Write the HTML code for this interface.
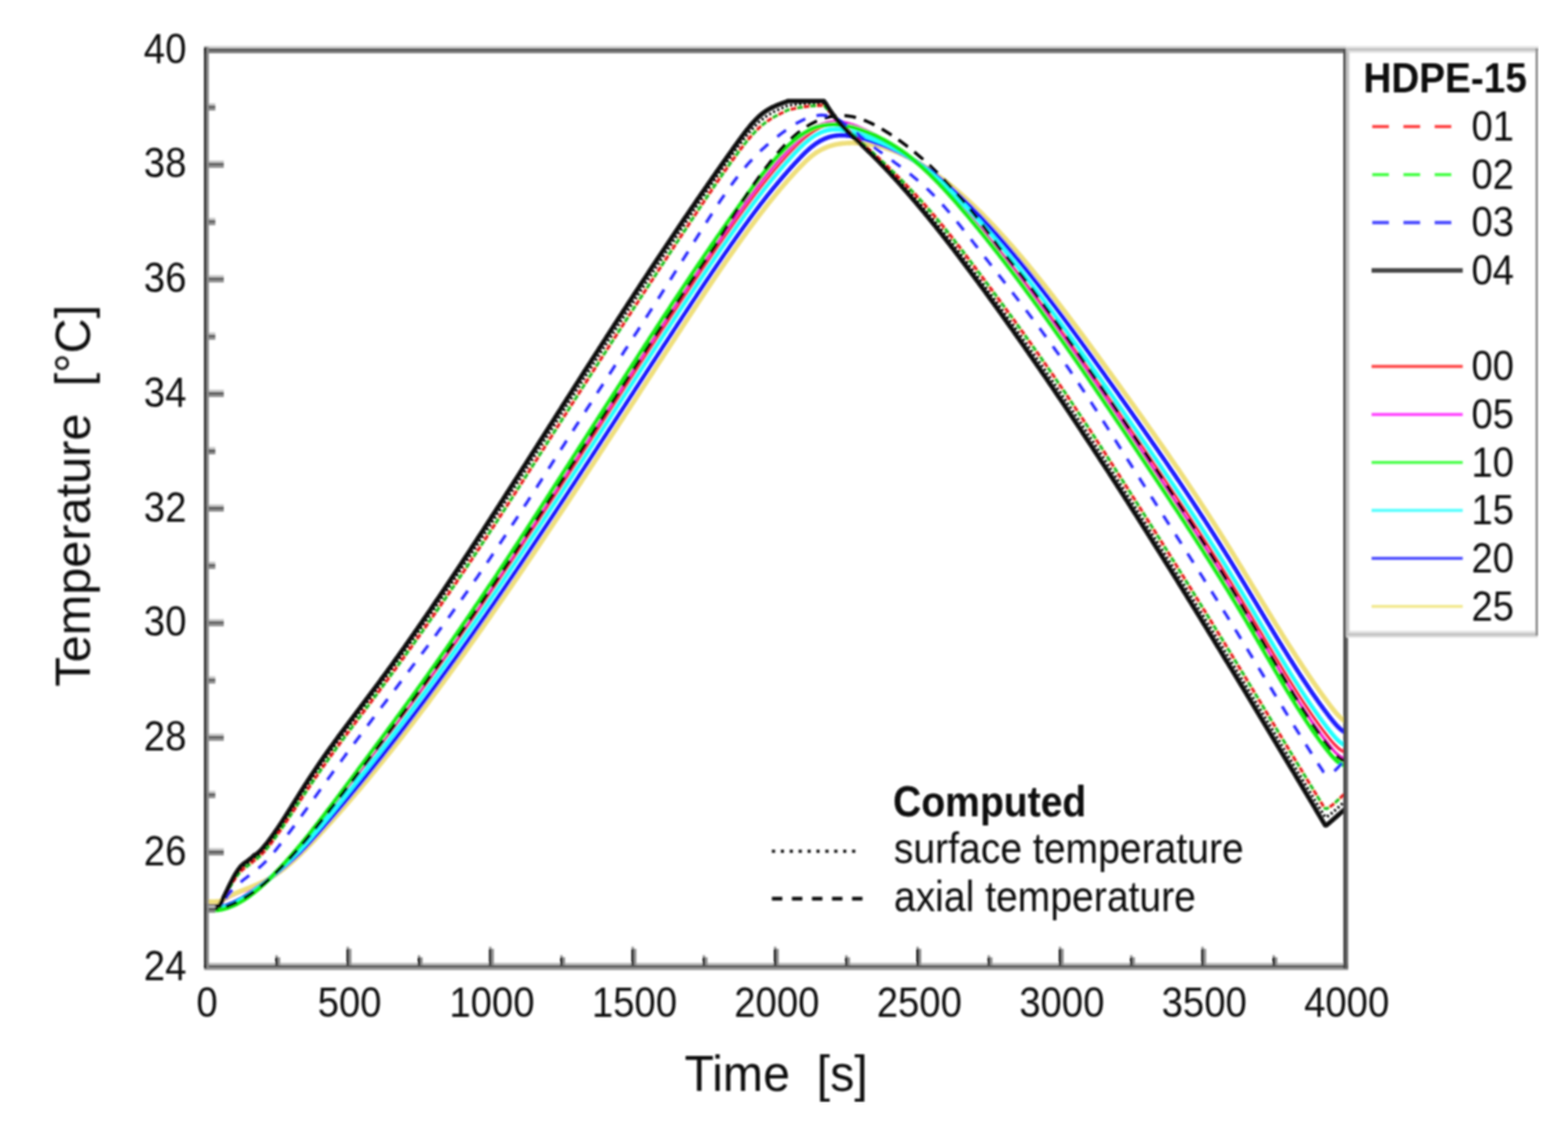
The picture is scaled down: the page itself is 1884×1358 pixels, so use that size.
<!DOCTYPE html>
<html><head><meta charset="utf-8"><style>html,body{margin:0;padding:0;background:#fff;overflow:hidden;}svg{display:block;}</style></head><body>
<svg width="1884" height="1358" viewBox="0 0 1884 1358">
<rect width="1884" height="1358" fill="#fff"/>
<defs><clipPath id="pc"><rect x="248" y="61" width="1369" height="1100"/></clipPath><filter id="bl" x="0" y="0" width="1" height="1"><feGaussianBlur stdDeviation="0.9"/></filter></defs>
<g filter="url(#bl)">
<g clip-path="url(#pc)" fill="none" stroke-linejoin="round">
<path d="M248.0 1084.0L249.0 1084.0L250.0 1084.0L251.0 1084.0L252.0 1084.0L253.0 1084.0L254.0 1084.0L255.0 1084.0L256.0 1084.0L257.0 1084.0L258.0 1084.0L259.0 1084.0L260.0 1083.9L261.0 1083.9L262.0 1083.9L263.0 1083.8L264.0 1083.7L265.0 1083.3L266.0 1082.7L267.0 1082.1L268.0 1081.5L269.0 1081.0L270.0 1080.5L271.0 1079.9L272.0 1079.4L273.0 1078.9L274.0 1078.4L275.0 1077.9L276.0 1077.4L277.0 1076.9L278.0 1076.4L279.0 1076.0L280.0 1075.5L281.0 1075.1L282.0 1074.6L283.0 1074.2L284.0 1073.7L285.0 1073.3L286.0 1072.9L287.0 1072.5L288.0 1072.0L289.0 1071.6L290.0 1071.2L291.0 1070.9L292.0 1070.6L293.0 1070.3L294.0 1070.0L295.0 1069.7L296.0 1069.4L297.0 1069.0L298.0 1068.7L299.0 1068.4L300.0 1068.0L301.0 1067.7L302.0 1067.3L303.0 1066.9L304.0 1066.5L305.0 1066.1L306.0 1065.7L307.0 1065.3L308.0 1064.8L309.0 1064.4L310.0 1063.9L311.0 1063.4L312.0 1062.9L313.0 1062.4L314.0 1061.9L315.0 1061.4L316.0 1060.8L317.0 1060.2L318.0 1059.6L319.0 1059.0L320.0 1058.4L321.0 1057.7L322.0 1057.1L323.0 1056.4L324.0 1055.7L325.0 1054.9L326.0 1054.2L327.0 1053.5L328.0 1052.7L329.0 1051.9L330.0 1051.1L331.0 1050.2L332.0 1049.4L333.0 1048.5L334.0 1047.6L335.0 1046.8L336.0 1045.8L337.0 1044.9L338.0 1044.0L339.0 1043.0L340.0 1042.0L341.0 1041.0L342.0 1040.0L343.0 1039.0L344.0 1038.0L345.0 1037.0L346.0 1035.9L347.0 1034.8L348.0 1033.7L349.0 1032.6L350.0 1031.5L351.0 1030.4L352.0 1029.3L353.0 1028.1L354.0 1027.0L355.0 1025.8L356.0 1024.6L357.0 1023.4L358.0 1022.2L359.0 1021.0L360.0 1019.8L361.0 1018.7L362.0 1017.6L363.0 1016.4L364.0 1015.3L365.0 1014.1L366.0 1013.0L367.0 1011.8L368.0 1010.7L369.0 1009.5L370.0 1008.3L371.0 1007.2L372.0 1006.0L373.0 1004.8L374.0 1003.6L375.0 1002.4L376.0 1001.2L377.0 1000.0L378.0 998.8L379.0 997.6L380.0 996.4L381.0 995.2L382.0 994.0L383.0 992.7L384.0 991.5L385.0 990.3L386.0 989.1L387.0 987.8L388.0 986.6L389.0 985.4L390.0 984.1L391.0 982.9L392.0 981.6L393.0 980.4L394.0 979.1L395.0 977.9L396.0 976.6L397.0 975.4L398.0 974.1L399.0 972.9L400.0 971.6L401.0 970.4L402.0 969.1L403.0 967.8L404.0 966.6L405.0 965.3L406.0 964.0L407.0 962.8L408.0 961.5L409.0 960.2L410.0 958.9L411.0 957.7L412.0 956.4L413.0 955.1L414.0 953.8L415.0 952.5L416.0 951.3L417.0 950.0L418.0 948.7L419.0 947.4L420.0 946.1L421.0 944.8L422.0 943.6L423.0 942.3L424.0 941.0L425.0 939.7L426.0 938.4L427.0 937.1L428.0 935.8L429.0 934.5L430.0 933.2L431.0 932.0L432.0 930.7L433.0 929.4L434.0 928.1L435.0 926.8L436.0 925.5L437.0 924.2L438.0 922.9L439.0 921.6L440.0 920.3L441.0 919.0L442.0 917.7L443.0 916.4L444.0 915.1L445.0 913.8L446.0 912.5L447.0 911.2L448.0 909.8L449.0 908.5L450.0 907.2L451.0 905.9L452.0 904.6L453.0 903.3L454.0 902.0L455.0 900.7L456.0 899.4L457.0 898.0L458.0 896.7L459.0 895.4L460.0 894.1L461.0 892.8L462.0 891.4L463.0 890.1L464.0 888.8L465.0 887.5L466.0 886.2L467.0 884.8L468.0 883.5L469.0 882.2L470.0 880.9L471.0 879.5L472.0 878.2L473.0 876.9L474.0 875.5L475.0 874.2L476.0 872.9L477.0 871.5L478.0 870.2L479.0 868.9L480.0 867.5L481.0 866.2L482.0 864.8L483.0 863.5L484.0 862.2L485.0 860.8L486.0 859.5L487.0 858.1L488.0 856.8L489.0 855.4L490.0 854.1L491.0 852.7L492.0 851.4L493.0 850.0L494.0 848.7L495.0 847.3L496.0 846.0L497.0 844.6L498.0 843.2L499.0 841.9L500.0 840.5L501.0 839.2L502.0 837.8L503.0 836.4L504.0 835.1L505.0 833.7L506.0 832.3L507.0 831.0L508.0 829.6L509.0 828.2L510.0 826.8L511.0 825.5L512.0 824.1L513.0 822.7L514.0 821.3L515.0 820.0L516.0 818.6L517.0 817.2L518.0 815.8L519.0 814.4L520.0 813.0L521.0 811.7L522.0 810.3L523.0 808.9L524.0 807.5L525.0 806.1L526.0 804.7L527.0 803.3L528.0 801.9L529.0 800.5L530.0 799.1L531.0 797.7L532.0 796.3L533.0 794.9L534.0 793.5L535.0 792.1L536.0 790.7L537.0 789.3L538.0 787.9L539.0 786.5L540.0 785.0L541.0 783.6L542.0 782.2L543.0 780.8L544.0 779.4L545.0 778.0L546.0 776.5L547.0 775.1L548.0 773.7L549.0 772.3L550.0 770.8L551.0 769.4L552.0 768.0L553.0 766.5L554.0 765.1L555.0 763.7L556.0 762.2L557.0 760.8L558.0 759.4L559.0 757.9L560.0 756.5L561.0 755.0L562.0 753.6L563.0 752.2L564.0 750.7L565.0 749.3L566.0 747.8L567.0 746.4L568.0 744.9L569.0 743.5L570.0 742.0L571.0 740.6L572.0 739.1L573.0 737.6L574.0 736.2L575.0 734.7L576.0 733.3L577.0 731.8L578.0 730.3L579.0 728.9L580.0 727.4L581.0 725.9L582.0 724.5L583.0 723.0L584.0 721.5L585.0 720.1L586.0 718.6L587.0 717.1L588.0 715.6L589.0 714.2L590.0 712.7L591.0 711.2L592.0 709.7L593.0 708.3L594.0 706.8L595.0 705.3L596.0 703.8L597.0 702.3L598.0 700.8L599.0 699.3L600.0 697.9L601.0 696.4L602.0 694.9L603.0 693.4L604.0 691.9L605.0 690.4L606.0 688.9L607.0 687.4L608.0 685.9L609.0 684.4L610.0 682.9L611.0 681.4L612.0 679.9L613.0 678.4L614.0 676.9L615.0 675.4L616.0 673.9L617.0 672.4L618.0 670.9L619.0 669.4L620.0 667.9L621.0 666.4L622.0 664.9L623.0 663.4L624.0 661.9L625.0 660.4L626.0 658.9L627.0 657.3L628.0 655.8L629.0 654.3L630.0 652.8L631.0 651.3L632.0 649.8L633.0 648.3L634.0 646.7L635.0 645.2L636.0 643.7L637.0 642.2L638.0 640.7L639.0 639.1L640.0 637.6L641.0 636.1L642.0 634.6L643.0 633.1L644.0 631.5L645.0 630.0L646.0 628.5L647.0 627.0L648.0 625.4L649.0 623.9L650.0 622.4L651.0 620.8L652.0 619.3L653.0 617.8L654.0 616.3L655.0 614.7L656.0 613.2L657.0 611.7L658.0 610.1L659.0 608.6L660.0 607.1L661.0 605.5L662.0 604.0L663.0 602.5L664.0 600.9L665.0 599.4L666.0 597.8L667.0 596.3L668.0 594.8L669.0 593.2L670.0 591.7L671.0 590.2L672.0 588.6L673.0 587.1L674.0 585.5L675.0 584.0L676.0 582.5L677.0 580.9L678.0 579.4L679.0 577.8L680.0 576.3L681.0 574.7L682.0 573.2L683.0 571.7L684.0 570.1L685.0 568.6L686.0 567.0L687.0 565.5L688.0 563.9L689.0 562.4L690.0 560.8L691.0 559.3L692.0 557.7L693.0 556.2L694.0 554.7L695.0 553.1L696.0 551.6L697.0 550.0L698.0 548.5L699.0 546.9L700.0 545.4L701.0 543.8L702.0 542.3L703.0 540.7L704.0 539.2L705.0 537.6L706.0 536.1L707.0 534.5L708.0 533.0L709.0 531.4L710.0 529.9L711.0 528.3L712.0 526.8L713.0 525.2L714.0 523.7L715.0 522.1L716.0 520.6L717.0 519.0L718.0 517.5L719.0 515.9L720.0 514.4L721.0 512.8L722.0 511.3L723.0 509.7L724.0 508.2L725.0 506.6L726.0 505.0L727.0 503.5L728.0 501.9L729.0 500.4L730.0 498.8L731.0 497.3L732.0 495.7L733.0 494.2L734.0 492.6L735.0 491.1L736.0 489.5L737.0 488.0L738.0 486.4L739.0 484.9L740.0 483.3L741.0 481.8L742.0 480.2L743.0 478.7L744.0 477.1L745.0 475.6L746.0 474.0L747.0 472.5L748.0 470.9L749.0 469.4L750.0 467.8L751.0 466.3L752.0 464.7L753.0 463.2L754.0 461.6L755.0 460.1L756.0 458.5L757.0 457.0L758.0 455.5L759.0 453.9L760.0 452.4L761.0 450.8L762.0 449.3L763.0 447.7L764.0 446.2L765.0 444.6L766.0 443.1L767.0 441.5L768.0 440.0L769.0 438.5L770.0 436.9L771.0 435.4L772.0 433.8L773.0 432.3L774.0 430.7L775.0 429.2L776.0 427.7L777.0 426.1L778.0 424.6L779.0 423.0L780.0 421.5L781.0 420.0L782.0 418.4L783.0 416.9L784.0 415.4L785.0 413.8L786.0 412.3L787.0 410.8L788.0 409.2L789.0 407.7L790.0 406.2L791.0 404.6L792.0 403.1L793.0 401.6L794.0 400.0L795.0 398.5L796.0 397.0L797.0 395.4L798.0 393.9L799.0 392.4L800.0 390.9L801.0 389.3L802.0 387.8L803.0 386.3L804.0 384.8L805.0 383.2L806.0 381.7L807.0 380.2L808.0 378.7L809.0 377.1L810.0 375.6L811.0 374.1L812.0 372.6L813.0 371.1L814.0 369.6L815.0 368.0L816.0 366.5L817.0 365.0L818.0 363.5L819.0 362.0L820.0 360.5L821.0 359.0L822.0 357.5L823.0 355.9L824.0 354.4L825.0 352.9L826.0 351.4L827.0 349.9L828.0 348.4L829.0 346.9L830.0 345.4L831.0 343.9L832.0 342.4L833.0 340.9L834.0 339.4L835.0 337.9L836.0 336.4L837.0 334.9L838.0 333.4L839.0 331.9L840.0 330.5L841.0 329.0L842.0 327.5L843.0 326.0L844.0 324.5L845.0 323.0L846.0 321.5L847.0 320.1L848.0 318.6L849.0 317.1L850.0 315.6L851.0 314.2L852.0 312.7L853.0 311.2L854.0 309.7L855.0 308.3L856.0 306.8L857.0 305.3L858.0 303.9L859.0 302.4L860.0 301.0L861.0 299.5L862.0 298.1L863.0 296.6L864.0 295.1L865.0 293.7L866.0 292.2L867.0 290.8L868.0 289.4L869.0 287.9L870.0 286.5L871.0 285.0L872.0 283.6L873.0 282.2L874.0 280.7L875.0 279.3L876.0 277.9L877.0 276.4L878.0 275.0L879.0 273.6L880.0 272.2L881.0 270.7L882.0 269.3L883.0 267.9L884.0 266.5L885.0 265.1L886.0 263.7L887.0 262.3L888.0 260.9L889.0 259.5L890.0 258.1L891.0 256.7L892.0 255.3L893.0 253.9L894.0 252.5L895.0 251.1L896.0 249.7L897.0 248.3L898.0 247.0L899.0 245.6L900.0 244.2L901.0 242.9L902.0 241.5L903.0 240.1L904.0 238.8L905.0 237.4L906.0 236.1L907.0 234.8L908.0 233.4L909.0 232.1L910.0 230.8L911.0 229.5L912.0 228.2L913.0 226.8L914.0 225.5L915.0 224.3L916.0 223.0L917.0 221.7L918.0 220.4L919.0 219.1L920.0 217.9L921.0 216.6L922.0 215.3L923.0 214.1L924.0 212.9L925.0 211.6L926.0 210.4L927.0 209.2L928.0 207.9L929.0 206.7L930.0 205.5L931.0 204.3L932.0 203.2L933.0 202.0L934.0 200.8L935.0 199.6L936.0 198.5L937.0 197.3L938.0 196.2L939.0 195.0L940.0 193.9L941.0 192.8L942.0 191.6L943.0 190.5L944.0 189.4L945.0 188.3L946.0 187.2L947.0 186.2L948.0 185.1L949.0 184.0L950.0 183.0L951.0 181.9L952.0 180.9L953.0 179.8L954.0 178.8L955.0 177.8L956.0 176.8L957.0 175.8L958.0 174.8L959.0 173.8L960.0 172.8L961.0 171.9L962.0 170.9L963.0 170.0L964.0 169.1L965.0 168.2L966.0 167.3L967.0 166.4L968.0 165.5L969.0 164.6L970.0 163.8L971.0 163.0L972.0 162.2L973.0 161.4L974.0 160.6L975.0 159.9L976.0 159.1L977.0 158.4L978.0 157.7L979.0 157.1L980.0 156.4L981.0 155.8L982.0 155.2L983.0 154.7L984.0 154.1L985.0 153.6L986.0 153.1L987.0 152.6L988.0 152.1L989.0 151.7L990.0 151.3L991.0 150.9L992.0 150.5L993.0 150.2L994.0 149.9L995.0 149.6L996.0 149.3L997.0 149.0L998.0 148.8L999.0 148.6L1000.0 148.4L1001.0 148.3L1002.0 148.1L1003.0 148.0L1004.0 147.9L1005.0 147.9L1006.0 147.8L1007.0 147.8L1008.0 147.8L1009.0 147.8L1010.0 147.9L1011.0 148.0L1012.0 148.0L1013.0 148.2L1014.0 148.3L1015.0 148.4L1016.0 148.6L1017.0 148.8L1018.0 149.0L1019.0 149.2L1020.0 149.5L1021.0 149.7L1022.0 150.0L1023.0 150.3L1024.0 150.6L1025.0 150.9L1026.0 151.2L1027.0 151.6L1028.0 151.9L1029.0 152.3L1030.0 152.7L1031.0 153.1L1032.0 153.5L1033.0 153.9L1034.0 154.4L1035.0 154.8L1036.0 155.2L1037.0 155.7L1038.0 156.2L1039.0 156.6L1040.0 157.1L1041.0 157.6L1042.0 158.1L1043.0 158.6L1044.0 159.1L1045.0 159.6L1046.0 160.1L1047.0 160.6L1048.0 161.2L1049.0 161.7L1050.0 162.2L1051.0 162.7L1052.0 163.3L1053.0 163.8L1054.0 164.4L1055.0 164.9L1056.0 165.5L1057.0 166.0L1058.0 166.6L1059.0 167.2L1060.0 167.7L1061.0 168.3L1062.0 168.9L1063.0 169.5L1064.0 170.1L1065.0 170.6L1066.0 171.2L1067.0 171.8L1068.0 172.4L1069.0 173.0L1070.0 173.6L1071.0 174.2L1072.0 174.8L1073.0 175.4L1074.0 176.1L1075.0 176.7L1076.0 177.3L1077.0 177.9L1078.0 178.6L1079.0 179.2L1080.0 179.8L1081.0 180.5L1082.0 181.1L1083.0 181.8L1084.0 182.4L1085.0 183.1L1086.0 183.8L1087.0 184.5L1088.0 185.1L1089.0 185.8L1090.0 186.5L1091.0 187.2L1092.0 187.9L1093.0 188.6L1094.0 189.4L1095.0 190.1L1096.0 190.8L1097.0 191.5L1098.0 192.3L1099.0 193.0L1100.0 193.8L1101.0 194.6L1102.0 195.3L1103.0 196.1L1104.0 196.9L1105.0 197.7L1106.0 198.5L1107.0 199.3L1108.0 200.1L1109.0 200.9L1110.0 201.7L1111.0 202.6L1112.0 203.4L1113.0 204.3L1114.0 205.1L1115.0 206.0L1116.0 206.9L1117.0 207.7L1118.0 208.6L1119.0 209.5L1120.0 210.4L1121.0 211.3L1122.0 212.2L1123.0 213.1L1124.0 214.1L1125.0 215.0L1126.0 215.9L1127.0 216.9L1128.0 217.8L1129.0 218.8L1130.0 219.7L1131.0 220.7L1132.0 221.7L1133.0 222.6L1134.0 223.6L1135.0 224.6L1136.0 225.6L1137.0 226.6L1138.0 227.6L1139.0 228.6L1140.0 229.6L1141.0 230.6L1142.0 231.7L1143.0 232.7L1144.0 233.7L1145.0 234.8L1146.0 235.8L1147.0 236.9L1148.0 237.9L1149.0 239.0L1150.0 240.0L1151.0 241.1L1152.0 242.2L1153.0 243.2L1154.0 244.3L1155.0 245.4L1156.0 246.5L1157.0 247.5L1158.0 248.6L1159.0 249.7L1160.0 250.8L1161.0 251.9L1162.0 253.0L1163.0 254.1L1164.0 255.2L1165.0 256.4L1166.0 257.5L1167.0 258.6L1168.0 259.7L1169.0 260.8L1170.0 262.0L1171.0 263.1L1172.0 264.2L1173.0 265.4L1174.0 266.5L1175.0 267.7L1176.0 268.8L1177.0 270.0L1178.0 271.1L1179.0 272.3L1180.0 273.5L1181.0 274.6L1182.0 275.8L1183.0 277.0L1184.0 278.1L1185.0 279.3L1186.0 280.5L1187.0 281.7L1188.0 282.9L1189.0 284.1L1190.0 285.3L1191.0 286.4L1192.0 287.6L1193.0 288.8L1194.0 290.1L1195.0 291.3L1196.0 292.5L1197.0 293.7L1198.0 294.9L1199.0 296.1L1200.0 297.3L1201.0 298.6L1202.0 299.8L1203.0 301.0L1204.0 302.3L1205.0 303.5L1206.0 304.7L1207.0 306.0L1208.0 307.2L1209.0 308.5L1210.0 309.7L1211.0 311.0L1212.0 312.2L1213.0 313.5L1214.0 314.8L1215.0 316.0L1216.0 317.3L1217.0 318.5L1218.0 319.8L1219.0 321.1L1220.0 322.4L1221.0 323.6L1222.0 324.9L1223.0 326.2L1224.0 327.5L1225.0 328.8L1226.0 330.1L1227.0 331.4L1228.0 332.7L1229.0 334.0L1230.0 335.3L1231.0 336.6L1232.0 337.9L1233.0 339.2L1234.0 340.5L1235.0 341.8L1236.0 343.1L1237.0 344.4L1238.0 345.7L1239.0 347.1L1240.0 348.4L1241.0 349.7L1242.0 351.0L1243.0 352.4L1244.0 353.7L1245.0 355.0L1246.0 356.4L1247.0 357.7L1248.0 359.0L1249.0 360.4L1250.0 361.7L1251.0 363.1L1252.0 364.4L1253.0 365.8L1254.0 367.1L1255.0 368.5L1256.0 369.8L1257.0 371.2L1258.0 372.5L1259.0 373.9L1260.0 375.3L1261.0 376.6L1262.0 378.0L1263.0 379.4L1264.0 380.7L1265.0 382.1L1266.0 383.5L1267.0 384.8L1268.0 386.2L1269.0 387.6L1270.0 389.0L1271.0 390.4L1272.0 391.7L1273.0 393.1L1274.0 394.5L1275.0 395.9L1276.0 397.3L1277.0 398.7L1278.0 400.1L1279.0 401.5L1280.0 402.9L1281.0 404.3L1282.0 405.7L1283.0 407.1L1284.0 408.5L1285.0 409.9L1286.0 411.3L1287.0 412.7L1288.0 414.1L1289.0 415.5L1290.0 416.9L1291.0 418.3L1292.0 419.7L1293.0 421.1L1294.0 422.5L1295.0 424.0L1296.0 425.4L1297.0 426.8L1298.0 428.2L1299.0 429.6L1300.0 431.1L1301.0 432.5L1302.0 433.9L1303.0 435.3L1304.0 436.7L1305.0 438.2L1306.0 439.6L1307.0 441.0L1308.0 442.5L1309.0 443.9L1310.0 445.3L1311.0 446.8L1312.0 448.2L1313.0 449.6L1314.0 451.1L1315.0 452.5L1316.0 453.9L1317.0 455.4L1318.0 456.8L1319.0 458.3L1320.0 459.7L1321.0 461.1L1322.0 462.6L1323.0 464.0L1324.0 465.5L1325.0 466.9L1326.0 468.4L1327.0 469.8L1328.0 471.3L1329.0 472.7L1330.0 474.1L1331.0 475.6L1332.0 477.0L1333.0 478.5L1334.0 479.9L1335.0 481.4L1336.0 482.9L1337.0 484.3L1338.0 485.8L1339.0 487.2L1340.0 488.7L1341.0 490.1L1342.0 491.6L1343.0 493.0L1344.0 494.5L1345.0 495.9L1346.0 497.4L1347.0 498.9L1348.0 500.3L1349.0 501.8L1350.0 503.2L1351.0 504.7L1352.0 506.2L1353.0 507.6L1354.0 509.1L1355.0 510.5L1356.0 512.0L1357.0 513.5L1358.0 514.9L1359.0 516.4L1360.0 517.9L1361.0 519.3L1362.0 520.8L1363.0 522.3L1364.0 523.7L1365.0 525.2L1366.0 526.6L1367.0 528.1L1368.0 529.6L1369.0 531.1L1370.0 532.5L1371.0 534.0L1372.0 535.5L1373.0 536.9L1374.0 538.4L1375.0 539.9L1376.0 541.3L1377.0 542.8L1378.0 544.3L1379.0 545.8L1380.0 547.2L1381.0 548.7L1382.0 550.2L1383.0 551.7L1384.0 553.1L1385.0 554.6L1386.0 556.1L1387.0 557.6L1388.0 559.0L1389.0 560.5L1390.0 562.0L1391.0 563.5L1392.0 565.0L1393.0 566.4L1394.0 567.9L1395.0 569.4L1396.0 570.9L1397.0 572.4L1398.0 573.9L1399.0 575.4L1400.0 576.8L1401.0 578.3L1402.0 579.8L1403.0 581.3L1404.0 582.8L1405.0 584.3L1406.0 585.8L1407.0 587.3L1408.0 588.8L1409.0 590.3L1410.0 591.8L1411.0 593.3L1412.0 594.8L1413.0 596.3L1414.0 597.8L1415.0 599.3L1416.0 600.8L1417.0 602.3L1418.0 603.8L1419.0 605.4L1420.0 606.9L1421.0 608.4L1422.0 609.9L1423.0 611.4L1424.0 612.9L1425.0 614.5L1426.0 616.0L1427.0 617.5L1428.0 619.0L1429.0 620.5L1430.0 622.1L1431.0 623.6L1432.0 625.1L1433.0 626.7L1434.0 628.2L1435.0 629.7L1436.0 631.3L1437.0 632.8L1438.0 634.4L1439.0 635.9L1440.0 637.4L1441.0 639.0L1442.0 640.5L1443.0 642.1L1444.0 643.6L1445.0 645.2L1446.0 646.8L1447.0 648.3L1448.0 649.9L1449.0 651.4L1450.0 653.0L1451.0 654.6L1452.0 656.1L1453.0 657.7L1454.0 659.3L1455.0 660.9L1456.0 662.4L1457.0 664.0L1458.0 665.6L1459.0 667.2L1460.0 668.8L1461.0 670.3L1462.0 671.9L1463.0 673.5L1464.0 675.1L1465.0 676.7L1466.0 678.3L1467.0 679.9L1468.0 681.5L1469.0 683.1L1470.0 684.7L1471.0 686.3L1472.0 688.0L1473.0 689.6L1474.0 691.2L1475.0 692.8L1476.0 694.4L1477.0 696.1L1478.0 697.7L1479.0 699.3L1480.0 701.0L1481.0 702.6L1482.0 704.2L1483.0 705.9L1484.0 707.5L1485.0 709.2L1486.0 710.8L1487.0 712.5L1488.0 714.1L1489.0 715.8L1490.0 717.4L1491.0 719.1L1492.0 720.7L1493.0 722.4L1494.0 724.1L1495.0 725.7L1496.0 727.4L1497.0 729.1L1498.0 730.8L1499.0 732.4L1500.0 734.1L1501.0 735.8L1502.0 737.5L1503.0 739.2L1504.0 740.8L1505.0 742.5L1506.0 744.2L1507.0 745.9L1508.0 747.6L1509.0 749.3L1510.0 751.0L1511.0 752.7L1512.0 754.4L1513.0 756.1L1514.0 757.8L1515.0 759.5L1516.0 761.2L1517.0 762.9L1518.0 764.6L1519.0 766.3L1520.0 768.0L1521.0 769.7L1522.0 771.4L1523.0 773.1L1524.0 774.8L1525.0 776.5L1526.0 778.2L1527.0 779.8L1528.0 781.5L1529.0 783.2L1530.0 784.9L1531.0 786.6L1532.0 788.3L1533.0 790.0L1534.0 791.6L1535.0 793.3L1536.0 795.0L1537.0 796.7L1538.0 798.3L1539.0 800.0L1540.0 801.7L1541.0 803.3L1542.0 805.0L1543.0 806.6L1544.0 808.3L1545.0 809.9L1546.0 811.6L1547.0 813.2L1548.0 814.8L1549.0 816.5L1550.0 818.1L1551.0 819.7L1552.0 821.3L1553.0 822.9L1554.0 824.5L1555.0 826.1L1556.0 827.7L1557.0 829.3L1558.0 830.9L1559.0 832.5L1560.0 834.1L1561.0 835.6L1562.0 837.2L1563.0 838.7L1564.0 840.3L1565.0 841.8L1566.0 843.4L1567.0 844.9L1568.0 846.4L1569.0 847.9L1570.0 849.4L1571.0 850.9L1572.0 852.4L1573.0 853.9L1574.0 855.4L1575.0 856.9L1576.0 858.3L1577.0 859.8L1578.0 861.2L1579.0 862.7L1580.0 864.1L1581.0 865.5L1582.0 866.9L1583.0 868.3L1584.0 869.7L1585.0 871.1L1586.0 872.5L1587.0 873.9L1588.0 875.2L1589.0 876.6L1590.0 877.9L1591.0 879.2L1592.0 880.5L1593.0 881.8L1594.0 883.1L1595.0 884.4L1596.0 885.7L1597.0 887.0L1598.0 888.2L1599.0 889.5L1600.0 890.7L1601.0 891.8L1602.0 893.0L1603.0 894.1L1604.0 895.2L1605.0 896.2L1606.0 897.2L1607.0 898.2L1608.0 899.1L1609.0 899.9L1610.0 900.7L1611.0 901.4L1612.0 902.0L1613.0 902.6L1614.0 903.1L1615.0 903.5L1616.0 903.8L1617.0 904.1" stroke="#ff2a4a" stroke-width="3.8"/>
<path d="M248.0 1084.3L249.0 1084.3L250.0 1084.3L251.0 1084.3L252.0 1084.3L253.0 1084.3L254.0 1084.3L255.0 1084.3L256.0 1084.3L257.0 1084.3L258.0 1084.3L259.0 1084.3L260.0 1084.3L261.0 1084.2L262.0 1084.2L263.0 1084.1L264.0 1084.0L265.0 1083.6L266.0 1083.0L267.0 1082.5L268.0 1081.9L269.0 1081.3L270.0 1080.8L271.0 1080.3L272.0 1079.8L273.0 1079.3L274.0 1078.8L275.0 1078.3L276.0 1077.8L277.0 1077.3L278.0 1076.8L279.0 1076.4L280.0 1075.9L281.0 1075.5L282.0 1075.0L283.0 1074.6L284.0 1074.1L285.0 1073.7L286.0 1073.3L287.0 1072.8L288.0 1072.4L289.0 1072.0L290.0 1071.6L291.0 1071.3L292.0 1071.0L293.0 1070.7L294.0 1070.4L295.0 1070.1L296.0 1069.8L297.0 1069.5L298.0 1069.2L299.0 1068.8L300.0 1068.5L301.0 1068.1L302.0 1067.8L303.0 1067.4L304.0 1067.0L305.0 1066.6L306.0 1066.2L307.0 1065.7L308.0 1065.3L309.0 1064.8L310.0 1064.3L311.0 1063.8L312.0 1063.3L313.0 1062.8L314.0 1062.2L315.0 1061.7L316.0 1061.1L317.0 1060.5L318.0 1059.8L319.0 1059.2L320.0 1058.5L321.0 1057.9L322.0 1057.2L323.0 1056.4L324.0 1055.7L325.0 1054.9L326.0 1054.2L327.0 1053.4L328.0 1052.6L329.0 1051.7L330.0 1050.9L331.0 1050.0L332.0 1049.1L333.0 1048.2L334.0 1047.3L335.0 1046.3L336.0 1045.4L337.0 1044.4L338.0 1043.4L339.0 1042.4L340.0 1041.4L341.0 1040.4L342.0 1039.3L343.0 1038.3L344.0 1037.2L345.0 1036.1L346.0 1035.0L347.0 1033.9L348.0 1032.7L349.0 1031.6L350.0 1030.4L351.0 1029.2L352.0 1028.1L353.0 1026.9L354.0 1025.6L355.0 1024.4L356.0 1023.2L357.0 1022.0L358.0 1020.7L359.0 1019.4L360.0 1018.2L361.0 1017.0L362.0 1015.8L363.0 1014.7L364.0 1013.5L365.0 1012.3L366.0 1011.1L367.0 1009.9L368.0 1008.7L369.0 1007.5L370.0 1006.3L371.0 1005.1L372.0 1003.9L373.0 1002.7L374.0 1001.5L375.0 1000.2L376.0 999.0L377.0 997.8L378.0 996.5L379.0 995.3L380.0 994.1L381.0 992.8L382.0 991.6L383.0 990.3L384.0 989.1L385.0 987.8L386.0 986.5L387.0 985.3L388.0 984.0L389.0 982.7L390.0 981.5L391.0 980.2L392.0 978.9L393.0 977.7L394.0 976.4L395.0 975.1L396.0 973.8L397.0 972.5L398.0 971.2L399.0 969.9L400.0 968.7L401.0 967.4L402.0 966.1L403.0 964.8L404.0 963.5L405.0 962.2L406.0 960.9L407.0 959.6L408.0 958.3L409.0 957.0L410.0 955.7L411.0 954.4L412.0 953.1L413.0 951.8L414.0 950.4L415.0 949.1L416.0 947.8L417.0 946.5L418.0 945.2L419.0 943.9L420.0 942.6L421.0 941.3L422.0 940.0L423.0 938.6L424.0 937.3L425.0 936.0L426.0 934.7L427.0 933.4L428.0 932.1L429.0 930.8L430.0 929.4L431.0 928.1L432.0 926.8L433.0 925.5L434.0 924.2L435.0 922.9L436.0 921.5L437.0 920.2L438.0 918.9L439.0 917.6L440.0 916.3L441.0 914.9L442.0 913.6L443.0 912.3L444.0 911.0L445.0 909.6L446.0 908.3L447.0 907.0L448.0 905.7L449.0 904.3L450.0 903.0L451.0 901.7L452.0 900.3L453.0 899.0L454.0 897.7L455.0 896.4L456.0 895.0L457.0 893.7L458.0 892.4L459.0 891.0L460.0 889.7L461.0 888.4L462.0 887.0L463.0 885.7L464.0 884.3L465.0 883.0L466.0 881.7L467.0 880.3L468.0 879.0L469.0 877.6L470.0 876.3L471.0 875.0L472.0 873.6L473.0 872.3L474.0 870.9L475.0 869.6L476.0 868.2L477.0 866.9L478.0 865.5L479.0 864.2L480.0 862.8L481.0 861.5L482.0 860.1L483.0 858.8L484.0 857.4L485.0 856.0L486.0 854.7L487.0 853.3L488.0 852.0L489.0 850.6L490.0 849.2L491.0 847.9L492.0 846.5L493.0 845.2L494.0 843.8L495.0 842.4L496.0 841.1L497.0 839.7L498.0 838.3L499.0 836.9L500.0 835.6L501.0 834.2L502.0 832.8L503.0 831.5L504.0 830.1L505.0 828.7L506.0 827.3L507.0 825.9L508.0 824.6L509.0 823.2L510.0 821.8L511.0 820.4L512.0 819.0L513.0 817.6L514.0 816.3L515.0 814.9L516.0 813.5L517.0 812.1L518.0 810.7L519.0 809.3L520.0 807.9L521.0 806.5L522.0 805.1L523.0 803.7L524.0 802.3L525.0 800.9L526.0 799.5L527.0 798.1L528.0 796.7L529.0 795.3L530.0 793.9L531.0 792.5L532.0 791.1L533.0 789.6L534.0 788.2L535.0 786.8L536.0 785.4L537.0 784.0L538.0 782.6L539.0 781.1L540.0 779.7L541.0 778.3L542.0 776.9L543.0 775.5L544.0 774.0L545.0 772.6L546.0 771.2L547.0 769.7L548.0 768.3L549.0 766.9L550.0 765.4L551.0 764.0L552.0 762.6L553.0 761.1L554.0 759.7L555.0 758.2L556.0 756.8L557.0 755.3L558.0 753.9L559.0 752.4L560.0 751.0L561.0 749.5L562.0 748.1L563.0 746.6L564.0 745.2L565.0 743.7L566.0 742.3L567.0 740.8L568.0 739.3L569.0 737.9L570.0 736.4L571.0 735.0L572.0 733.5L573.0 732.0L574.0 730.6L575.0 729.1L576.0 727.6L577.0 726.1L578.0 724.7L579.0 723.2L580.0 721.7L581.0 720.2L582.0 718.8L583.0 717.3L584.0 715.8L585.0 714.3L586.0 712.8L587.0 711.4L588.0 709.9L589.0 708.4L590.0 706.9L591.0 705.4L592.0 703.9L593.0 702.4L594.0 701.0L595.0 699.5L596.0 698.0L597.0 696.5L598.0 695.0L599.0 693.5L600.0 692.0L601.0 690.5L602.0 689.0L603.0 687.5L604.0 686.0L605.0 684.5L606.0 683.0L607.0 681.5L608.0 680.0L609.0 678.5L610.0 677.0L611.0 675.5L612.0 674.0L613.0 672.4L614.0 670.9L615.0 669.4L616.0 667.9L617.0 666.4L618.0 664.9L619.0 663.4L620.0 661.9L621.0 660.3L622.0 658.8L623.0 657.3L624.0 655.8L625.0 654.3L626.0 652.7L627.0 651.2L628.0 649.7L629.0 648.2L630.0 646.7L631.0 645.1L632.0 643.6L633.0 642.1L634.0 640.6L635.0 639.0L636.0 637.5L637.0 636.0L638.0 634.4L639.0 632.9L640.0 631.4L641.0 629.9L642.0 628.3L643.0 626.8L644.0 625.3L645.0 623.7L646.0 622.2L647.0 620.7L648.0 619.1L649.0 617.6L650.0 616.1L651.0 614.5L652.0 613.0L653.0 611.4L654.0 609.9L655.0 608.4L656.0 606.8L657.0 605.3L658.0 603.7L659.0 602.2L660.0 600.7L661.0 599.1L662.0 597.6L663.0 596.0L664.0 594.5L665.0 592.9L666.0 591.4L667.0 589.9L668.0 588.3L669.0 586.8L670.0 585.2L671.0 583.7L672.0 582.1L673.0 580.6L674.0 579.0L675.0 577.5L676.0 575.9L677.0 574.4L678.0 572.8L679.0 571.3L680.0 569.7L681.0 568.2L682.0 566.6L683.0 565.1L684.0 563.5L685.0 562.0L686.0 560.4L687.0 558.9L688.0 557.3L689.0 555.8L690.0 554.2L691.0 552.7L692.0 551.1L693.0 549.6L694.0 548.0L695.0 546.4L696.0 544.9L697.0 543.3L698.0 541.8L699.0 540.2L700.0 538.7L701.0 537.1L702.0 535.6L703.0 534.0L704.0 532.5L705.0 530.9L706.0 529.3L707.0 527.8L708.0 526.2L709.0 524.7L710.0 523.1L711.0 521.6L712.0 520.0L713.0 518.5L714.0 516.9L715.0 515.3L716.0 513.8L717.0 512.2L718.0 510.7L719.0 509.1L720.0 507.6L721.0 506.0L722.0 504.4L723.0 502.9L724.0 501.3L725.0 499.8L726.0 498.2L727.0 496.7L728.0 495.1L729.0 493.6L730.0 492.0L731.0 490.4L732.0 488.9L733.0 487.3L734.0 485.8L735.0 484.2L736.0 482.7L737.0 481.1L738.0 479.6L739.0 478.0L740.0 476.4L741.0 474.9L742.0 473.3L743.0 471.8L744.0 470.2L745.0 468.7L746.0 467.1L747.0 465.6L748.0 464.0L749.0 462.5L750.0 460.9L751.0 459.4L752.0 457.8L753.0 456.3L754.0 454.7L755.0 453.2L756.0 451.6L757.0 450.1L758.0 448.5L759.0 447.0L760.0 445.4L761.0 443.9L762.0 442.3L763.0 440.8L764.0 439.2L765.0 437.7L766.0 436.1L767.0 434.6L768.0 433.0L769.0 431.5L770.0 429.9L771.0 428.4L772.0 426.9L773.0 425.3L774.0 423.8L775.0 422.2L776.0 420.7L777.0 419.2L778.0 417.6L779.0 416.1L780.0 414.5L781.0 413.0L782.0 411.5L783.0 409.9L784.0 408.4L785.0 406.9L786.0 405.3L787.0 403.8L788.0 402.2L789.0 400.7L790.0 399.2L791.0 397.7L792.0 396.1L793.0 394.6L794.0 393.1L795.0 391.5L796.0 390.0L797.0 388.5L798.0 387.0L799.0 385.4L800.0 383.9L801.0 382.4L802.0 380.9L803.0 379.3L804.0 377.8L805.0 376.3L806.0 374.8L807.0 373.2L808.0 371.7L809.0 370.2L810.0 368.7L811.0 367.2L812.0 365.7L813.0 364.2L814.0 362.6L815.0 361.1L816.0 359.6L817.0 358.1L818.0 356.6L819.0 355.1L820.0 353.6L821.0 352.1L822.0 350.6L823.0 349.1L824.0 347.6L825.0 346.1L826.0 344.6L827.0 343.1L828.0 341.6L829.0 340.1L830.0 338.6L831.0 337.1L832.0 335.6L833.0 334.1L834.0 332.6L835.0 331.1L836.0 329.6L837.0 328.1L838.0 326.6L839.0 325.2L840.0 323.7L841.0 322.2L842.0 320.7L843.0 319.2L844.0 317.7L845.0 316.3L846.0 314.8L847.0 313.3L848.0 311.8L849.0 310.4L850.0 308.9L851.0 307.4L852.0 306.0L853.0 304.5L854.0 303.0L855.0 301.6L856.0 300.1L857.0 298.6L858.0 297.2L859.0 295.7L860.0 294.3L861.0 292.8L862.0 291.4L863.0 289.9L864.0 288.5L865.0 287.0L866.0 285.6L867.0 284.1L868.0 282.7L869.0 281.3L870.0 279.8L871.0 278.4L872.0 276.9L873.0 275.5L874.0 274.1L875.0 272.7L876.0 271.2L877.0 269.8L878.0 268.4L879.0 267.0L880.0 265.5L881.0 264.1L882.0 262.7L883.0 261.3L884.0 259.9L885.0 258.5L886.0 257.1L887.0 255.7L888.0 254.2L889.0 252.8L890.0 251.4L891.0 250.0L892.0 248.7L893.0 247.3L894.0 245.9L895.0 244.5L896.0 243.1L897.0 241.7L898.0 240.3L899.0 239.0L900.0 237.6L901.0 236.2L902.0 234.9L903.0 233.5L904.0 232.2L905.0 230.8L906.0 229.5L907.0 228.1L908.0 226.8L909.0 225.5L910.0 224.2L911.0 222.9L912.0 221.5L913.0 220.2L914.0 218.9L915.0 217.6L916.0 216.4L917.0 215.1L918.0 213.8L919.0 212.5L920.0 211.3L921.0 210.0L922.0 208.8L923.0 207.5L924.0 206.3L925.0 205.1L926.0 203.9L927.0 202.7L928.0 201.4L929.0 200.3L930.0 199.1L931.0 197.9L932.0 196.7L933.0 195.5L934.0 194.4L935.0 193.2L936.0 192.1L937.0 191.0L938.0 189.8L939.0 188.7L940.0 187.6L941.0 186.5L942.0 185.4L943.0 184.3L944.0 183.3L945.0 182.2L946.0 181.2L947.0 180.1L948.0 179.1L949.0 178.1L950.0 177.1L951.0 176.1L952.0 175.1L953.0 174.1L954.0 173.1L955.0 172.1L956.0 171.2L957.0 170.3L958.0 169.3L959.0 168.4L960.0 167.5L961.0 166.6L962.0 165.8L963.0 164.9L964.0 164.0L965.0 163.2L966.0 162.4L967.0 161.6L968.0 160.8L969.0 160.0L970.0 159.3L971.0 158.5L972.0 157.8L973.0 157.1L974.0 156.4L975.0 155.8L976.0 155.1L977.0 154.5L978.0 153.9L979.0 153.4L980.0 152.8L981.0 152.3L982.0 151.8L983.0 151.3L984.0 150.8L985.0 150.4L986.0 150.0L987.0 149.6L988.0 149.2L989.0 148.9L990.0 148.5L991.0 148.2L992.0 147.9L993.0 147.7L994.0 147.4L995.0 147.2L996.0 147.0L997.0 146.9L998.0 146.7L999.0 146.6L1000.0 146.5L1001.0 146.4L1002.0 146.3L1003.0 146.3L1004.0 146.3L1005.0 146.3L1006.0 146.3L1007.0 146.3L1008.0 146.4L1009.0 146.5L1010.0 146.6L1011.0 146.7L1012.0 146.8L1013.0 147.0L1014.0 147.2L1015.0 147.3L1016.0 147.6L1017.0 147.8L1018.0 148.0L1019.0 148.3L1020.0 148.6L1021.0 148.8L1022.0 149.2L1023.0 149.5L1024.0 149.8L1025.0 150.1L1026.0 150.5L1027.0 150.9L1028.0 151.2L1029.0 151.6L1030.0 152.0L1031.0 152.4L1032.0 152.9L1033.0 153.3L1034.0 153.7L1035.0 154.2L1036.0 154.6L1037.0 155.1L1038.0 155.6L1039.0 156.0L1040.0 156.5L1041.0 157.0L1042.0 157.5L1043.0 158.0L1044.0 158.5L1045.0 159.0L1046.0 159.5L1047.0 160.0L1048.0 160.5L1049.0 161.1L1050.0 161.6L1051.0 162.1L1052.0 162.6L1053.0 163.2L1054.0 163.7L1055.0 164.3L1056.0 164.8L1057.0 165.4L1058.0 166.0L1059.0 166.5L1060.0 167.1L1061.0 167.7L1062.0 168.2L1063.0 168.8L1064.0 169.4L1065.0 170.0L1066.0 170.6L1067.0 171.2L1068.0 171.8L1069.0 172.4L1070.0 173.0L1071.0 173.6L1072.0 174.2L1073.0 174.9L1074.0 175.5L1075.0 176.1L1076.0 176.8L1077.0 177.4L1078.0 178.0L1079.0 178.7L1080.0 179.4L1081.0 180.0L1082.0 180.7L1083.0 181.4L1084.0 182.1L1085.0 182.8L1086.0 183.5L1087.0 184.2L1088.0 184.9L1089.0 185.6L1090.0 186.3L1091.0 187.0L1092.0 187.8L1093.0 188.5L1094.0 189.3L1095.0 190.0L1096.0 190.8L1097.0 191.5L1098.0 192.3L1099.0 193.1L1100.0 193.9L1101.0 194.7L1102.0 195.5L1103.0 196.3L1104.0 197.1L1105.0 198.0L1106.0 198.8L1107.0 199.6L1108.0 200.5L1109.0 201.4L1110.0 202.2L1111.0 203.1L1112.0 204.0L1113.0 204.9L1114.0 205.8L1115.0 206.7L1116.0 207.6L1117.0 208.5L1118.0 209.5L1119.0 210.4L1120.0 211.3L1121.0 212.3L1122.0 213.2L1123.0 214.2L1124.0 215.2L1125.0 216.2L1126.0 217.1L1127.0 218.1L1128.0 219.1L1129.0 220.1L1130.0 221.1L1131.0 222.1L1132.0 223.2L1133.0 224.2L1134.0 225.2L1135.0 226.2L1136.0 227.3L1137.0 228.3L1138.0 229.4L1139.0 230.4L1140.0 231.5L1141.0 232.6L1142.0 233.6L1143.0 234.7L1144.0 235.8L1145.0 236.9L1146.0 238.0L1147.0 239.1L1148.0 240.2L1149.0 241.3L1150.0 242.4L1151.0 243.5L1152.0 244.6L1153.0 245.7L1154.0 246.8L1155.0 247.9L1156.0 249.1L1157.0 250.2L1158.0 251.3L1159.0 252.5L1160.0 253.6L1161.0 254.7L1162.0 255.9L1163.0 257.0L1164.0 258.2L1165.0 259.3L1166.0 260.5L1167.0 261.6L1168.0 262.8L1169.0 264.0L1170.0 265.1L1171.0 266.3L1172.0 267.5L1173.0 268.7L1174.0 269.8L1175.0 271.0L1176.0 272.2L1177.0 273.4L1178.0 274.6L1179.0 275.8L1180.0 277.0L1181.0 278.2L1182.0 279.4L1183.0 280.6L1184.0 281.8L1185.0 283.0L1186.0 284.2L1187.0 285.5L1188.0 286.7L1189.0 287.9L1190.0 289.1L1191.0 290.4L1192.0 291.6L1193.0 292.8L1194.0 294.1L1195.0 295.3L1196.0 296.5L1197.0 297.8L1198.0 299.0L1199.0 300.3L1200.0 301.5L1201.0 302.8L1202.0 304.0L1203.0 305.3L1204.0 306.6L1205.0 307.8L1206.0 309.1L1207.0 310.4L1208.0 311.6L1209.0 312.9L1210.0 314.2L1211.0 315.5L1212.0 316.8L1213.0 318.0L1214.0 319.3L1215.0 320.6L1216.0 321.9L1217.0 323.2L1218.0 324.5L1219.0 325.8L1220.0 327.1L1221.0 328.4L1222.0 329.7L1223.0 331.0L1224.0 332.3L1225.0 333.6L1226.0 335.0L1227.0 336.3L1228.0 337.6L1229.0 338.9L1230.0 340.2L1231.0 341.6L1232.0 342.9L1233.0 344.2L1234.0 345.5L1235.0 346.9L1236.0 348.2L1237.0 349.6L1238.0 350.9L1239.0 352.2L1240.0 353.6L1241.0 354.9L1242.0 356.3L1243.0 357.6L1244.0 359.0L1245.0 360.3L1246.0 361.7L1247.0 363.0L1248.0 364.4L1249.0 365.8L1250.0 367.1L1251.0 368.5L1252.0 369.9L1253.0 371.2L1254.0 372.6L1255.0 374.0L1256.0 375.3L1257.0 376.7L1258.0 378.1L1259.0 379.5L1260.0 380.8L1261.0 382.2L1262.0 383.6L1263.0 385.0L1264.0 386.4L1265.0 387.8L1266.0 389.2L1267.0 390.6L1268.0 392.0L1269.0 393.3L1270.0 394.7L1271.0 396.1L1272.0 397.5L1273.0 398.9L1274.0 400.3L1275.0 401.8L1276.0 403.2L1277.0 404.6L1278.0 406.0L1279.0 407.4L1280.0 408.8L1281.0 410.2L1282.0 411.6L1283.0 413.0L1284.0 414.5L1285.0 415.9L1286.0 417.3L1287.0 418.7L1288.0 420.1L1289.0 421.6L1290.0 423.0L1291.0 424.4L1292.0 425.8L1293.0 427.3L1294.0 428.7L1295.0 430.1L1296.0 431.6L1297.0 433.0L1298.0 434.4L1299.0 435.9L1300.0 437.3L1301.0 438.7L1302.0 440.2L1303.0 441.6L1304.0 443.1L1305.0 444.5L1306.0 445.9L1307.0 447.4L1308.0 448.8L1309.0 450.3L1310.0 451.7L1311.0 453.2L1312.0 454.6L1313.0 456.1L1314.0 457.5L1315.0 459.0L1316.0 460.4L1317.0 461.9L1318.0 463.3L1319.0 464.8L1320.0 466.2L1321.0 467.7L1322.0 469.2L1323.0 470.6L1324.0 472.1L1325.0 473.5L1326.0 475.0L1327.0 476.5L1328.0 477.9L1329.0 479.4L1330.0 480.8L1331.0 482.3L1332.0 483.8L1333.0 485.2L1334.0 486.7L1335.0 488.2L1336.0 489.6L1337.0 491.1L1338.0 492.6L1339.0 494.0L1340.0 495.5L1341.0 497.0L1342.0 498.5L1343.0 499.9L1344.0 501.4L1345.0 502.9L1346.0 504.3L1347.0 505.8L1348.0 507.3L1349.0 508.8L1350.0 510.2L1351.0 511.7L1352.0 513.2L1353.0 514.7L1354.0 516.1L1355.0 517.6L1356.0 519.1L1357.0 520.6L1358.0 522.0L1359.0 523.5L1360.0 525.0L1361.0 526.5L1362.0 528.0L1363.0 529.4L1364.0 530.9L1365.0 532.4L1366.0 533.9L1367.0 535.4L1368.0 536.9L1369.0 538.3L1370.0 539.8L1371.0 541.3L1372.0 542.8L1373.0 544.3L1374.0 545.7L1375.0 547.2L1376.0 548.7L1377.0 550.2L1378.0 551.7L1379.0 553.2L1380.0 554.7L1381.0 556.1L1382.0 557.6L1383.0 559.1L1384.0 560.6L1385.0 562.1L1386.0 563.6L1387.0 565.1L1388.0 566.6L1389.0 568.1L1390.0 569.5L1391.0 571.0L1392.0 572.5L1393.0 574.0L1394.0 575.5L1395.0 577.0L1396.0 578.5L1397.0 580.0L1398.0 581.5L1399.0 583.0L1400.0 584.5L1401.0 586.0L1402.0 587.5L1403.0 589.0L1404.0 590.5L1405.0 592.0L1406.0 593.5L1407.0 595.0L1408.0 596.5L1409.0 598.0L1410.0 599.5L1411.0 601.0L1412.0 602.6L1413.0 604.1L1414.0 605.6L1415.0 607.1L1416.0 608.6L1417.0 610.1L1418.0 611.7L1419.0 613.2L1420.0 614.7L1421.0 616.2L1422.0 617.7L1423.0 619.3L1424.0 620.8L1425.0 622.3L1426.0 623.8L1427.0 625.4L1428.0 626.9L1429.0 628.4L1430.0 630.0L1431.0 631.5L1432.0 633.0L1433.0 634.6L1434.0 636.1L1435.0 637.7L1436.0 639.2L1437.0 640.8L1438.0 642.3L1439.0 643.9L1440.0 645.4L1441.0 647.0L1442.0 648.5L1443.0 650.1L1444.0 651.6L1445.0 653.2L1446.0 654.8L1447.0 656.3L1448.0 657.9L1449.0 659.4L1450.0 661.0L1451.0 662.6L1452.0 664.2L1453.0 665.7L1454.0 667.3L1455.0 668.9L1456.0 670.5L1457.0 672.1L1458.0 673.6L1459.0 675.2L1460.0 676.8L1461.0 678.4L1462.0 680.0L1463.0 681.6L1464.0 683.2L1465.0 684.8L1466.0 686.4L1467.0 688.0L1468.0 689.6L1469.0 691.2L1470.0 692.8L1471.0 694.4L1472.0 696.1L1473.0 697.7L1474.0 699.3L1475.0 700.9L1476.0 702.6L1477.0 704.2L1478.0 705.8L1479.0 707.4L1480.0 709.1L1481.0 710.7L1482.0 712.4L1483.0 714.0L1484.0 715.6L1485.0 717.3L1486.0 718.9L1487.0 720.6L1488.0 722.3L1489.0 723.9L1490.0 725.6L1491.0 727.2L1492.0 728.9L1493.0 730.6L1494.0 732.2L1495.0 733.9L1496.0 735.6L1497.0 737.3L1498.0 738.9L1499.0 740.6L1500.0 742.3L1501.0 744.0L1502.0 745.7L1503.0 747.4L1504.0 749.1L1505.0 750.8L1506.0 752.5L1507.0 754.2L1508.0 755.9L1509.0 757.6L1510.0 759.3L1511.0 761.0L1512.0 762.7L1513.0 764.4L1514.0 766.1L1515.0 767.8L1516.0 769.5L1517.0 771.3L1518.0 773.0L1519.0 774.7L1520.0 776.4L1521.0 778.1L1522.0 779.8L1523.0 781.5L1524.0 783.2L1525.0 784.9L1526.0 786.6L1527.0 788.3L1528.0 790.0L1529.0 791.7L1530.0 793.4L1531.0 795.1L1532.0 796.8L1533.0 798.5L1534.0 800.2L1535.0 801.9L1536.0 803.6L1537.0 805.3L1538.0 806.9L1539.0 808.6L1540.0 810.3L1541.0 812.0L1542.0 813.6L1543.0 815.3L1544.0 817.0L1545.0 818.6L1546.0 820.3L1547.0 821.9L1548.0 823.6L1549.0 825.2L1550.0 826.8L1551.0 828.5L1552.0 830.1L1553.0 831.7L1554.0 833.3L1555.0 834.9L1556.0 836.5L1557.0 838.1L1558.0 839.7L1559.0 841.3L1560.0 842.9L1561.0 844.5L1562.0 846.0L1563.0 847.6L1564.0 849.1L1565.0 850.7L1566.0 852.2L1567.0 853.8L1568.0 855.3L1569.0 856.8L1570.0 858.3L1571.0 859.8L1572.0 861.3L1573.0 862.8L1574.0 864.3L1575.0 865.8L1576.0 867.2L1577.0 868.7L1578.0 870.1L1579.0 871.6L1580.0 873.0L1581.0 874.4L1582.0 875.8L1583.0 877.2L1584.0 878.6L1585.0 880.0L1586.0 881.3L1587.0 882.7L1588.0 884.0L1589.0 885.4L1590.0 886.7L1591.0 888.0L1592.0 889.3L1593.0 890.6L1594.0 891.9L1595.0 893.2L1596.0 894.4L1597.0 895.7L1598.0 896.9L1599.0 898.1L1600.0 899.3L1601.0 900.5L1602.0 901.6L1603.0 902.7L1604.0 903.8L1605.0 904.8L1606.0 905.7L1607.0 906.6L1608.0 907.5L1609.0 908.3L1610.0 909.0L1611.0 909.7L1612.0 910.2L1613.0 910.7L1614.0 911.2L1615.0 911.5L1616.0 911.8L1617.0 911.9" stroke="#f020d0" stroke-width="3.8"/>
<path d="M248.0 1083.5L249.5 1083.5L251.0 1083.5L252.5 1083.5L254.0 1083.5L255.5 1083.5L257.0 1083.5L258.5 1083.5L260.0 1083.4L261.5 1083.4L263.0 1083.3L264.5 1083.1L266.0 1082.1L267.5 1081.3L269.0 1080.4L270.5 1079.6L272.0 1078.8L273.5 1078.0L275.0 1077.2L276.5 1076.5L278.0 1075.8L279.5 1075.1L281.0 1074.4L282.5 1073.7L284.0 1073.1L285.5 1072.4L287.0 1071.8L288.5 1071.2L290.0 1070.6L291.5 1070.0L293.0 1069.4L294.5 1068.8L296.0 1068.2L297.5 1067.6L299.0 1067.0L300.5 1066.4L302.0 1065.8L303.5 1065.2L305.0 1064.6L306.5 1063.9L308.0 1063.3L309.5 1062.7L311.0 1062.0L312.5 1061.3L314.0 1060.6L315.5 1059.9L317.0 1059.2L318.5 1058.5L320.0 1057.7L321.5 1056.9L323.0 1056.1L324.5 1055.2L326.0 1054.4L327.5 1053.5L329.0 1052.5L330.5 1051.6L332.1 1050.6L333.6 1049.5L335.1 1048.5L336.6 1047.4L338.1 1046.3L339.6 1045.2L341.1 1044.0L342.6 1042.9L344.1 1041.7L345.6 1040.4L347.1 1039.2L348.6 1037.9L350.1 1036.6L351.6 1035.3L353.1 1034.0L354.6 1032.6L356.1 1031.2L357.6 1029.9L359.1 1028.4L360.6 1027.0L362.1 1025.6L363.6 1024.1L365.1 1022.6L366.6 1021.2L368.1 1019.7L369.6 1018.1L371.1 1016.6L372.6 1015.1L374.1 1013.5L375.6 1012.0L377.1 1010.4L378.6 1008.8L380.1 1007.2L381.6 1005.6L383.1 1004.0L384.6 1002.4L386.1 1000.7L387.6 999.1L389.1 997.5L390.6 995.8L392.1 994.2L393.6 992.5L395.1 990.9L396.6 989.2L398.1 987.6L399.6 985.9L401.1 984.2L402.6 982.5L404.1 980.8L405.6 979.2L407.1 977.5L408.6 975.8L410.1 974.0L411.6 972.3L413.1 970.6L414.6 968.9L416.1 967.2L417.6 965.4L419.1 963.7L420.6 962.0L422.1 960.2L423.6 958.5L425.1 956.7L426.6 954.9L428.1 953.2L429.6 951.4L431.1 949.6L432.6 947.9L434.1 946.1L435.6 944.3L437.1 942.5L438.6 940.7L440.1 938.9L441.6 937.1L443.1 935.3L444.6 933.5L446.1 931.6L447.6 929.8L449.1 928.0L450.6 926.2L452.1 924.3L453.6 922.5L455.1 920.6L456.6 918.8L458.1 916.9L459.6 915.1L461.1 913.2L462.6 911.3L464.1 909.5L465.6 907.6L467.2 905.7L468.7 903.8L470.2 901.9L471.7 900.0L473.2 898.1L474.7 896.2L476.2 894.3L477.7 892.4L479.2 890.5L480.7 888.6L482.2 886.7L483.7 884.7L485.2 882.8L486.7 880.9L488.2 878.9L489.7 877.0L491.2 875.1L492.7 873.1L494.2 871.2L495.7 869.2L497.2 867.2L498.7 865.3L500.2 863.3L501.7 861.3L503.2 859.4L504.7 857.4L506.2 855.4L507.7 853.4L509.2 851.4L510.7 849.5L512.2 847.5L513.7 845.5L515.2 843.5L516.7 841.4L518.2 839.4L519.7 837.4L521.2 835.4L522.7 833.4L524.2 831.4L525.7 829.3L527.2 827.3L528.7 825.3L530.2 823.2L531.7 821.2L533.2 819.2L534.7 817.1L536.2 815.1L537.7 813.0L539.2 811.0L540.7 808.9L542.2 806.8L543.7 804.8L545.2 802.7L546.7 800.6L548.2 798.6L549.7 796.5L551.2 794.4L552.7 792.3L554.2 790.2L555.7 788.1L557.2 786.1L558.7 784.0L560.2 781.9L561.7 779.8L563.2 777.7L564.7 775.5L566.2 773.4L567.7 771.3L569.2 769.2L570.7 767.1L572.2 765.0L573.7 762.8L575.2 760.7L576.7 758.6L578.2 756.5L579.7 754.3L581.2 752.2L582.7 750.1L584.2 747.9L585.7 745.8L587.2 743.6L588.7 741.5L590.2 739.3L591.7 737.2L593.2 735.0L594.7 732.8L596.2 730.7L597.7 728.5L599.2 726.4L600.7 724.2L602.3 722.0L603.8 719.8L605.3 717.7L606.8 715.5L608.3 713.3L609.8 711.1L611.3 708.9L612.8 706.8L614.3 704.6L615.8 702.4L617.3 700.2L618.8 698.0L620.3 695.8L621.8 693.6L623.3 691.4L624.8 689.2L626.3 687.0L627.8 684.8L629.3 682.6L630.8 680.3L632.3 678.1L633.8 675.9L635.3 673.7L636.8 671.5L638.3 669.3L639.8 667.0L641.3 664.8L642.8 662.6L644.3 660.4L645.8 658.1L647.3 655.9L648.8 653.7L650.3 651.4L651.8 649.2L653.3 647.0L654.8 644.7L656.3 642.5L657.8 640.2L659.3 638.0L660.8 635.7L662.3 633.5L663.8 631.2L665.3 629.0L666.8 626.7L668.3 624.5L669.8 622.2L671.3 620.0L672.8 617.7L674.3 615.4L675.8 613.2L677.3 610.9L678.8 608.7L680.3 606.4L681.8 604.1L683.3 601.9L684.8 599.6L686.3 597.3L687.8 595.0L689.3 592.8L690.8 590.5L692.3 588.2L693.8 585.9L695.3 583.7L696.8 581.4L698.3 579.1L699.8 576.8L701.3 574.5L702.8 572.3L704.3 570.0L705.8 567.7L707.3 565.4L708.8 563.1L710.3 560.8L711.8 558.6L713.3 556.3L714.8 554.0L716.3 551.7L717.8 549.4L719.3 547.1L720.8 544.8L722.3 542.5L723.8 540.2L725.3 537.9L726.8 535.6L728.3 533.3L729.8 531.0L731.3 528.7L732.8 526.4L734.3 524.1L735.8 521.8L737.4 519.5L738.9 517.2L740.4 514.9L741.9 512.6L743.4 510.3L744.9 508.0L746.4 505.7L747.9 503.4L749.4 501.1L750.9 498.8L752.4 496.5L753.9 494.2L755.4 491.9L756.9 489.6L758.4 487.3L759.9 485.0L761.4 482.7L762.9 480.4L764.4 478.1L765.9 475.8L767.4 473.4L768.9 471.1L770.4 468.8L771.9 466.5L773.4 464.2L774.9 461.9L776.4 459.6L777.9 457.3L779.4 455.0L780.9 452.7L782.4 450.4L783.9 448.1L785.4 445.8L786.9 443.5L788.4 441.1L789.9 438.8L791.4 436.5L792.9 434.2L794.4 431.9L795.9 429.6L797.4 427.3L798.9 425.0L800.4 422.7L801.9 420.4L803.4 418.1L804.9 415.8L806.4 413.5L807.9 411.2L809.4 408.9L810.9 406.6L812.4 404.3L813.9 402.0L815.4 399.7L816.9 397.4L818.4 395.1L819.9 392.8L821.4 390.5L822.9 388.2L824.4 385.9L825.9 383.6L827.4 381.3L828.9 379.0L830.4 376.7L831.9 374.4L833.4 372.1L834.9 369.8L836.4 367.6L837.9 365.3L839.4 363.0L840.9 360.7L842.4 358.5L843.9 356.2L845.4 353.9L846.9 351.7L848.4 349.4L849.9 347.2L851.4 344.9L852.9 342.7L854.4 340.4L855.9 338.2L857.4 336.0L858.9 333.7L860.4 331.5L861.9 329.3L863.4 327.1L864.9 324.9L866.4 322.7L867.9 320.5L869.4 318.3L870.9 316.1L872.5 313.9L874.0 311.7L875.5 309.6L877.0 307.4L878.5 305.3L880.0 303.1L881.5 301.0L883.0 298.8L884.5 296.7L886.0 294.6L887.5 292.5L889.0 290.4L890.5 288.3L892.0 286.2L893.5 284.1L895.0 282.0L896.5 280.0L898.0 277.9L899.5 275.8L901.0 273.8L902.5 271.8L904.0 269.7L905.5 267.7L907.0 265.7L908.5 263.7L910.0 261.8L911.5 259.8L913.0 257.8L914.5 255.9L916.0 253.9L917.5 252.0L919.0 250.0L920.5 248.1L922.0 246.2L923.5 244.3L925.0 242.5L926.5 240.6L928.0 238.7L929.5 236.9L931.0 235.0L932.5 233.2L934.0 231.4L935.5 229.6L937.0 227.8L938.5 226.0L940.0 224.3L941.5 222.5L943.0 220.8L944.5 219.1L946.0 217.4L947.5 215.7L949.0 214.0L950.5 212.3L952.0 210.6L953.5 209.0L955.0 207.4L956.5 205.8L958.0 204.2L959.5 202.6L961.0 201.0L962.5 199.4L964.0 197.9L965.5 196.4L967.0 194.9L968.5 193.5L970.0 192.1L971.5 190.7L973.0 189.4L974.5 188.1L976.0 186.9L977.5 185.8L979.0 184.7L980.5 183.7L982.0 182.7L983.5 181.8L985.0 180.9L986.5 180.1L988.0 179.3L989.5 178.6L991.0 177.9L992.5 177.3L994.0 176.7L995.5 176.1L997.0 175.6L998.5 175.1L1000.0 174.7L1001.5 174.3L1003.0 173.9L1004.5 173.6L1006.0 173.3L1007.5 173.1L1009.1 172.8L1010.6 172.6L1012.1 172.4L1013.6 172.3L1015.1 172.2L1016.6 172.0L1018.1 172.0L1019.6 171.9L1021.1 171.9L1022.6 171.8L1024.1 171.8L1025.6 171.8L1027.1 171.9L1028.6 171.9L1030.1 172.0L1031.6 172.0L1033.1 172.1L1034.6 172.3L1036.1 172.4L1037.6 172.6L1039.1 172.7L1040.6 172.9L1042.1 173.1L1043.6 173.3L1045.1 173.6L1046.6 173.8L1048.1 174.1L1049.6 174.4L1051.1 174.7L1052.6 175.1L1054.1 175.4L1055.6 175.8L1057.1 176.1L1058.6 176.5L1060.1 176.9L1061.6 177.4L1063.1 177.8L1064.6 178.3L1066.1 178.8L1067.6 179.2L1069.1 179.8L1070.6 180.3L1072.1 180.8L1073.6 181.4L1075.1 182.0L1076.6 182.5L1078.1 183.1L1079.6 183.8L1081.1 184.4L1082.6 185.1L1084.1 185.7L1085.6 186.4L1087.1 187.1L1088.6 187.8L1090.1 188.5L1091.6 189.3L1093.1 190.0L1094.6 190.8L1096.1 191.6L1097.6 192.4L1099.1 193.2L1100.6 194.1L1102.1 194.9L1103.6 195.8L1105.1 196.6L1106.6 197.5L1108.1 198.4L1109.6 199.4L1111.1 200.3L1112.6 201.2L1114.1 202.2L1115.6 203.2L1117.1 204.2L1118.6 205.2L1120.1 206.2L1121.6 207.2L1123.1 208.3L1124.6 209.3L1126.1 210.4L1127.6 211.5L1129.1 212.6L1130.6 213.7L1132.1 214.8L1133.6 215.9L1135.1 217.1L1136.6 218.2L1138.1 219.4L1139.6 220.6L1141.1 221.8L1142.6 223.0L1144.2 224.2L1145.7 225.5L1147.2 226.7L1148.7 228.0L1150.2 229.3L1151.7 230.5L1153.2 231.8L1154.7 233.1L1156.2 234.5L1157.7 235.8L1159.2 237.1L1160.7 238.5L1162.2 239.9L1163.7 241.2L1165.2 242.6L1166.7 244.0L1168.2 245.4L1169.7 246.9L1171.2 248.3L1172.7 249.7L1174.2 251.2L1175.7 252.7L1177.2 254.1L1178.7 255.6L1180.2 257.1L1181.7 258.6L1183.2 260.2L1184.7 261.7L1186.2 263.2L1187.7 264.8L1189.2 266.3L1190.7 267.9L1192.2 269.5L1193.7 271.0L1195.2 272.6L1196.7 274.2L1198.2 275.9L1199.7 277.5L1201.2 279.1L1202.7 280.8L1204.2 282.4L1205.7 284.1L1207.2 285.7L1208.7 287.4L1210.2 289.1L1211.7 290.8L1213.2 292.5L1214.7 294.2L1216.2 295.9L1217.7 297.6L1219.2 299.4L1220.7 301.1L1222.2 302.9L1223.7 304.6L1225.2 306.4L1226.7 308.1L1228.2 309.9L1229.7 311.7L1231.2 313.5L1232.7 315.3L1234.2 317.1L1235.7 318.9L1237.2 320.7L1238.7 322.6L1240.2 324.4L1241.7 326.3L1243.2 328.1L1244.7 330.0L1246.2 331.8L1247.7 333.7L1249.2 335.6L1250.7 337.4L1252.2 339.3L1253.7 341.2L1255.2 343.1L1256.7 345.0L1258.2 346.9L1259.7 348.8L1261.2 350.7L1262.7 352.7L1264.2 354.6L1265.7 356.5L1267.2 358.5L1268.7 360.4L1270.2 362.4L1271.7 364.3L1273.2 366.3L1274.7 368.2L1276.2 370.2L1277.7 372.2L1279.3 374.2L1280.8 376.1L1282.3 378.1L1283.8 380.1L1285.3 382.1L1286.8 384.1L1288.3 386.1L1289.8 388.1L1291.3 390.1L1292.8 392.1L1294.3 394.1L1295.8 396.2L1297.3 398.2L1298.8 400.2L1300.3 402.2L1301.8 404.3L1303.3 406.3L1304.8 408.3L1306.3 410.4L1307.8 412.4L1309.3 414.5L1310.8 416.5L1312.3 418.6L1313.8 420.6L1315.3 422.7L1316.8 424.7L1318.3 426.8L1319.8 428.8L1321.3 430.9L1322.8 433.0L1324.3 435.0L1325.8 437.1L1327.3 439.2L1328.8 441.2L1330.3 443.3L1331.8 445.4L1333.3 447.4L1334.8 449.5L1336.3 451.6L1337.8 453.7L1339.3 455.7L1340.8 457.8L1342.3 459.9L1343.8 462.0L1345.3 464.0L1346.8 466.1L1348.3 468.2L1349.8 470.3L1351.3 472.4L1352.8 474.5L1354.3 476.5L1355.8 478.6L1357.3 480.7L1358.8 482.8L1360.3 484.9L1361.8 487.0L1363.3 489.1L1364.8 491.2L1366.3 493.3L1367.8 495.4L1369.3 497.5L1370.8 499.6L1372.3 501.7L1373.8 503.9L1375.3 506.0L1376.8 508.1L1378.3 510.2L1379.8 512.3L1381.3 514.5L1382.8 516.6L1384.3 518.7L1385.8 520.9L1387.3 523.0L1388.8 525.1L1390.3 527.3L1391.8 529.4L1393.3 531.6L1394.8 533.7L1396.3 535.9L1397.8 538.0L1399.3 540.2L1400.8 542.4L1402.3 544.5L1403.8 546.7L1405.3 548.9L1406.8 551.1L1408.3 553.3L1409.8 555.4L1411.3 557.6L1412.8 559.8L1414.4 562.0L1415.9 564.2L1417.4 566.4L1418.9 568.7L1420.4 570.9L1421.9 573.1L1423.4 575.3L1424.9 577.5L1426.4 579.8L1427.9 582.0L1429.4 584.3L1430.9 586.5L1432.4 588.8L1433.9 591.0L1435.4 593.3L1436.9 595.5L1438.4 597.8L1439.9 600.1L1441.4 602.4L1442.9 604.7L1444.4 607.0L1445.9 609.3L1447.4 611.6L1448.9 613.9L1450.4 616.2L1451.9 618.5L1453.4 620.8L1454.9 623.2L1456.4 625.5L1457.9 627.8L1459.4 630.2L1460.9 632.5L1462.4 634.9L1463.9 637.3L1465.4 639.6L1466.9 642.0L1468.4 644.4L1469.9 646.8L1471.4 649.2L1472.9 651.6L1474.4 654.0L1475.9 656.4L1477.4 658.8L1478.9 661.3L1480.4 663.7L1481.9 666.1L1483.4 668.6L1484.9 671.0L1486.4 673.5L1487.9 675.9L1489.4 678.4L1490.9 680.8L1492.4 683.3L1493.9 685.8L1495.4 688.2L1496.9 690.7L1498.4 693.2L1499.9 695.7L1501.4 698.1L1502.9 700.6L1504.4 703.1L1505.9 705.6L1507.4 708.0L1508.9 710.5L1510.4 713.0L1511.9 715.5L1513.4 717.9L1514.9 720.4L1516.4 722.9L1517.9 725.4L1519.4 727.8L1520.9 730.3L1522.4 732.8L1523.9 735.2L1525.4 737.7L1526.9 740.1L1528.4 742.6L1529.9 745.0L1531.4 747.5L1532.9 749.9L1534.4 752.4L1535.9 754.8L1537.4 757.2L1538.9 759.6L1540.4 762.1L1541.9 764.5L1543.4 766.9L1544.9 769.3L1546.4 771.7L1547.9 774.0L1549.5 776.4L1551.0 778.8L1552.5 781.1L1554.0 783.5L1555.5 785.8L1557.0 788.2L1558.5 790.5L1560.0 792.8L1561.5 795.1L1563.0 797.4L1564.5 799.7L1566.0 802.0L1567.5 804.2L1569.0 806.5L1570.5 808.7L1572.0 811.0L1573.5 813.2L1575.0 815.4L1576.5 817.6L1578.0 819.8L1579.5 821.9L1581.0 824.1L1582.5 826.2L1584.0 828.4L1585.5 830.5L1587.0 832.6L1588.5 834.7L1590.0 836.7L1591.5 838.8L1593.0 840.8L1594.5 842.9L1596.0 844.9L1597.5 846.9L1599.0 848.9L1600.5 850.8L1602.0 852.7L1603.5 854.6L1605.0 856.4L1606.5 858.1L1608.0 859.8L1609.5 861.3L1611.0 862.8L1612.5 864.2L1614.0 865.4L1615.5 866.6L1617.0 867.6" stroke="#efdf7a" stroke-width="5.6"/>
<path d="M248.0 1090.9L249.0 1091.0L250.0 1091.1L251.0 1091.2L252.0 1091.3L253.0 1091.3L254.0 1091.4L255.0 1091.4L256.0 1091.4L257.0 1091.4L258.0 1091.3L259.0 1091.3L260.0 1091.2L261.0 1091.1L262.0 1091.1L263.0 1090.9L264.0 1090.8L265.0 1090.6L266.0 1090.3L267.0 1090.0L268.0 1089.6L269.0 1089.3L270.0 1089.0L271.0 1088.6L272.0 1088.3L273.0 1087.9L274.0 1087.5L275.0 1087.1L276.0 1086.7L277.0 1086.3L278.0 1085.9L279.0 1085.5L280.0 1085.0L281.0 1084.6L282.0 1084.1L283.0 1083.6L284.0 1083.2L285.0 1082.7L286.0 1082.2L287.0 1081.7L288.0 1081.1L289.0 1080.6L290.0 1080.1L291.0 1079.4L292.0 1078.8L293.0 1078.1L294.0 1077.4L295.0 1076.8L296.0 1076.1L297.0 1075.4L298.0 1074.7L299.0 1074.1L300.0 1073.4L301.0 1072.7L302.0 1072.0L303.0 1071.3L304.0 1070.6L305.0 1069.8L306.0 1069.1L307.0 1068.4L308.0 1067.7L309.0 1067.0L310.0 1066.2L311.0 1065.5L312.0 1064.8L313.0 1064.0L314.0 1063.3L315.0 1062.6L316.0 1061.8L317.0 1061.1L318.0 1060.3L319.0 1059.6L320.0 1058.8L321.0 1058.0L322.0 1057.3L323.0 1056.5L324.0 1055.7L325.0 1054.9L326.0 1054.2L327.0 1053.4L328.0 1052.6L329.0 1051.8L330.0 1051.0L331.0 1050.2L332.0 1049.4L333.0 1048.5L334.0 1047.7L335.0 1046.9L336.0 1046.1L337.0 1045.2L338.0 1044.4L339.0 1043.5L340.0 1042.7L341.0 1041.8L342.0 1041.0L343.0 1040.1L344.0 1039.3L345.0 1038.4L346.0 1037.5L347.0 1036.6L348.0 1035.7L349.0 1034.8L350.0 1034.0L351.0 1033.1L352.0 1032.1L353.0 1031.2L354.0 1030.3L355.0 1029.4L356.0 1028.5L357.0 1027.6L358.0 1026.7L359.0 1025.7L360.0 1024.8L361.0 1023.8L362.0 1022.8L363.0 1021.7L364.0 1020.7L365.0 1019.7L366.0 1018.6L367.0 1017.6L368.0 1016.5L369.0 1015.4L370.0 1014.4L371.0 1013.3L372.0 1012.2L373.0 1011.1L374.0 1010.0L375.0 1008.9L376.0 1007.8L377.0 1006.7L378.0 1005.6L379.0 1004.5L380.0 1003.4L381.0 1002.3L382.0 1001.2L383.0 1000.0L384.0 998.9L385.0 997.8L386.0 996.6L387.0 995.5L388.0 994.4L389.0 993.2L390.0 992.1L391.0 990.9L392.0 989.8L393.0 988.6L394.0 987.5L395.0 986.3L396.0 985.2L397.0 984.0L398.0 982.8L399.0 981.7L400.0 980.5L401.0 979.3L402.0 978.2L403.0 977.0L404.0 975.8L405.0 974.6L406.0 973.5L407.0 972.3L408.0 971.1L409.0 969.9L410.0 968.7L411.0 967.5L412.0 966.3L413.0 965.2L414.0 964.0L415.0 962.8L416.0 961.6L417.0 960.4L418.0 959.2L419.0 958.0L420.0 956.8L421.0 955.6L422.0 954.4L423.0 953.1L424.0 951.9L425.0 950.7L426.0 949.5L427.0 948.3L428.0 947.1L429.0 945.9L430.0 944.6L431.0 943.4L432.0 942.2L433.0 941.0L434.0 939.7L435.0 938.5L436.0 937.3L437.0 936.0L438.0 934.8L439.0 933.6L440.0 932.3L441.0 931.1L442.0 929.9L443.0 928.6L444.0 927.4L445.0 926.1L446.0 924.9L447.0 923.6L448.0 922.4L449.0 921.1L450.0 919.9L451.0 918.6L452.0 917.4L453.0 916.1L454.0 914.9L455.0 913.6L456.0 912.3L457.0 911.1L458.0 909.8L459.0 908.6L460.0 907.3L461.0 906.0L462.0 904.7L463.0 903.5L464.0 902.2L465.0 900.9L466.0 899.6L467.0 898.4L468.0 897.1L469.0 895.8L470.0 894.5L471.0 893.2L472.0 892.0L473.0 890.7L474.0 889.4L475.0 888.1L476.0 886.8L477.0 885.5L478.0 884.2L479.0 882.9L480.0 881.6L481.0 880.3L482.0 879.0L483.0 877.7L484.0 876.4L485.0 875.1L486.0 873.8L487.0 872.5L488.0 871.2L489.0 869.9L490.0 868.5L491.0 867.2L492.0 865.9L493.0 864.6L494.0 863.3L495.0 861.9L496.0 860.6L497.0 859.3L498.0 858.0L499.0 856.7L500.0 855.3L501.0 854.0L502.0 852.7L503.0 851.3L504.0 850.0L505.0 848.7L506.0 847.3L507.0 846.0L508.0 844.6L509.0 843.3L510.0 842.0L511.0 840.6L512.0 839.3L513.0 837.9L514.0 836.6L515.0 835.2L516.0 833.9L517.0 832.5L518.0 831.2L519.0 829.8L520.0 828.4L521.0 827.1L522.0 825.7L523.0 824.4L524.0 823.0L525.0 821.6L526.0 820.3L527.0 818.9L528.0 817.5L529.0 816.2L530.0 814.8L531.0 813.4L532.0 812.0L533.0 810.7L534.0 809.3L535.0 807.9L536.0 806.5L537.0 805.2L538.0 803.8L539.0 802.4L540.0 801.0L541.0 799.6L542.0 798.2L543.0 796.8L544.0 795.4L545.0 794.1L546.0 792.7L547.0 791.3L548.0 789.9L549.0 788.5L550.0 787.1L551.0 785.7L552.0 784.3L553.0 782.9L554.0 781.5L555.0 780.0L556.0 778.6L557.0 777.2L558.0 775.8L559.0 774.4L560.0 773.0L561.0 771.6L562.0 770.2L563.0 768.7L564.0 767.3L565.0 765.9L566.0 764.5L567.0 763.1L568.0 761.6L569.0 760.2L570.0 758.8L571.0 757.4L572.0 755.9L573.0 754.5L574.0 753.1L575.0 751.6L576.0 750.2L577.0 748.8L578.0 747.3L579.0 745.9L580.0 744.5L581.0 743.0L582.0 741.6L583.0 740.2L584.0 738.7L585.0 737.3L586.0 735.8L587.0 734.4L588.0 732.9L589.0 731.5L590.0 730.0L591.0 728.6L592.0 727.1L593.0 725.7L594.0 724.2L595.0 722.8L596.0 721.3L597.0 719.9L598.0 718.4L599.0 716.9L600.0 715.5L601.0 714.0L602.0 712.6L603.0 711.1L604.0 709.6L605.0 708.2L606.0 706.7L607.0 705.2L608.0 703.8L609.0 702.3L610.0 700.8L611.0 699.4L612.0 697.9L613.0 696.4L614.0 694.9L615.0 693.5L616.0 692.0L617.0 690.5L618.0 689.0L619.0 687.6L620.0 686.1L621.0 684.6L622.0 683.1L623.0 681.6L624.0 680.2L625.0 678.7L626.0 677.2L627.0 675.7L628.0 674.2L629.0 672.7L630.0 671.2L631.0 669.8L632.0 668.3L633.0 666.8L634.0 665.3L635.0 663.8L636.0 662.3L637.0 660.8L638.0 659.3L639.0 657.8L640.0 656.3L641.0 654.8L642.0 653.3L643.0 651.8L644.0 650.3L645.0 648.8L646.0 647.3L647.0 645.8L648.0 644.3L649.0 642.8L650.0 641.3L651.0 639.8L652.0 638.3L653.0 636.8L654.0 635.3L655.0 633.8L656.0 632.3L657.0 630.8L658.0 629.3L659.0 627.8L660.0 626.3L661.0 624.7L662.0 623.2L663.0 621.7L664.0 620.2L665.0 618.7L666.0 617.2L667.0 615.7L668.0 614.2L669.0 612.6L670.0 611.1L671.0 609.6L672.0 608.1L673.0 606.6L674.0 605.1L675.0 603.5L676.0 602.0L677.0 600.5L678.0 599.0L679.0 597.5L680.0 595.9L681.0 594.4L682.0 592.9L683.0 591.4L684.0 589.8L685.0 588.3L686.0 586.8L687.0 585.3L688.0 583.8L689.0 582.2L690.0 580.7L691.0 579.2L692.0 577.6L693.0 576.1L694.0 574.6L695.0 573.1L696.0 571.5L697.0 570.0L698.0 568.5L699.0 566.9L700.0 565.4L701.0 563.9L702.0 562.4L703.0 560.8L704.0 559.3L705.0 557.8L706.0 556.2L707.0 554.7L708.0 553.2L709.0 551.6L710.0 550.1L711.0 548.6L712.0 547.0L713.0 545.5L714.0 544.0L715.0 542.4L716.0 540.9L717.0 539.4L718.0 537.8L719.0 536.3L720.0 534.8L721.0 533.2L722.0 531.7L723.0 530.1L724.0 528.6L725.0 527.1L726.0 525.5L727.0 524.0L728.0 522.5L729.0 520.9L730.0 519.4L731.0 517.8L732.0 516.3L733.0 514.8L734.0 513.2L735.0 511.7L736.0 510.2L737.0 508.6L738.0 507.1L739.0 505.5L740.0 504.0L741.0 502.5L742.0 500.9L743.0 499.4L744.0 497.8L745.0 496.3L746.0 494.8L747.0 493.2L748.0 491.7L749.0 490.1L750.0 488.6L751.0 487.1L752.0 485.5L753.0 484.0L754.0 482.4L755.0 480.9L756.0 479.4L757.0 477.8L758.0 476.3L759.0 474.7L760.0 473.2L761.0 471.7L762.0 470.1L763.0 468.6L764.0 467.0L765.0 465.5L766.0 464.0L767.0 462.4L768.0 460.9L769.0 459.3L770.0 457.8L771.0 456.3L772.0 454.7L773.0 453.2L774.0 451.6L775.0 450.1L776.0 448.6L777.0 447.0L778.0 445.5L779.0 444.0L780.0 442.4L781.0 440.9L782.0 439.3L783.0 437.8L784.0 436.3L785.0 434.7L786.0 433.2L787.0 431.7L788.0 430.1L789.0 428.6L790.0 427.1L791.0 425.5L792.0 424.0L793.0 422.5L794.0 420.9L795.0 419.4L796.0 417.8L797.0 416.3L798.0 414.8L799.0 413.2L800.0 411.7L801.0 410.2L802.0 408.7L803.0 407.1L804.0 405.6L805.0 404.1L806.0 402.5L807.0 401.0L808.0 399.5L809.0 397.9L810.0 396.4L811.0 394.9L812.0 393.4L813.0 391.8L814.0 390.3L815.0 388.8L816.0 387.2L817.0 385.7L818.0 384.2L819.0 382.7L820.0 381.1L821.0 379.6L822.0 378.1L823.0 376.6L824.0 375.1L825.0 373.5L826.0 372.0L827.0 370.5L828.0 369.0L829.0 367.5L830.0 365.9L831.0 364.4L832.0 362.9L833.0 361.4L834.0 359.9L835.0 358.4L836.0 356.9L837.0 355.3L838.0 353.8L839.0 352.3L840.0 350.8L841.0 349.3L842.0 347.8L843.0 346.3L844.0 344.8L845.0 343.3L846.0 341.8L847.0 340.3L848.0 338.8L849.0 337.3L850.0 335.8L851.0 334.4L852.0 332.9L853.0 331.4L854.0 329.9L855.0 328.4L856.0 326.9L857.0 325.4L858.0 324.0L859.0 322.5L860.0 321.0L861.0 319.5L862.0 318.1L863.0 316.6L864.0 315.1L865.0 313.7L866.0 312.2L867.0 310.8L868.0 309.3L869.0 307.9L870.0 306.4L871.0 304.9L872.0 303.5L873.0 302.1L874.0 300.6L875.0 299.2L876.0 297.7L877.0 296.3L878.0 294.9L879.0 293.4L880.0 292.0L881.0 290.6L882.0 289.2L883.0 287.7L884.0 286.3L885.0 284.9L886.0 283.5L887.0 282.1L888.0 280.7L889.0 279.3L890.0 277.9L891.0 276.5L892.0 275.1L893.0 273.7L894.0 272.3L895.0 270.9L896.0 269.6L897.0 268.2L898.0 266.8L899.0 265.5L900.0 264.1L901.0 262.7L902.0 261.4L903.0 260.0L904.0 258.7L905.0 257.3L906.0 256.0L907.0 254.7L908.0 253.3L909.0 252.0L910.0 250.7L911.0 249.4L912.0 248.1L913.0 246.7L914.0 245.4L915.0 244.1L916.0 242.9L917.0 241.6L918.0 240.3L919.0 239.0L920.0 237.7L921.0 236.5L922.0 235.2L923.0 233.9L924.0 232.7L925.0 231.4L926.0 230.2L927.0 229.0L928.0 227.7L929.0 226.5L930.0 225.3L931.0 224.1L932.0 222.9L933.0 221.7L934.0 220.5L935.0 219.3L936.0 218.1L937.0 216.9L938.0 215.7L939.0 214.5L940.0 213.4L941.0 212.2L942.0 211.0L943.0 209.9L944.0 208.7L945.0 207.6L946.0 206.4L947.0 205.3L948.0 204.2L949.0 203.1L950.0 201.9L951.0 200.8L952.0 199.7L953.0 198.6L954.0 197.5L955.0 196.4L956.0 195.4L957.0 194.3L958.0 193.2L959.0 192.1L960.0 191.1L961.0 190.0L962.0 189.0L963.0 187.9L964.0 186.9L965.0 185.9L966.0 184.9L967.0 183.9L968.0 182.9L969.0 182.0L970.0 181.0L971.0 180.1L972.0 179.2L973.0 178.3L974.0 177.5L975.0 176.7L976.0 175.8L977.0 175.1L978.0 174.3L979.0 173.6L980.0 172.9L981.0 172.2L982.0 171.5L983.0 170.9L984.0 170.3L985.0 169.7L986.0 169.1L987.0 168.6L988.0 168.1L989.0 167.6L990.0 167.1L991.0 166.7L992.0 166.3L993.0 165.9L994.0 165.5L995.0 165.1L996.0 164.8L997.0 164.5L998.0 164.2L999.0 164.0L1000.0 163.7L1001.0 163.5L1002.0 163.3L1003.0 163.2L1004.0 163.0L1005.0 162.9L1006.0 162.8L1007.0 162.7L1008.0 162.6L1009.0 162.6L1010.0 162.5L1011.0 162.5L1012.0 162.5L1013.0 162.5L1014.0 162.6L1015.0 162.6L1016.0 162.7L1017.0 162.8L1018.0 162.9L1019.0 163.0L1020.0 163.1L1021.0 163.2L1022.0 163.4L1023.0 163.5L1024.0 163.7L1025.0 163.9L1026.0 164.1L1027.0 164.3L1028.0 164.5L1029.0 164.7L1030.0 164.9L1031.0 165.1L1032.0 165.4L1033.0 165.6L1034.0 165.9L1035.0 166.1L1036.0 166.4L1037.0 166.7L1038.0 166.9L1039.0 167.2L1040.0 167.5L1041.0 167.8L1042.0 168.1L1043.0 168.4L1044.0 168.7L1045.0 169.0L1046.0 169.3L1047.0 169.6L1048.0 169.9L1049.0 170.2L1050.0 170.6L1051.0 170.9L1052.0 171.2L1053.0 171.6L1054.0 171.9L1055.0 172.3L1056.0 172.6L1057.0 173.0L1058.0 173.3L1059.0 173.7L1060.0 174.1L1061.0 174.5L1062.0 174.8L1063.0 175.2L1064.0 175.6L1065.0 176.0L1066.0 176.4L1067.0 176.8L1068.0 177.2L1069.0 177.7L1070.0 178.1L1071.0 178.5L1072.0 179.0L1073.0 179.4L1074.0 179.9L1075.0 180.3L1076.0 180.8L1077.0 181.2L1078.0 181.7L1079.0 182.2L1080.0 182.7L1081.0 183.2L1082.0 183.7L1083.0 184.2L1084.0 184.7L1085.0 185.2L1086.0 185.7L1087.0 186.3L1088.0 186.8L1089.0 187.3L1090.0 187.9L1091.0 188.5L1092.0 189.0L1093.0 189.6L1094.0 190.2L1095.0 190.8L1096.0 191.4L1097.0 192.0L1098.0 192.6L1099.0 193.2L1100.0 193.8L1101.0 194.4L1102.0 195.1L1103.0 195.7L1104.0 196.3L1105.0 197.0L1106.0 197.7L1107.0 198.3L1108.0 199.0L1109.0 199.7L1110.0 200.4L1111.0 201.1L1112.0 201.8L1113.0 202.5L1114.0 203.2L1115.0 203.9L1116.0 204.7L1117.0 205.4L1118.0 206.1L1119.0 206.9L1120.0 207.6L1121.0 208.4L1122.0 209.2L1123.0 209.9L1124.0 210.7L1125.0 211.5L1126.0 212.3L1127.0 213.1L1128.0 213.9L1129.0 214.7L1130.0 215.5L1131.0 216.4L1132.0 217.2L1133.0 218.0L1134.0 218.9L1135.0 219.7L1136.0 220.5L1137.0 221.4L1138.0 222.3L1139.0 223.1L1140.0 224.0L1141.0 224.9L1142.0 225.8L1143.0 226.7L1144.0 227.5L1145.0 228.4L1146.0 229.4L1147.0 230.3L1148.0 231.2L1149.0 232.1L1150.0 233.0L1151.0 233.9L1152.0 234.9L1153.0 235.8L1154.0 236.8L1155.0 237.7L1156.0 238.7L1157.0 239.6L1158.0 240.6L1159.0 241.5L1160.0 242.5L1161.0 243.5L1162.0 244.5L1163.0 245.5L1164.0 246.4L1165.0 247.4L1166.0 248.4L1167.0 249.4L1168.0 250.4L1169.0 251.5L1170.0 252.5L1171.0 253.5L1172.0 254.5L1173.0 255.5L1174.0 256.6L1175.0 257.6L1176.0 258.6L1177.0 259.7L1178.0 260.7L1179.0 261.8L1180.0 262.8L1181.0 263.9L1182.0 265.0L1183.0 266.0L1184.0 267.1L1185.0 268.2L1186.0 269.3L1187.0 270.4L1188.0 271.4L1189.0 272.5L1190.0 273.6L1191.0 274.7L1192.0 275.8L1193.0 276.9L1194.0 278.1L1195.0 279.2L1196.0 280.3L1197.0 281.4L1198.0 282.5L1199.0 283.7L1200.0 284.8L1201.0 285.9L1202.0 287.1L1203.0 288.2L1204.0 289.4L1205.0 290.5L1206.0 291.7L1207.0 292.8L1208.0 294.0L1209.0 295.1L1210.0 296.3L1211.0 297.5L1212.0 298.7L1213.0 299.8L1214.0 301.0L1215.0 302.2L1216.0 303.4L1217.0 304.6L1218.0 305.8L1219.0 307.0L1220.0 308.2L1221.0 309.4L1222.0 310.6L1223.0 311.8L1224.0 313.0L1225.0 314.2L1226.0 315.4L1227.0 316.7L1228.0 317.9L1229.0 319.1L1230.0 320.3L1231.0 321.6L1232.0 322.8L1233.0 324.0L1234.0 325.3L1235.0 326.5L1236.0 327.8L1237.0 329.0L1238.0 330.3L1239.0 331.5L1240.0 332.8L1241.0 334.1L1242.0 335.3L1243.0 336.6L1244.0 337.9L1245.0 339.1L1246.0 340.4L1247.0 341.7L1248.0 343.0L1249.0 344.2L1250.0 345.5L1251.0 346.8L1252.0 348.1L1253.0 349.4L1254.0 350.7L1255.0 352.0L1256.0 353.3L1257.0 354.6L1258.0 355.9L1259.0 357.2L1260.0 358.5L1261.0 359.8L1262.0 361.1L1263.0 362.4L1264.0 363.7L1265.0 365.1L1266.0 366.4L1267.0 367.7L1268.0 369.0L1269.0 370.3L1270.0 371.7L1271.0 373.0L1272.0 374.3L1273.0 375.7L1274.0 377.0L1275.0 378.3L1276.0 379.7L1277.0 381.0L1278.0 382.4L1279.0 383.7L1280.0 385.0L1281.0 386.4L1282.0 387.7L1283.0 389.1L1284.0 390.4L1285.0 391.8L1286.0 393.2L1287.0 394.5L1288.0 395.9L1289.0 397.2L1290.0 398.6L1291.0 400.0L1292.0 401.3L1293.0 402.7L1294.0 404.1L1295.0 405.4L1296.0 406.8L1297.0 408.2L1298.0 409.5L1299.0 410.9L1300.0 412.3L1301.0 413.7L1302.0 415.1L1303.0 416.4L1304.0 417.8L1305.0 419.2L1306.0 420.6L1307.0 422.0L1308.0 423.3L1309.0 424.7L1310.0 426.1L1311.0 427.5L1312.0 428.9L1313.0 430.3L1314.0 431.7L1315.0 433.1L1316.0 434.5L1317.0 435.9L1318.0 437.3L1319.0 438.7L1320.0 440.0L1321.0 441.4L1322.0 442.8L1323.0 444.2L1324.0 445.6L1325.0 447.0L1326.0 448.4L1327.0 449.8L1328.0 451.2L1329.0 452.7L1330.0 454.1L1331.0 455.5L1332.0 456.9L1333.0 458.3L1334.0 459.7L1335.0 461.1L1336.0 462.5L1337.0 463.9L1338.0 465.3L1339.0 466.7L1340.0 468.1L1341.0 469.5L1342.0 470.9L1343.0 472.3L1344.0 473.8L1345.0 475.2L1346.0 476.6L1347.0 478.0L1348.0 479.4L1349.0 480.8L1350.0 482.2L1351.0 483.6L1352.0 485.1L1353.0 486.5L1354.0 487.9L1355.0 489.3L1356.0 490.7L1357.0 492.1L1358.0 493.6L1359.0 495.0L1360.0 496.4L1361.0 497.8L1362.0 499.2L1363.0 500.7L1364.0 502.1L1365.0 503.5L1366.0 504.9L1367.0 506.4L1368.0 507.8L1369.0 509.2L1370.0 510.6L1371.0 512.1L1372.0 513.5L1373.0 514.9L1374.0 516.4L1375.0 517.8L1376.0 519.2L1377.0 520.7L1378.0 522.1L1379.0 523.5L1380.0 525.0L1381.0 526.4L1382.0 527.8L1383.0 529.3L1384.0 530.7L1385.0 532.2L1386.0 533.6L1387.0 535.0L1388.0 536.5L1389.0 537.9L1390.0 539.4L1391.0 540.8L1392.0 542.3L1393.0 543.7L1394.0 545.2L1395.0 546.6L1396.0 548.1L1397.0 549.5L1398.0 551.0L1399.0 552.4L1400.0 553.9L1401.0 555.4L1402.0 556.8L1403.0 558.3L1404.0 559.8L1405.0 561.2L1406.0 562.7L1407.0 564.2L1408.0 565.6L1409.0 567.1L1410.0 568.6L1411.0 570.0L1412.0 571.5L1413.0 573.0L1414.0 574.5L1415.0 576.0L1416.0 577.4L1417.0 578.9L1418.0 580.4L1419.0 581.9L1420.0 583.4L1421.0 584.9L1422.0 586.4L1423.0 587.9L1424.0 589.4L1425.0 590.9L1426.0 592.4L1427.0 593.9L1428.0 595.4L1429.0 596.9L1430.0 598.4L1431.0 599.9L1432.0 601.4L1433.0 602.9L1434.0 604.4L1435.0 605.9L1436.0 607.5L1437.0 609.0L1438.0 610.5L1439.0 612.0L1440.0 613.6L1441.0 615.1L1442.0 616.6L1443.0 618.2L1444.0 619.7L1445.0 621.2L1446.0 622.8L1447.0 624.3L1448.0 625.9L1449.0 627.4L1450.0 629.0L1451.0 630.5L1452.0 632.1L1453.0 633.6L1454.0 635.2L1455.0 636.7L1456.0 638.3L1457.0 639.9L1458.0 641.4L1459.0 643.0L1460.0 644.6L1461.0 646.2L1462.0 647.7L1463.0 649.3L1464.0 650.9L1465.0 652.5L1466.0 654.1L1467.0 655.7L1468.0 657.3L1469.0 658.9L1470.0 660.5L1471.0 662.1L1472.0 663.7L1473.0 665.3L1474.0 666.9L1475.0 668.5L1476.0 670.1L1477.0 671.7L1478.0 673.3L1479.0 675.0L1480.0 676.6L1481.0 678.2L1482.0 679.8L1483.0 681.5L1484.0 683.1L1485.0 684.7L1486.0 686.4L1487.0 688.0L1488.0 689.7L1489.0 691.3L1490.0 692.9L1491.0 694.6L1492.0 696.2L1493.0 697.9L1494.0 699.5L1495.0 701.2L1496.0 702.8L1497.0 704.5L1498.0 706.2L1499.0 707.8L1500.0 709.5L1501.0 711.1L1502.0 712.8L1503.0 714.5L1504.0 716.1L1505.0 717.8L1506.0 719.5L1507.0 721.1L1508.0 722.8L1509.0 724.5L1510.0 726.1L1511.0 727.8L1512.0 729.5L1513.0 731.1L1514.0 732.8L1515.0 734.5L1516.0 736.1L1517.0 737.8L1518.0 739.4L1519.0 741.1L1520.0 742.8L1521.0 744.4L1522.0 746.1L1523.0 747.8L1524.0 749.4L1525.0 751.1L1526.0 752.7L1527.0 754.4L1528.0 756.0L1529.0 757.7L1530.0 759.4L1531.0 761.0L1532.0 762.6L1533.0 764.3L1534.0 765.9L1535.0 767.6L1536.0 769.2L1537.0 770.9L1538.0 772.5L1539.0 774.1L1540.0 775.7L1541.0 777.4L1542.0 779.0L1543.0 780.6L1544.0 782.2L1545.0 783.8L1546.0 785.4L1547.0 787.1L1548.0 788.7L1549.0 790.3L1550.0 791.9L1551.0 793.4L1552.0 795.0L1553.0 796.6L1554.0 798.2L1555.0 799.8L1556.0 801.3L1557.0 802.9L1558.0 804.5L1559.0 806.0L1560.0 807.6L1561.0 809.1L1562.0 810.7L1563.0 812.2L1564.0 813.7L1565.0 815.3L1566.0 816.8L1567.0 818.3L1568.0 819.8L1569.0 821.3L1570.0 822.8L1571.0 824.3L1572.0 825.8L1573.0 827.3L1574.0 828.8L1575.0 830.2L1576.0 831.7L1577.0 833.2L1578.0 834.6L1579.0 836.0L1580.0 837.5L1581.0 838.9L1582.0 840.3L1583.0 841.8L1584.0 843.2L1585.0 844.6L1586.0 846.0L1587.0 847.3L1588.0 848.7L1589.0 850.1L1590.0 851.5L1591.0 852.8L1592.0 854.2L1593.0 855.5L1594.0 856.8L1595.0 858.2L1596.0 859.5L1597.0 860.8L1598.0 862.1L1599.0 863.4L1600.0 864.6L1601.0 865.9L1602.0 867.1L1603.0 868.3L1604.0 869.5L1605.0 870.6L1606.0 871.7L1607.0 872.8L1608.0 873.8L1609.0 874.8L1610.0 875.7L1611.0 876.6L1612.0 877.4L1613.0 878.2L1614.0 878.9L1615.0 879.5L1616.0 880.1L1617.0 880.6" stroke="#1c1cff" stroke-width="5.3"/>
<path d="M248.0 1091.9L249.0 1092.0L250.0 1092.1L251.0 1092.2L252.0 1092.3L253.0 1092.4L254.0 1092.4L255.0 1092.4L256.0 1092.4L257.0 1092.4L258.0 1092.4L259.0 1092.3L260.0 1092.3L261.0 1092.2L262.0 1092.1L263.0 1092.0L264.0 1091.8L265.0 1091.6L266.0 1091.4L267.0 1091.1L268.0 1090.8L269.0 1090.5L270.0 1090.2L271.0 1089.9L272.0 1089.5L273.0 1089.2L274.0 1088.8L275.0 1088.5L276.0 1088.1L277.0 1087.7L278.0 1087.3L279.0 1086.8L280.0 1086.4L281.0 1085.9L282.0 1085.5L283.0 1085.0L284.0 1084.5L285.0 1084.0L286.0 1083.5L287.0 1083.0L288.0 1082.4L289.0 1081.9L290.0 1081.3L291.0 1080.7L292.0 1080.1L293.0 1079.4L294.0 1078.7L295.0 1078.1L296.0 1077.4L297.0 1076.7L298.0 1076.0L299.0 1075.3L300.0 1074.6L301.0 1073.9L302.0 1073.2L303.0 1072.5L304.0 1071.7L305.0 1071.0L306.0 1070.2L307.0 1069.5L308.0 1068.7L309.0 1068.0L310.0 1067.2L311.0 1066.4L312.0 1065.6L313.0 1064.8L314.0 1064.0L315.0 1063.2L316.0 1062.4L317.0 1061.6L318.0 1060.8L319.0 1060.0L320.0 1059.2L321.0 1058.3L322.0 1057.5L323.0 1056.6L324.0 1055.8L325.0 1054.9L326.0 1054.1L327.0 1053.2L328.0 1052.3L329.0 1051.5L330.0 1050.6L331.0 1049.7L332.0 1048.8L333.0 1047.9L334.0 1047.0L335.0 1046.1L336.0 1045.1L337.0 1044.2L338.0 1043.3L339.0 1042.3L340.0 1041.4L341.0 1040.5L342.0 1039.5L343.0 1038.6L344.0 1037.6L345.0 1036.6L346.0 1035.7L347.0 1034.7L348.0 1033.7L349.0 1032.7L350.0 1031.7L351.0 1030.7L352.0 1029.7L353.0 1028.7L354.0 1027.7L355.0 1026.7L356.0 1025.7L357.0 1024.7L358.0 1023.6L359.0 1022.6L360.0 1021.6L361.0 1020.5L362.0 1019.4L363.0 1018.3L364.0 1017.2L365.0 1016.1L366.0 1015.0L367.0 1013.9L368.0 1012.7L369.0 1011.6L370.0 1010.5L371.0 1009.3L372.0 1008.2L373.0 1007.0L374.0 1005.9L375.0 1004.7L376.0 1003.6L377.0 1002.4L378.0 1001.2L379.0 1000.1L380.0 998.9L381.0 997.7L382.0 996.5L383.0 995.3L384.0 994.1L385.0 993.0L386.0 991.8L387.0 990.6L388.0 989.4L389.0 988.2L390.0 987.0L391.0 985.7L392.0 984.5L393.0 983.3L394.0 982.1L395.0 980.9L396.0 979.7L397.0 978.5L398.0 977.2L399.0 976.0L400.0 974.8L401.0 973.6L402.0 972.3L403.0 971.1L404.0 969.9L405.0 968.6L406.0 967.4L407.0 966.1L408.0 964.9L409.0 963.7L410.0 962.4L411.0 961.2L412.0 959.9L413.0 958.7L414.0 957.4L415.0 956.2L416.0 954.9L417.0 953.7L418.0 952.4L419.0 951.2L420.0 949.9L421.0 948.7L422.0 947.4L423.0 946.1L424.0 944.9L425.0 943.6L426.0 942.4L427.0 941.1L428.0 939.8L429.0 938.6L430.0 937.3L431.0 936.0L432.0 934.8L433.0 933.5L434.0 932.2L435.0 930.9L436.0 929.7L437.0 928.4L438.0 927.1L439.0 925.8L440.0 924.6L441.0 923.3L442.0 922.0L443.0 920.7L444.0 919.4L445.0 918.2L446.0 916.9L447.0 915.6L448.0 914.3L449.0 913.0L450.0 911.7L451.0 910.4L452.0 909.2L453.0 907.9L454.0 906.6L455.0 905.3L456.0 904.0L457.0 902.7L458.0 901.4L459.0 900.1L460.0 898.8L461.0 897.5L462.0 896.2L463.0 894.9L464.0 893.6L465.0 892.3L466.0 891.0L467.0 889.6L468.0 888.3L469.0 887.0L470.0 885.7L471.0 884.4L472.0 883.1L473.0 881.8L474.0 880.5L475.0 879.1L476.0 877.8L477.0 876.5L478.0 875.2L479.0 873.8L480.0 872.5L481.0 871.2L482.0 869.9L483.0 868.5L484.0 867.2L485.0 865.9L486.0 864.6L487.0 863.2L488.0 861.9L489.0 860.6L490.0 859.2L491.0 857.9L492.0 856.5L493.0 855.2L494.0 853.9L495.0 852.5L496.0 851.2L497.0 849.8L498.0 848.5L499.0 847.1L500.0 845.8L501.0 844.4L502.0 843.1L503.0 841.7L504.0 840.4L505.0 839.0L506.0 837.7L507.0 836.3L508.0 834.9L509.0 833.6L510.0 832.2L511.0 830.9L512.0 829.5L513.0 828.1L514.0 826.8L515.0 825.4L516.0 824.0L517.0 822.6L518.0 821.3L519.0 819.9L520.0 818.5L521.0 817.1L522.0 815.8L523.0 814.4L524.0 813.0L525.0 811.6L526.0 810.2L527.0 808.9L528.0 807.5L529.0 806.1L530.0 804.7L531.0 803.3L532.0 801.9L533.0 800.5L534.0 799.1L535.0 797.7L536.0 796.3L537.0 794.9L538.0 793.5L539.0 792.1L540.0 790.7L541.0 789.3L542.0 787.9L543.0 786.5L544.0 785.1L545.0 783.7L546.0 782.3L547.0 780.9L548.0 779.4L549.0 778.0L550.0 776.6L551.0 775.2L552.0 773.8L553.0 772.3L554.0 770.9L555.0 769.5L556.0 768.1L557.0 766.6L558.0 765.2L559.0 763.8L560.0 762.4L561.0 760.9L562.0 759.5L563.0 758.1L564.0 756.6L565.0 755.2L566.0 753.7L567.0 752.3L568.0 750.9L569.0 749.4L570.0 748.0L571.0 746.5L572.0 745.1L573.0 743.6L574.0 742.2L575.0 740.7L576.0 739.3L577.0 737.8L578.0 736.4L579.0 734.9L580.0 733.5L581.0 732.0L582.0 730.6L583.0 729.1L584.0 727.6L585.0 726.2L586.0 724.7L587.0 723.3L588.0 721.8L589.0 720.3L590.0 718.9L591.0 717.4L592.0 715.9L593.0 714.4L594.0 713.0L595.0 711.5L596.0 710.0L597.0 708.6L598.0 707.1L599.0 705.6L600.0 704.1L601.0 702.6L602.0 701.2L603.0 699.7L604.0 698.2L605.0 696.7L606.0 695.2L607.0 693.8L608.0 692.3L609.0 690.8L610.0 689.3L611.0 687.8L612.0 686.3L613.0 684.8L614.0 683.3L615.0 681.8L616.0 680.4L617.0 678.9L618.0 677.4L619.0 675.9L620.0 674.4L621.0 672.9L622.0 671.4L623.0 669.9L624.0 668.4L625.0 666.9L626.0 665.4L627.0 663.9L628.0 662.4L629.0 660.9L630.0 659.4L631.0 657.9L632.0 656.3L633.0 654.8L634.0 653.3L635.0 651.8L636.0 650.3L637.0 648.8L638.0 647.3L639.0 645.8L640.0 644.3L641.0 642.8L642.0 641.2L643.0 639.7L644.0 638.2L645.0 636.7L646.0 635.2L647.0 633.7L648.0 632.1L649.0 630.6L650.0 629.1L651.0 627.6L652.0 626.1L653.0 624.5L654.0 623.0L655.0 621.5L656.0 620.0L657.0 618.5L658.0 616.9L659.0 615.4L660.0 613.9L661.0 612.4L662.0 610.8L663.0 609.3L664.0 607.8L665.0 606.3L666.0 604.7L667.0 603.2L668.0 601.7L669.0 600.1L670.0 598.6L671.0 597.1L672.0 595.5L673.0 594.0L674.0 592.5L675.0 590.9L676.0 589.4L677.0 587.9L678.0 586.3L679.0 584.8L680.0 583.3L681.0 581.7L682.0 580.2L683.0 578.7L684.0 577.1L685.0 575.6L686.0 574.1L687.0 572.5L688.0 571.0L689.0 569.4L690.0 567.9L691.0 566.4L692.0 564.8L693.0 563.3L694.0 561.7L695.0 560.2L696.0 558.7L697.0 557.1L698.0 555.6L699.0 554.0L700.0 552.5L701.0 551.0L702.0 549.4L703.0 547.9L704.0 546.3L705.0 544.8L706.0 543.2L707.0 541.7L708.0 540.1L709.0 538.6L710.0 537.1L711.0 535.5L712.0 534.0L713.0 532.4L714.0 530.9L715.0 529.3L716.0 527.8L717.0 526.2L718.0 524.7L719.0 523.2L720.0 521.6L721.0 520.1L722.0 518.5L723.0 517.0L724.0 515.4L725.0 513.9L726.0 512.3L727.0 510.8L728.0 509.2L729.0 507.7L730.0 506.1L731.0 504.6L732.0 503.1L733.0 501.5L734.0 500.0L735.0 498.4L736.0 496.9L737.0 495.3L738.0 493.8L739.0 492.2L740.0 490.7L741.0 489.1L742.0 487.6L743.0 486.0L744.0 484.5L745.0 482.9L746.0 481.4L747.0 479.9L748.0 478.3L749.0 476.8L750.0 475.2L751.0 473.7L752.0 472.1L753.0 470.6L754.0 469.0L755.0 467.5L756.0 465.9L757.0 464.4L758.0 462.9L759.0 461.3L760.0 459.8L761.0 458.2L762.0 456.7L763.0 455.1L764.0 453.6L765.0 452.1L766.0 450.5L767.0 449.0L768.0 447.4L769.0 445.9L770.0 444.3L771.0 442.8L772.0 441.3L773.0 439.7L774.0 438.2L775.0 436.6L776.0 435.1L777.0 433.6L778.0 432.0L779.0 430.5L780.0 428.9L781.0 427.4L782.0 425.9L783.0 424.3L784.0 422.8L785.0 421.3L786.0 419.7L787.0 418.2L788.0 416.7L789.0 415.1L790.0 413.6L791.0 412.1L792.0 410.5L793.0 409.0L794.0 407.5L795.0 405.9L796.0 404.4L797.0 402.9L798.0 401.3L799.0 399.8L800.0 398.3L801.0 396.7L802.0 395.2L803.0 393.7L804.0 392.2L805.0 390.6L806.0 389.1L807.0 387.6L808.0 386.1L809.0 384.5L810.0 383.0L811.0 381.5L812.0 380.0L813.0 378.5L814.0 376.9L815.0 375.4L816.0 373.9L817.0 372.4L818.0 370.9L819.0 369.3L820.0 367.8L821.0 366.3L822.0 364.8L823.0 363.3L824.0 361.8L825.0 360.3L826.0 358.7L827.0 357.2L828.0 355.7L829.0 354.2L830.0 352.7L831.0 351.2L832.0 349.7L833.0 348.2L834.0 346.7L835.0 345.2L836.0 343.7L837.0 342.2L838.0 340.7L839.0 339.2L840.0 337.7L841.0 336.2L842.0 334.7L843.0 333.2L844.0 331.7L845.0 330.2L846.0 328.8L847.0 327.3L848.0 325.8L849.0 324.3L850.0 322.8L851.0 321.3L852.0 319.9L853.0 318.4L854.0 316.9L855.0 315.4L856.0 314.0L857.0 312.5L858.0 311.0L859.0 309.6L860.0 308.1L861.0 306.6L862.0 305.2L863.0 303.7L864.0 302.3L865.0 300.8L866.0 299.3L867.0 297.9L868.0 296.4L869.0 295.0L870.0 293.6L871.0 292.1L872.0 290.7L873.0 289.2L874.0 287.8L875.0 286.4L876.0 284.9L877.0 283.5L878.0 282.1L879.0 280.6L880.0 279.2L881.0 277.8L882.0 276.4L883.0 275.0L884.0 273.5L885.0 272.1L886.0 270.7L887.0 269.3L888.0 267.9L889.0 266.5L890.0 265.1L891.0 263.7L892.0 262.3L893.0 260.9L894.0 259.5L895.0 258.2L896.0 256.8L897.0 255.4L898.0 254.0L899.0 252.7L900.0 251.3L901.0 249.9L902.0 248.6L903.0 247.2L904.0 245.9L905.0 244.5L906.0 243.2L907.0 241.8L908.0 240.5L909.0 239.2L910.0 237.9L911.0 236.5L912.0 235.2L913.0 233.9L914.0 232.6L915.0 231.3L916.0 230.0L917.0 228.7L918.0 227.4L919.0 226.2L920.0 224.9L921.0 223.6L922.0 222.4L923.0 221.1L924.0 219.9L925.0 218.6L926.0 217.4L927.0 216.1L928.0 214.9L929.0 213.7L930.0 212.5L931.0 211.2L932.0 210.0L933.0 208.8L934.0 207.6L935.0 206.4L936.0 205.3L937.0 204.1L938.0 202.9L939.0 201.7L940.0 200.6L941.0 199.4L942.0 198.3L943.0 197.1L944.0 196.0L945.0 194.8L946.0 193.7L947.0 192.6L948.0 191.5L949.0 190.4L950.0 189.3L951.0 188.2L952.0 187.1L953.0 186.0L954.0 184.9L955.0 183.9L956.0 182.8L957.0 181.8L958.0 180.7L959.0 179.7L960.0 178.7L961.0 177.7L962.0 176.7L963.0 175.7L964.0 174.8L965.0 173.8L966.0 172.9L967.0 172.0L968.0 171.1L969.0 170.2L970.0 169.4L971.0 168.6L972.0 167.8L973.0 167.0L974.0 166.2L975.0 165.5L976.0 164.8L977.0 164.1L978.0 163.4L979.0 162.8L980.0 162.2L981.0 161.6L982.0 161.1L983.0 160.6L984.0 160.1L985.0 159.6L986.0 159.2L987.0 158.7L988.0 158.4L989.0 158.0L990.0 157.7L991.0 157.3L992.0 157.1L993.0 156.8L994.0 156.6L995.0 156.4L996.0 156.2L997.0 156.0L998.0 155.9L999.0 155.7L1000.0 155.6L1001.0 155.6L1002.0 155.5L1003.0 155.5L1004.0 155.5L1005.0 155.5L1006.0 155.5L1007.0 155.6L1008.0 155.6L1009.0 155.7L1010.0 155.8L1011.0 155.9L1012.0 156.1L1013.0 156.2L1014.0 156.4L1015.0 156.5L1016.0 156.7L1017.0 156.9L1018.0 157.2L1019.0 157.4L1020.0 157.6L1021.0 157.9L1022.0 158.1L1023.0 158.4L1024.0 158.6L1025.0 158.9L1026.0 159.2L1027.0 159.5L1028.0 159.8L1029.0 160.1L1030.0 160.4L1031.0 160.7L1032.0 161.0L1033.0 161.3L1034.0 161.7L1035.0 162.0L1036.0 162.3L1037.0 162.7L1038.0 163.0L1039.0 163.4L1040.0 163.7L1041.0 164.1L1042.0 164.4L1043.0 164.8L1044.0 165.1L1045.0 165.5L1046.0 165.9L1047.0 166.2L1048.0 166.6L1049.0 167.0L1050.0 167.4L1051.0 167.8L1052.0 168.1L1053.0 168.5L1054.0 168.9L1055.0 169.3L1056.0 169.8L1057.0 170.2L1058.0 170.6L1059.0 171.0L1060.0 171.4L1061.0 171.9L1062.0 172.3L1063.0 172.8L1064.0 173.2L1065.0 173.7L1066.0 174.1L1067.0 174.6L1068.0 175.1L1069.0 175.6L1070.0 176.1L1071.0 176.5L1072.0 177.0L1073.0 177.6L1074.0 178.1L1075.0 178.6L1076.0 179.1L1077.0 179.6L1078.0 180.2L1079.0 180.7L1080.0 181.3L1081.0 181.8L1082.0 182.4L1083.0 183.0L1084.0 183.6L1085.0 184.2L1086.0 184.8L1087.0 185.4L1088.0 186.0L1089.0 186.6L1090.0 187.2L1091.0 187.9L1092.0 188.5L1093.0 189.1L1094.0 189.8L1095.0 190.5L1096.0 191.1L1097.0 191.8L1098.0 192.5L1099.0 193.2L1100.0 193.9L1101.0 194.6L1102.0 195.3L1103.0 196.0L1104.0 196.8L1105.0 197.5L1106.0 198.2L1107.0 199.0L1108.0 199.7L1109.0 200.5L1110.0 201.3L1111.0 202.1L1112.0 202.9L1113.0 203.7L1114.0 204.5L1115.0 205.3L1116.0 206.1L1117.0 206.9L1118.0 207.7L1119.0 208.6L1120.0 209.4L1121.0 210.3L1122.0 211.1L1123.0 212.0L1124.0 212.9L1125.0 213.8L1126.0 214.6L1127.0 215.5L1128.0 216.4L1129.0 217.3L1130.0 218.2L1131.0 219.2L1132.0 220.1L1133.0 221.0L1134.0 221.9L1135.0 222.9L1136.0 223.8L1137.0 224.8L1138.0 225.7L1139.0 226.7L1140.0 227.6L1141.0 228.6L1142.0 229.6L1143.0 230.6L1144.0 231.5L1145.0 232.5L1146.0 233.5L1147.0 234.5L1148.0 235.5L1149.0 236.5L1150.0 237.5L1151.0 238.6L1152.0 239.6L1153.0 240.6L1154.0 241.6L1155.0 242.7L1156.0 243.7L1157.0 244.7L1158.0 245.8L1159.0 246.8L1160.0 247.9L1161.0 248.9L1162.0 250.0L1163.0 251.0L1164.0 252.1L1165.0 253.2L1166.0 254.3L1167.0 255.3L1168.0 256.4L1169.0 257.5L1170.0 258.6L1171.0 259.7L1172.0 260.8L1173.0 261.9L1174.0 263.0L1175.0 264.1L1176.0 265.2L1177.0 266.3L1178.0 267.4L1179.0 268.6L1180.0 269.7L1181.0 270.8L1182.0 271.9L1183.0 273.1L1184.0 274.2L1185.0 275.4L1186.0 276.5L1187.0 277.7L1188.0 278.8L1189.0 280.0L1190.0 281.1L1191.0 282.3L1192.0 283.4L1193.0 284.6L1194.0 285.8L1195.0 287.0L1196.0 288.1L1197.0 289.3L1198.0 290.5L1199.0 291.7L1200.0 292.9L1201.0 294.1L1202.0 295.3L1203.0 296.5L1204.0 297.7L1205.0 298.9L1206.0 300.1L1207.0 301.3L1208.0 302.5L1209.0 303.7L1210.0 305.0L1211.0 306.2L1212.0 307.4L1213.0 308.6L1214.0 309.9L1215.0 311.1L1216.0 312.3L1217.0 313.6L1218.0 314.8L1219.0 316.1L1220.0 317.3L1221.0 318.6L1222.0 319.8L1223.0 321.1L1224.0 322.3L1225.0 323.6L1226.0 324.9L1227.0 326.1L1228.0 327.4L1229.0 328.7L1230.0 330.0L1231.0 331.2L1232.0 332.5L1233.0 333.8L1234.0 335.1L1235.0 336.4L1236.0 337.7L1237.0 339.0L1238.0 340.2L1239.0 341.5L1240.0 342.8L1241.0 344.1L1242.0 345.4L1243.0 346.8L1244.0 348.1L1245.0 349.4L1246.0 350.7L1247.0 352.0L1248.0 353.3L1249.0 354.6L1250.0 356.0L1251.0 357.3L1252.0 358.6L1253.0 359.9L1254.0 361.3L1255.0 362.6L1256.0 363.9L1257.0 365.3L1258.0 366.6L1259.0 368.0L1260.0 369.3L1261.0 370.6L1262.0 372.0L1263.0 373.3L1264.0 374.7L1265.0 376.0L1266.0 377.4L1267.0 378.7L1268.0 380.1L1269.0 381.5L1270.0 382.8L1271.0 384.2L1272.0 385.5L1273.0 386.9L1274.0 388.3L1275.0 389.7L1276.0 391.0L1277.0 392.4L1278.0 393.8L1279.0 395.1L1280.0 396.5L1281.0 397.9L1282.0 399.3L1283.0 400.7L1284.0 402.1L1285.0 403.4L1286.0 404.8L1287.0 406.2L1288.0 407.6L1289.0 409.0L1290.0 410.4L1291.0 411.8L1292.0 413.2L1293.0 414.6L1294.0 416.0L1295.0 417.4L1296.0 418.8L1297.0 420.2L1298.0 421.6L1299.0 423.0L1300.0 424.4L1301.0 425.8L1302.0 427.2L1303.0 428.6L1304.0 430.0L1305.0 431.4L1306.0 432.8L1307.0 434.3L1308.0 435.7L1309.0 437.1L1310.0 438.5L1311.0 439.9L1312.0 441.3L1313.0 442.8L1314.0 444.2L1315.0 445.6L1316.0 447.0L1317.0 448.4L1318.0 449.9L1319.0 451.3L1320.0 452.7L1321.0 454.1L1322.0 455.6L1323.0 457.0L1324.0 458.4L1325.0 459.8L1326.0 461.3L1327.0 462.7L1328.0 464.1L1329.0 465.6L1330.0 467.0L1331.0 468.4L1332.0 469.9L1333.0 471.3L1334.0 472.7L1335.0 474.2L1336.0 475.6L1337.0 477.0L1338.0 478.5L1339.0 479.9L1340.0 481.4L1341.0 482.8L1342.0 484.2L1343.0 485.7L1344.0 487.1L1345.0 488.6L1346.0 490.0L1347.0 491.4L1348.0 492.9L1349.0 494.3L1350.0 495.8L1351.0 497.2L1352.0 498.7L1353.0 500.1L1354.0 501.5L1355.0 503.0L1356.0 504.4L1357.0 505.9L1358.0 507.3L1359.0 508.8L1360.0 510.2L1361.0 511.7L1362.0 513.1L1363.0 514.6L1364.0 516.0L1365.0 517.5L1366.0 518.9L1367.0 520.4L1368.0 521.8L1369.0 523.3L1370.0 524.7L1371.0 526.2L1372.0 527.6L1373.0 529.1L1374.0 530.6L1375.0 532.0L1376.0 533.5L1377.0 534.9L1378.0 536.4L1379.0 537.9L1380.0 539.3L1381.0 540.8L1382.0 542.2L1383.0 543.7L1384.0 545.2L1385.0 546.6L1386.0 548.1L1387.0 549.6L1388.0 551.0L1389.0 552.5L1390.0 554.0L1391.0 555.4L1392.0 556.9L1393.0 558.4L1394.0 559.8L1395.0 561.3L1396.0 562.8L1397.0 564.3L1398.0 565.7L1399.0 567.2L1400.0 568.7L1401.0 570.2L1402.0 571.7L1403.0 573.1L1404.0 574.6L1405.0 576.1L1406.0 577.6L1407.0 579.1L1408.0 580.6L1409.0 582.0L1410.0 583.5L1411.0 585.0L1412.0 586.5L1413.0 588.0L1414.0 589.5L1415.0 591.0L1416.0 592.5L1417.0 594.0L1418.0 595.5L1419.0 597.0L1420.0 598.5L1421.0 600.0L1422.0 601.5L1423.0 603.0L1424.0 604.6L1425.0 606.1L1426.0 607.6L1427.0 609.1L1428.0 610.6L1429.0 612.1L1430.0 613.7L1431.0 615.2L1432.0 616.7L1433.0 618.2L1434.0 619.8L1435.0 621.3L1436.0 622.8L1437.0 624.3L1438.0 625.9L1439.0 627.4L1440.0 629.0L1441.0 630.5L1442.0 632.0L1443.0 633.6L1444.0 635.1L1445.0 636.7L1446.0 638.2L1447.0 639.8L1448.0 641.3L1449.0 642.9L1450.0 644.5L1451.0 646.0L1452.0 647.6L1453.0 649.1L1454.0 650.7L1455.0 652.3L1456.0 653.9L1457.0 655.4L1458.0 657.0L1459.0 658.6L1460.0 660.2L1461.0 661.7L1462.0 663.3L1463.0 664.9L1464.0 666.5L1465.0 668.1L1466.0 669.7L1467.0 671.3L1468.0 672.9L1469.0 674.5L1470.0 676.1L1471.0 677.7L1472.0 679.3L1473.0 680.9L1474.0 682.5L1475.0 684.2L1476.0 685.8L1477.0 687.4L1478.0 689.0L1479.0 690.7L1480.0 692.3L1481.0 693.9L1482.0 695.6L1483.0 697.2L1484.0 698.8L1485.0 700.5L1486.0 702.1L1487.0 703.8L1488.0 705.4L1489.0 707.1L1490.0 708.7L1491.0 710.4L1492.0 712.0L1493.0 713.7L1494.0 715.3L1495.0 717.0L1496.0 718.7L1497.0 720.3L1498.0 722.0L1499.0 723.7L1500.0 725.3L1501.0 727.0L1502.0 728.7L1503.0 730.4L1504.0 732.1L1505.0 733.7L1506.0 735.4L1507.0 737.1L1508.0 738.8L1509.0 740.5L1510.0 742.2L1511.0 743.8L1512.0 745.5L1513.0 747.2L1514.0 748.9L1515.0 750.6L1516.0 752.3L1517.0 754.0L1518.0 755.6L1519.0 757.3L1520.0 759.0L1521.0 760.7L1522.0 762.4L1523.0 764.1L1524.0 765.8L1525.0 767.4L1526.0 769.1L1527.0 770.8L1528.0 772.5L1529.0 774.1L1530.0 775.8L1531.0 777.5L1532.0 779.2L1533.0 780.8L1534.0 782.5L1535.0 784.2L1536.0 785.8L1537.0 787.5L1538.0 789.1L1539.0 790.8L1540.0 792.4L1541.0 794.1L1542.0 795.7L1543.0 797.4L1544.0 799.0L1545.0 800.7L1546.0 802.3L1547.0 803.9L1548.0 805.5L1549.0 807.1L1550.0 808.8L1551.0 810.4L1552.0 812.0L1553.0 813.6L1554.0 815.2L1555.0 816.8L1556.0 818.4L1557.0 819.9L1558.0 821.5L1559.0 823.1L1560.0 824.6L1561.0 826.2L1562.0 827.8L1563.0 829.3L1564.0 830.9L1565.0 832.4L1566.0 833.9L1567.0 835.4L1568.0 837.0L1569.0 838.5L1570.0 840.0L1571.0 841.5L1572.0 843.0L1573.0 844.5L1574.0 845.9L1575.0 847.4L1576.0 848.9L1577.0 850.3L1578.0 851.8L1579.0 853.2L1580.0 854.6L1581.0 856.1L1582.0 857.5L1583.0 858.9L1584.0 860.3L1585.0 861.7L1586.0 863.1L1587.0 864.4L1588.0 865.8L1589.0 867.2L1590.0 868.5L1591.0 869.8L1592.0 871.2L1593.0 872.5L1594.0 873.8L1595.0 875.1L1596.0 876.4L1597.0 877.7L1598.0 878.9L1599.0 880.2L1600.0 881.4L1601.0 882.6L1602.0 883.8L1603.0 884.9L1604.0 886.0L1605.0 887.1L1606.0 888.2L1607.0 889.1L1608.0 890.1L1609.0 891.0L1610.0 891.8L1611.0 892.6L1612.0 893.3L1613.0 893.9L1614.0 894.5L1615.0 895.0L1616.0 895.4L1617.0 895.8" stroke="#22ffff" stroke-width="5.3"/>
<path d="M248.0 1093.4L249.5 1093.6L251.0 1093.8L252.5 1093.9L254.0 1094.0L255.5 1094.0L257.0 1094.0L258.5 1093.9L260.0 1093.8L261.5 1093.7L263.0 1093.5L264.5 1093.3L266.0 1093.0L267.5 1092.7L269.0 1092.3L270.5 1091.9L272.0 1091.4L273.5 1091.0L275.0 1090.4L276.5 1089.9L278.0 1089.3L279.5 1088.6L281.0 1088.0L282.5 1087.3L284.0 1086.5L285.5 1085.7L287.0 1084.9L288.5 1084.1L290.0 1083.2L291.5 1082.3L293.0 1081.3L294.5 1080.4L296.0 1079.4L297.5 1078.3L299.0 1077.3L300.5 1076.2L302.0 1075.1L303.5 1073.9L305.0 1072.7L306.5 1071.5L308.0 1070.3L309.5 1069.1L311.0 1067.8L312.5 1066.5L314.0 1065.2L315.5 1063.8L317.1 1062.5L318.6 1061.1L320.1 1059.7L321.6 1058.3L323.1 1056.8L324.6 1055.4L326.1 1053.9L327.6 1052.4L329.1 1050.9L330.6 1049.3L332.1 1047.8L333.6 1046.2L335.1 1044.7L336.6 1043.1L338.1 1041.5L339.6 1039.8L341.1 1038.2L342.6 1036.6L344.1 1034.9L345.6 1033.2L347.1 1031.5L348.6 1029.8L350.1 1028.1L351.6 1026.4L353.1 1024.7L354.6 1022.9L356.1 1021.2L357.6 1019.4L359.1 1017.6L360.6 1015.8L362.1 1014.0L363.6 1012.2L365.1 1010.4L366.6 1008.5L368.1 1006.7L369.6 1004.8L371.1 1003.0L372.6 1001.1L374.1 999.2L375.6 997.3L377.1 995.4L378.6 993.5L380.1 991.6L381.6 989.7L383.1 987.8L384.6 985.8L386.1 983.9L387.6 981.9L389.1 980.0L390.6 978.0L392.1 976.1L393.6 974.1L395.1 972.1L396.6 970.2L398.1 968.2L399.6 966.2L401.1 964.2L402.6 962.2L404.1 960.2L405.6 958.2L407.1 956.3L408.6 954.3L410.1 952.2L411.6 950.2L413.1 948.2L414.6 946.2L416.1 944.2L417.6 942.2L419.1 940.2L420.6 938.2L422.1 936.2L423.6 934.2L425.1 932.2L426.6 930.2L428.1 928.2L429.6 926.1L431.1 924.1L432.6 922.1L434.1 920.1L435.6 918.1L437.1 916.1L438.6 914.1L440.1 912.0L441.6 910.0L443.1 908.0L444.6 906.0L446.1 904.0L447.6 902.0L449.1 899.9L450.6 897.9L452.1 895.9L453.7 893.9L455.2 891.8L456.7 889.8L458.2 887.8L459.7 885.8L461.2 883.7L462.7 881.7L464.2 879.7L465.7 877.6L467.2 875.6L468.7 873.6L470.2 871.5L471.7 869.5L473.2 867.4L474.7 865.4L476.2 863.3L477.7 861.3L479.2 859.3L480.7 857.2L482.2 855.2L483.7 853.1L485.2 851.0L486.7 849.0L488.2 846.9L489.7 844.9L491.2 842.8L492.7 840.7L494.2 838.7L495.7 836.6L497.2 834.5L498.7 832.5L500.2 830.4L501.7 828.3L503.2 826.2L504.7 824.1L506.2 822.1L507.7 820.0L509.2 817.9L510.7 815.8L512.2 813.7L513.7 811.6L515.2 809.5L516.7 807.4L518.2 805.3L519.7 803.2L521.2 801.1L522.7 799.0L524.2 796.9L525.7 794.7L527.2 792.6L528.7 790.5L530.2 788.4L531.7 786.2L533.2 784.1L534.7 782.0L536.2 779.8L537.7 777.7L539.2 775.5L540.7 773.4L542.2 771.2L543.7 769.1L545.2 766.9L546.7 764.8L548.2 762.6L549.7 760.4L551.2 758.3L552.7 756.1L554.2 753.9L555.7 751.7L557.2 749.5L558.7 747.3L560.2 745.2L561.7 743.0L563.2 740.8L564.7 738.6L566.2 736.4L567.7 734.2L569.2 732.0L570.7 729.7L572.2 727.5L573.7 725.3L575.2 723.1L576.7 720.9L578.2 718.6L579.7 716.4L581.2 714.2L582.7 712.0L584.2 709.7L585.7 707.5L587.2 705.2L588.7 703.0L590.2 700.8L591.8 698.5L593.3 696.3L594.8 694.0L596.3 691.8L597.8 689.5L599.3 687.2L600.8 685.0L602.3 682.7L603.8 680.4L605.3 678.2L606.8 675.9L608.3 673.6L609.8 671.4L611.3 669.1L612.8 666.8L614.3 664.5L615.8 662.2L617.3 660.0L618.8 657.7L620.3 655.4L621.8 653.1L623.3 650.8L624.8 648.5L626.3 646.2L627.8 643.9L629.3 641.6L630.8 639.3L632.3 637.0L633.8 634.7L635.3 632.4L636.8 630.1L638.3 627.8L639.8 625.5L641.3 623.2L642.8 620.9L644.3 618.6L645.8 616.2L647.3 613.9L648.8 611.6L650.3 609.3L651.8 607.0L653.3 604.6L654.8 602.3L656.3 600.0L657.8 597.7L659.3 595.3L660.8 593.0L662.3 590.7L663.8 588.4L665.3 586.0L666.8 583.7L668.3 581.4L669.8 579.0L671.3 576.7L672.8 574.4L674.3 572.0L675.8 569.7L677.3 567.4L678.8 565.0L680.3 562.7L681.8 560.4L683.3 558.0L684.8 555.7L686.3 553.3L687.8 551.0L689.3 548.7L690.8 546.3L692.3 544.0L693.8 541.6L695.3 539.3L696.8 536.9L698.3 534.6L699.8 532.3L701.3 529.9L702.8 527.6L704.3 525.2L705.8 522.9L707.3 520.5L708.8 518.2L710.3 515.8L711.8 513.5L713.3 511.2L714.8 508.8L716.3 506.5L717.8 504.1L719.3 501.8L720.8 499.4L722.3 497.1L723.8 494.8L725.3 492.4L726.8 490.1L728.4 487.7L729.9 485.4L731.4 483.0L732.9 480.7L734.4 478.4L735.9 476.0L737.4 473.7L738.9 471.3L740.4 469.0L741.9 466.7L743.4 464.3L744.9 462.0L746.4 459.6L747.9 457.3L749.4 455.0L750.9 452.6L752.4 450.3L753.9 448.0L755.4 445.6L756.9 443.3L758.4 441.0L759.9 438.7L761.4 436.3L762.9 434.0L764.4 431.7L765.9 429.4L767.4 427.0L768.9 424.7L770.4 422.4L771.9 420.1L773.4 417.8L774.9 415.4L776.4 413.1L777.9 410.8L779.4 408.5L780.9 406.2L782.4 403.9L783.9 401.6L785.4 399.3L786.9 397.0L788.4 394.7L789.9 392.4L791.4 390.1L792.9 387.8L794.4 385.5L795.9 383.2L797.4 380.9L798.9 378.6L800.4 376.3L801.9 374.0L803.4 371.8L804.9 369.5L806.4 367.2L807.9 364.9L809.4 362.7L810.9 360.4L812.4 358.1L813.9 355.9L815.4 353.6L816.9 351.3L818.4 349.1L819.9 346.8L821.4 344.6L822.9 342.3L824.4 340.1L825.9 337.8L827.4 335.6L828.9 333.3L830.4 331.1L831.9 328.9L833.4 326.6L834.9 324.4L836.4 322.2L837.9 319.9L839.4 317.7L840.9 315.5L842.4 313.3L843.9 311.1L845.4 308.9L846.9 306.7L848.4 304.5L849.9 302.3L851.4 300.1L852.9 297.9L854.4 295.7L855.9 293.5L857.4 291.3L858.9 289.1L860.4 286.9L861.9 284.8L863.4 282.6L865.0 280.4L866.5 278.3L868.0 276.1L869.5 274.0L871.0 271.8L872.5 269.7L874.0 267.5L875.5 265.4L877.0 263.2L878.5 261.1L880.0 259.0L881.5 256.9L883.0 254.7L884.5 252.6L886.0 250.5L887.5 248.4L889.0 246.3L890.5 244.2L892.0 242.1L893.5 240.0L895.0 237.9L896.5 235.9L898.0 233.8L899.5 231.7L901.0 229.7L902.5 227.7L904.0 225.6L905.5 223.6L907.0 221.6L908.5 219.6L910.0 217.7L911.5 215.7L913.0 213.8L914.5 211.8L916.0 209.9L917.5 208.0L919.0 206.1L920.5 204.3L922.0 202.5L923.5 200.6L925.0 198.8L926.5 197.1L928.0 195.3L929.5 193.6L931.0 191.9L932.5 190.2L934.0 188.5L935.5 186.9L937.0 185.3L938.5 183.7L940.0 182.2L941.5 180.6L943.0 179.1L944.5 177.7L946.0 176.2L947.5 174.8L949.0 173.5L950.5 172.1L952.0 170.8L953.5 169.5L955.0 168.3L956.5 167.1L958.0 165.9L959.5 164.8L961.0 163.7L962.5 162.6L964.0 161.6L965.5 160.7L967.0 159.7L968.5 158.8L970.0 158.0L971.5 157.1L973.0 156.4L974.5 155.6L976.0 154.9L977.5 154.3L979.0 153.7L980.5 153.2L982.0 152.6L983.5 152.2L985.0 151.8L986.5 151.4L988.0 151.0L989.5 150.7L991.0 150.4L992.5 150.2L994.0 150.0L995.5 149.9L997.0 149.8L998.5 149.7L1000.0 149.6L1001.6 149.6L1003.1 149.6L1004.6 149.7L1006.1 149.7L1007.6 149.9L1009.1 150.0L1010.6 150.2L1012.1 150.3L1013.6 150.6L1015.1 150.8L1016.6 151.1L1018.1 151.4L1019.6 151.7L1021.1 152.1L1022.6 152.4L1024.1 152.8L1025.6 153.2L1027.1 153.7L1028.6 154.1L1030.1 154.6L1031.6 155.1L1033.1 155.6L1034.6 156.1L1036.1 156.6L1037.6 157.2L1039.1 157.8L1040.6 158.3L1042.1 158.9L1043.6 159.6L1045.1 160.2L1046.6 160.8L1048.1 161.5L1049.6 162.1L1051.1 162.8L1052.6 163.5L1054.1 164.2L1055.6 165.0L1057.1 165.7L1058.6 166.5L1060.1 167.2L1061.6 168.0L1063.1 168.8L1064.6 169.7L1066.1 170.5L1067.6 171.4L1069.1 172.2L1070.6 173.1L1072.1 174.0L1073.6 175.0L1075.1 175.9L1076.6 176.8L1078.1 177.8L1079.6 178.8L1081.1 179.8L1082.6 180.8L1084.1 181.9L1085.6 182.9L1087.1 184.0L1088.6 185.1L1090.1 186.2L1091.6 187.4L1093.1 188.5L1094.6 189.7L1096.1 190.9L1097.6 192.1L1099.1 193.3L1100.6 194.5L1102.1 195.8L1103.6 197.1L1105.1 198.4L1106.6 199.7L1108.1 201.0L1109.6 202.4L1111.1 203.8L1112.6 205.2L1114.1 206.6L1115.6 208.0L1117.1 209.5L1118.6 210.9L1120.1 212.4L1121.6 213.9L1123.1 215.4L1124.6 217.0L1126.1 218.5L1127.6 220.1L1129.1 221.6L1130.6 223.2L1132.1 224.8L1133.6 226.4L1135.1 228.0L1136.6 229.7L1138.2 231.3L1139.7 233.0L1141.2 234.7L1142.7 236.3L1144.2 238.0L1145.7 239.7L1147.2 241.4L1148.7 243.2L1150.2 244.9L1151.7 246.6L1153.2 248.4L1154.7 250.1L1156.2 251.9L1157.7 253.6L1159.2 255.4L1160.7 257.2L1162.2 258.9L1163.7 260.7L1165.2 262.5L1166.7 264.3L1168.2 266.1L1169.7 267.9L1171.2 269.7L1172.7 271.6L1174.2 273.4L1175.7 275.2L1177.2 277.1L1178.7 278.9L1180.2 280.7L1181.7 282.6L1183.2 284.5L1184.7 286.3L1186.2 288.2L1187.7 290.1L1189.2 292.0L1190.7 293.9L1192.2 295.8L1193.7 297.7L1195.2 299.6L1196.7 301.5L1198.2 303.4L1199.7 305.3L1201.2 307.3L1202.7 309.2L1204.2 311.1L1205.7 313.1L1207.2 315.0L1208.7 317.0L1210.2 318.9L1211.7 320.9L1213.2 322.9L1214.7 324.8L1216.2 326.8L1217.7 328.8L1219.2 330.8L1220.7 332.8L1222.2 334.8L1223.7 336.8L1225.2 338.8L1226.7 340.8L1228.2 342.8L1229.7 344.8L1231.2 346.8L1232.7 348.9L1234.2 350.9L1235.7 352.9L1237.2 355.0L1238.7 357.0L1240.2 359.1L1241.7 361.1L1243.2 363.2L1244.7 365.3L1246.2 367.3L1247.7 369.4L1249.2 371.5L1250.7 373.5L1252.2 375.6L1253.7 377.7L1255.2 379.8L1256.7 381.9L1258.2 384.0L1259.7 386.1L1261.2 388.2L1262.7 390.3L1264.2 392.4L1265.7 394.5L1267.2 396.6L1268.7 398.7L1270.2 400.9L1271.7 403.0L1273.2 405.1L1274.8 407.3L1276.3 409.4L1277.8 411.5L1279.3 413.7L1280.8 415.8L1282.3 418.0L1283.8 420.1L1285.3 422.3L1286.8 424.4L1288.3 426.6L1289.8 428.7L1291.3 430.9L1292.8 433.1L1294.3 435.2L1295.8 437.4L1297.3 439.6L1298.8 441.8L1300.3 443.9L1301.8 446.1L1303.3 448.3L1304.8 450.5L1306.3 452.7L1307.8 454.9L1309.3 457.1L1310.8 459.3L1312.3 461.5L1313.8 463.7L1315.3 465.9L1316.8 468.1L1318.3 470.3L1319.8 472.5L1321.3 474.7L1322.8 476.9L1324.3 479.1L1325.8 481.3L1327.3 483.5L1328.8 485.8L1330.3 488.0L1331.8 490.2L1333.3 492.4L1334.8 494.6L1336.3 496.9L1337.8 499.1L1339.3 501.3L1340.8 503.6L1342.3 505.8L1343.8 508.0L1345.3 510.2L1346.8 512.5L1348.3 514.7L1349.8 516.9L1351.3 519.2L1352.8 521.4L1354.3 523.7L1355.8 525.9L1357.3 528.1L1358.8 530.4L1360.3 532.6L1361.8 534.9L1363.3 537.1L1364.8 539.4L1366.3 541.6L1367.8 543.8L1369.3 546.1L1370.8 548.3L1372.3 550.6L1373.8 552.8L1375.3 555.1L1376.8 557.3L1378.3 559.6L1379.8 561.8L1381.3 564.1L1382.8 566.3L1384.3 568.6L1385.8 570.8L1387.3 573.1L1388.8 575.3L1390.3 577.6L1391.8 579.8L1393.3 582.1L1394.8 584.4L1396.3 586.6L1397.8 588.9L1399.3 591.2L1400.8 593.4L1402.3 595.7L1403.8 598.0L1405.3 600.2L1406.8 602.5L1408.3 604.8L1409.8 607.1L1411.3 609.3L1412.9 611.6L1414.4 613.9L1415.9 616.2L1417.4 618.5L1418.9 620.8L1420.4 623.1L1421.9 625.4L1423.4 627.7L1424.9 630.0L1426.4 632.3L1427.9 634.6L1429.4 636.9L1430.9 639.2L1432.4 641.5L1433.9 643.8L1435.4 646.2L1436.9 648.5L1438.4 650.8L1439.9 653.2L1441.4 655.5L1442.9 657.9L1444.4 660.2L1445.9 662.5L1447.4 664.9L1448.9 667.3L1450.4 669.6L1451.9 672.0L1453.4 674.4L1454.9 676.7L1456.4 679.1L1457.9 681.5L1459.4 683.9L1460.9 686.3L1462.4 688.7L1463.9 691.1L1465.4 693.5L1466.9 695.9L1468.4 698.3L1469.9 700.7L1471.4 703.2L1472.9 705.6L1474.4 708.0L1475.9 710.5L1477.4 712.9L1478.9 715.4L1480.4 717.9L1481.9 720.3L1483.4 722.8L1484.9 725.3L1486.4 727.8L1487.9 730.2L1489.4 732.7L1490.9 735.2L1492.4 737.7L1493.9 740.3L1495.4 742.8L1496.9 745.3L1498.4 747.8L1499.9 750.4L1501.4 752.9L1502.9 755.5L1504.4 758.0L1505.9 760.6L1507.4 763.2L1508.9 765.7L1510.4 768.3L1511.9 770.9L1513.4 773.5L1514.9 776.1L1516.4 778.6L1517.9 781.2L1519.4 783.8L1520.9 786.4L1522.4 789.0L1523.9 791.5L1525.4 794.1L1526.9 796.7L1528.4 799.3L1529.9 801.8L1531.4 804.4L1532.9 807.0L1534.4 809.5L1535.9 812.1L1537.4 814.6L1538.9 817.2L1540.4 819.7L1541.9 822.2L1543.4 824.7L1544.9 827.2L1546.4 829.7L1547.9 832.2L1549.5 834.7L1551.0 837.1L1552.5 839.6L1554.0 842.0L1555.5 844.5L1557.0 846.9L1558.5 849.3L1560.0 851.7L1561.5 854.0L1563.0 856.4L1564.5 858.7L1566.0 861.0L1567.5 863.3L1569.0 865.6L1570.5 867.9L1572.0 870.2L1573.5 872.4L1575.0 874.6L1576.5 876.8L1578.0 879.0L1579.5 881.1L1581.0 883.2L1582.5 885.3L1584.0 887.4L1585.5 889.5L1587.0 891.5L1588.5 893.5L1590.0 895.5L1591.5 897.5L1593.0 899.4L1594.5 901.3L1596.0 903.2L1597.5 905.0L1599.0 906.8L1600.5 908.6L1602.0 910.2L1603.5 911.8L1605.0 913.3L1606.5 914.7L1608.0 915.9L1609.5 917.0L1611.0 917.9L1612.5 918.7L1614.0 919.3L1615.5 919.6L1617.0 919.8" stroke="#18ee18" stroke-width="5.0"/>
<path d="M248.0 1091.8L249.0 1091.9L250.0 1092.0L251.0 1092.1L252.0 1092.2L253.0 1092.2L254.0 1092.3L255.0 1092.3L256.0 1092.3L257.0 1092.3L258.0 1092.3L259.0 1092.2L260.0 1092.2L261.0 1092.1L262.0 1092.0L263.0 1091.9L264.0 1091.7L265.0 1091.5L266.0 1091.2L267.0 1091.0L268.0 1090.7L269.0 1090.4L270.0 1090.1L271.0 1089.8L272.0 1089.4L273.0 1089.1L274.0 1088.7L275.0 1088.3L276.0 1087.9L277.0 1087.5L278.0 1087.1L279.0 1086.7L280.0 1086.3L281.0 1085.8L282.0 1085.3L283.0 1084.9L284.0 1084.4L285.0 1083.9L286.0 1083.4L287.0 1082.8L288.0 1082.3L289.0 1081.7L290.0 1081.2L291.0 1080.6L292.0 1080.0L293.0 1079.4L294.0 1078.8L295.0 1078.2L296.0 1077.6L297.0 1077.0L298.0 1076.3L299.0 1075.6L300.0 1075.0L301.0 1074.3L302.0 1073.6L303.0 1072.9L304.0 1072.2L305.0 1071.5L306.0 1070.7L307.0 1070.0L308.0 1069.2L309.0 1068.5L310.0 1067.7L311.0 1066.9L312.0 1066.1L313.0 1065.3L314.0 1064.5L315.0 1063.7L316.0 1062.8L317.0 1062.0L318.0 1061.1L319.0 1060.3L320.0 1059.4L321.0 1058.5L322.0 1057.6L323.0 1056.7L324.0 1055.8L325.0 1054.9L326.0 1054.0L327.0 1053.1L328.0 1052.1L329.0 1051.2L330.0 1050.2L331.0 1049.3L332.0 1048.3L333.0 1047.3L334.0 1046.3L335.0 1045.3L336.0 1044.3L337.0 1043.3L338.0 1042.3L339.0 1041.3L340.0 1040.3L341.0 1039.2L342.0 1038.2L343.0 1037.1L344.0 1036.1L345.0 1035.0L346.0 1033.9L347.0 1032.8L348.0 1031.8L349.0 1030.7L350.0 1029.6L351.0 1028.5L352.0 1027.4L353.0 1026.2L354.0 1025.1L355.0 1024.0L356.0 1022.9L357.0 1021.7L358.0 1020.6L359.0 1019.4L360.0 1018.3L361.0 1017.1L362.0 1015.9L363.0 1014.8L364.0 1013.6L365.0 1012.4L366.0 1011.2L367.0 1010.0L368.0 1008.9L369.0 1007.7L370.0 1006.5L371.0 1005.2L372.0 1004.0L373.0 1002.8L374.0 1001.6L375.0 1000.4L376.0 999.2L377.0 997.9L378.0 996.7L379.0 995.5L380.0 994.2L381.0 993.0L382.0 991.7L383.0 990.5L384.0 989.2L385.0 988.0L386.0 986.7L387.0 985.5L388.0 984.2L389.0 982.9L390.0 981.7L391.0 980.4L392.0 979.1L393.0 977.8L394.0 976.6L395.0 975.3L396.0 974.0L397.0 972.7L398.0 971.4L399.0 970.1L400.0 968.9L401.0 967.6L402.0 966.3L403.0 965.0L404.0 963.7L405.0 962.4L406.0 961.1L407.0 959.8L408.0 958.5L409.0 957.2L410.0 955.9L411.0 954.6L412.0 953.3L413.0 952.0L414.0 950.7L415.0 949.4L416.0 948.1L417.0 946.7L418.0 945.4L419.0 944.1L420.0 942.8L421.0 941.5L422.0 940.2L423.0 938.9L424.0 937.6L425.0 936.3L426.0 935.0L427.0 933.6L428.0 932.3L429.0 931.0L430.0 929.7L431.0 928.4L432.0 927.1L433.0 925.8L434.0 924.4L435.0 923.1L436.0 921.8L437.0 920.5L438.0 919.2L439.0 917.8L440.0 916.5L441.0 915.2L442.0 913.9L443.0 912.6L444.0 911.2L445.0 909.9L446.0 908.6L447.0 907.3L448.0 905.9L449.0 904.6L450.0 903.3L451.0 902.0L452.0 900.6L453.0 899.3L454.0 898.0L455.0 896.6L456.0 895.3L457.0 894.0L458.0 892.6L459.0 891.3L460.0 890.0L461.0 888.6L462.0 887.3L463.0 886.0L464.0 884.6L465.0 883.3L466.0 882.0L467.0 880.6L468.0 879.3L469.0 877.9L470.0 876.6L471.0 875.3L472.0 873.9L473.0 872.6L474.0 871.2L475.0 869.9L476.0 868.5L477.0 867.2L478.0 865.8L479.0 864.5L480.0 863.1L481.0 861.8L482.0 860.4L483.0 859.1L484.0 857.7L485.0 856.4L486.0 855.0L487.0 853.6L488.0 852.3L489.0 850.9L490.0 849.6L491.0 848.2L492.0 846.8L493.0 845.5L494.0 844.1L495.0 842.8L496.0 841.4L497.0 840.0L498.0 838.6L499.0 837.3L500.0 835.9L501.0 834.5L502.0 833.2L503.0 831.8L504.0 830.4L505.0 829.0L506.0 827.7L507.0 826.3L508.0 824.9L509.0 823.5L510.0 822.1L511.0 820.8L512.0 819.4L513.0 818.0L514.0 816.6L515.0 815.2L516.0 813.8L517.0 812.4L518.0 811.0L519.0 809.6L520.0 808.2L521.0 806.8L522.0 805.5L523.0 804.1L524.0 802.7L525.0 801.3L526.0 799.9L527.0 798.4L528.0 797.0L529.0 795.6L530.0 794.2L531.0 792.8L532.0 791.4L533.0 790.0L534.0 788.6L535.0 787.2L536.0 785.8L537.0 784.3L538.0 782.9L539.0 781.5L540.0 780.1L541.0 778.7L542.0 777.2L543.0 775.8L544.0 774.4L545.0 773.0L546.0 771.5L547.0 770.1L548.0 768.7L549.0 767.2L550.0 765.8L551.0 764.4L552.0 762.9L553.0 761.5L554.0 760.0L555.0 758.6L556.0 757.1L557.0 755.7L558.0 754.3L559.0 752.8L560.0 751.4L561.0 749.9L562.0 748.5L563.0 747.0L564.0 745.5L565.0 744.1L566.0 742.6L567.0 741.2L568.0 739.7L569.0 738.3L570.0 736.8L571.0 735.3L572.0 733.9L573.0 732.4L574.0 730.9L575.0 729.5L576.0 728.0L577.0 726.5L578.0 725.0L579.0 723.6L580.0 722.1L581.0 720.6L582.0 719.1L583.0 717.7L584.0 716.2L585.0 714.7L586.0 713.2L587.0 711.7L588.0 710.3L589.0 708.8L590.0 707.3L591.0 705.8L592.0 704.3L593.0 702.8L594.0 701.3L595.0 699.9L596.0 698.4L597.0 696.9L598.0 695.4L599.0 693.9L600.0 692.4L601.0 690.9L602.0 689.4L603.0 687.9L604.0 686.4L605.0 684.9L606.0 683.4L607.0 681.9L608.0 680.4L609.0 678.9L610.0 677.4L611.0 675.9L612.0 674.4L613.0 672.8L614.0 671.3L615.0 669.8L616.0 668.3L617.0 666.8L618.0 665.3L619.0 663.8L620.0 662.3L621.0 660.7L622.0 659.2L623.0 657.7L624.0 656.2L625.0 654.7L626.0 653.2L627.0 651.6L628.0 650.1L629.0 648.6L630.0 647.1L631.0 645.5L632.0 644.0L633.0 642.5L634.0 641.0L635.0 639.4L636.0 637.9L637.0 636.4L638.0 634.9L639.0 633.3L640.0 631.8L641.0 630.3L642.0 628.7L643.0 627.2L644.0 625.7L645.0 624.1L646.0 622.6L647.0 621.1L648.0 619.5L649.0 618.0L650.0 616.5L651.0 614.9L652.0 613.4L653.0 611.9L654.0 610.3L655.0 608.8L656.0 607.2L657.0 605.7L658.0 604.2L659.0 602.6L660.0 601.1L661.0 599.5L662.0 598.0L663.0 596.5L664.0 594.9L665.0 593.4L666.0 591.8L667.0 590.3L668.0 588.7L669.0 587.2L670.0 585.6L671.0 584.1L672.0 582.6L673.0 581.0L674.0 579.5L675.0 577.9L676.0 576.4L677.0 574.8L678.0 573.3L679.0 571.7L680.0 570.2L681.0 568.6L682.0 567.1L683.0 565.5L684.0 564.0L685.0 562.4L686.0 560.9L687.0 559.3L688.0 557.8L689.0 556.2L690.0 554.7L691.0 553.1L692.0 551.6L693.0 550.0L694.0 548.4L695.0 546.9L696.0 545.3L697.0 543.8L698.0 542.2L699.0 540.7L700.0 539.1L701.0 537.6L702.0 536.0L703.0 534.5L704.0 532.9L705.0 531.3L706.0 529.8L707.0 528.2L708.0 526.7L709.0 525.1L710.0 523.6L711.0 522.0L712.0 520.5L713.0 518.9L714.0 517.3L715.0 515.8L716.0 514.2L717.0 512.7L718.0 511.1L719.0 509.6L720.0 508.0L721.0 506.5L722.0 504.9L723.0 503.3L724.0 501.8L725.0 500.2L726.0 498.7L727.0 497.1L728.0 495.6L729.0 494.0L730.0 492.5L731.0 490.9L732.0 489.3L733.0 487.8L734.0 486.2L735.0 484.7L736.0 483.1L737.0 481.6L738.0 480.0L739.0 478.5L740.0 476.9L741.0 475.3L742.0 473.8L743.0 472.2L744.0 470.7L745.0 469.1L746.0 467.6L747.0 466.0L748.0 464.5L749.0 462.9L750.0 461.4L751.0 459.8L752.0 458.3L753.0 456.7L754.0 455.2L755.0 453.6L756.0 452.1L757.0 450.5L758.0 449.0L759.0 447.4L760.0 445.9L761.0 444.3L762.0 442.8L763.0 441.2L764.0 439.7L765.0 438.1L766.0 436.6L767.0 435.0L768.0 433.5L769.0 432.0L770.0 430.4L771.0 428.9L772.0 427.3L773.0 425.8L774.0 424.2L775.0 422.7L776.0 421.2L777.0 419.6L778.0 418.1L779.0 416.5L780.0 415.0L781.0 413.5L782.0 411.9L783.0 410.4L784.0 408.9L785.0 407.3L786.0 405.8L787.0 404.2L788.0 402.7L789.0 401.2L790.0 399.6L791.0 398.1L792.0 396.6L793.0 395.1L794.0 393.5L795.0 392.0L796.0 390.5L797.0 388.9L798.0 387.4L799.0 385.9L800.0 384.4L801.0 382.8L802.0 381.3L803.0 379.8L804.0 378.3L805.0 376.8L806.0 375.2L807.0 373.7L808.0 372.2L809.0 370.7L810.0 369.2L811.0 367.6L812.0 366.1L813.0 364.6L814.0 363.1L815.0 361.6L816.0 360.1L817.0 358.6L818.0 357.1L819.0 355.5L820.0 354.0L821.0 352.5L822.0 351.0L823.0 349.5L824.0 348.0L825.0 346.5L826.0 345.0L827.0 343.5L828.0 342.0L829.0 340.5L830.0 339.0L831.0 337.5L832.0 336.0L833.0 334.5L834.0 333.0L835.0 331.6L836.0 330.1L837.0 328.6L838.0 327.1L839.0 325.6L840.0 324.1L841.0 322.6L842.0 321.2L843.0 319.7L844.0 318.2L845.0 316.7L846.0 315.2L847.0 313.8L848.0 312.3L849.0 310.8L850.0 309.3L851.0 307.9L852.0 306.4L853.0 304.9L854.0 303.5L855.0 302.0L856.0 300.6L857.0 299.1L858.0 297.6L859.0 296.2L860.0 294.7L861.0 292.9L862.0 291.2L863.0 289.5L864.0 287.8L865.0 286.0L866.0 284.3L867.0 282.6L868.0 280.9L869.0 279.2L870.0 277.6L871.0 275.9L872.0 274.2L873.0 272.5L874.0 270.9L875.0 269.2L876.0 267.6L877.0 265.9L878.0 264.3L879.0 262.7L880.0 261.1L881.0 259.4L882.0 257.8L883.0 256.2L884.0 254.6L885.0 253.0L886.0 251.5L887.0 249.9L888.0 248.3L889.0 246.7L890.0 245.2L891.0 243.6L892.0 242.1L893.0 240.6L894.0 239.0L895.0 237.5L896.0 236.0L897.0 234.5L898.0 233.0L899.0 231.5L900.0 230.0L901.0 228.5L902.0 227.1L903.0 225.6L904.0 224.2L905.0 222.7L906.0 221.3L907.0 219.9L908.0 218.4L909.0 217.0L910.0 215.6L911.0 214.2L912.0 212.8L913.0 211.4L914.0 210.1L915.0 208.7L916.0 207.3L917.0 206.0L918.0 204.7L919.0 203.3L920.0 202.0L921.0 200.7L922.0 199.4L923.0 198.1L924.0 196.8L925.0 195.5L926.0 194.3L927.0 193.0L928.0 191.8L929.0 190.5L930.0 189.3L931.0 188.1L932.0 186.9L933.0 185.7L934.0 184.5L935.0 183.3L936.0 182.2L937.0 181.0L938.0 179.9L939.0 178.8L940.0 177.7L941.0 176.6L942.0 175.5L943.0 174.4L944.0 173.4L945.0 172.3L946.0 171.3L947.0 170.3L948.0 169.3L949.0 168.3L950.0 167.4L951.0 166.5L952.0 165.5L953.0 164.6L954.0 163.7L955.0 162.9L956.0 162.0L957.0 161.2L958.0 160.3L959.0 159.5L960.0 158.7L961.0 158.0L962.0 157.2L963.0 156.5L964.0 155.7L965.0 155.0L966.0 154.3L967.0 153.6L968.0 153.0L969.0 152.3L970.0 151.7L971.0 151.1L972.0 150.5L973.0 149.9L974.0 149.3L975.0 148.8L976.0 148.2L977.0 147.7L978.0 147.2L979.0 146.7L980.0 146.2L981.0 145.7L982.0 145.3L983.0 144.9L984.0 144.4L985.0 144.0L986.0 143.6L987.0 143.3L988.0 142.9L989.0 142.6L990.0 142.2L991.0 141.9L992.0 141.6L993.0 141.4L994.0 141.1L995.0 140.8L996.0 140.6L997.0 140.4L998.0 140.2L999.0 140.0L1000.0 139.8L1001.0 139.7L1002.0 139.5L1003.0 139.4L1004.0 139.3L1005.0 139.2L1006.0 139.1L1007.0 139.0L1008.0 139.0L1009.0 138.9L1010.0 138.9L1011.0 138.9L1012.0 138.9L1013.0 138.9L1014.0 139.0L1015.0 139.0L1016.0 139.1L1017.0 139.2L1018.0 139.3L1019.0 139.4L1020.0 139.5L1021.0 139.7L1022.0 139.8L1023.0 140.0L1024.0 140.2L1025.0 140.4L1026.0 140.6L1027.0 140.9L1028.0 141.1L1029.0 141.4L1030.0 141.7L1031.0 142.0L1032.0 142.3L1033.0 142.6L1034.0 142.9L1035.0 143.3L1036.0 143.6L1037.0 144.0L1038.0 144.4L1039.0 144.8L1040.0 145.2L1041.0 145.6L1042.0 146.0L1043.0 146.4L1044.0 146.9L1045.0 147.3L1046.0 147.8L1047.0 148.3L1048.0 148.8L1049.0 149.3L1050.0 149.8L1051.0 150.3L1052.0 150.8L1053.0 151.4L1054.0 151.9L1055.0 152.5L1056.0 153.0L1057.0 153.6L1058.0 154.2L1059.0 154.7L1060.0 155.3L1061.0 155.9L1062.0 156.5L1063.0 157.1L1064.0 157.7L1065.0 158.4L1066.0 159.0L1067.0 159.6L1068.0 160.2L1069.0 160.9L1070.0 161.5L1071.0 162.2L1072.0 162.9L1073.0 163.5L1074.0 164.2L1075.0 164.9L1076.0 165.6L1077.0 166.2L1078.0 166.9L1079.0 167.6L1080.0 168.4L1081.0 169.1L1082.0 169.8L1083.0 170.5L1084.0 171.2L1085.0 172.0L1086.0 172.7L1087.0 173.5L1088.0 174.2L1089.0 175.0L1090.0 175.8L1091.0 176.5L1092.0 177.3L1093.0 178.1L1094.0 178.9L1095.0 179.7L1096.0 180.5L1097.0 181.3L1098.0 182.1L1099.0 182.9L1100.0 183.8L1101.0 184.6L1102.0 185.5L1103.0 186.3L1104.0 187.2L1105.0 188.0L1106.0 188.9L1107.0 189.7L1108.0 190.6L1109.0 191.5L1110.0 192.4L1111.0 193.3L1112.0 194.2L1113.0 195.1L1114.0 196.0L1115.0 196.9L1116.0 197.9L1117.0 198.8L1118.0 199.7L1119.0 200.7L1120.0 201.6L1121.0 202.6L1122.0 203.5L1123.0 204.5L1124.0 205.5L1125.0 206.5L1126.0 207.5L1127.0 208.5L1128.0 209.5L1129.0 210.5L1130.0 211.5L1131.0 212.5L1132.0 213.5L1133.0 214.5L1134.0 215.6L1135.0 216.6L1136.0 217.7L1137.0 218.7L1138.0 219.8L1139.0 220.9L1140.0 221.9L1141.0 223.0L1142.0 224.1L1143.0 225.2L1144.0 226.3L1145.0 227.4L1146.0 228.5L1147.0 229.6L1148.0 230.7L1149.0 231.9L1150.0 233.0L1151.0 234.1L1152.0 235.3L1153.0 236.4L1154.0 237.6L1155.0 238.8L1156.0 239.9L1157.0 241.1L1158.0 242.3L1159.0 243.5L1160.0 244.7L1161.0 245.9L1162.0 247.1L1163.0 248.3L1164.0 249.5L1165.0 250.7L1166.0 251.9L1167.0 253.2L1168.0 254.4L1169.0 255.6L1170.0 256.9L1171.0 258.2L1172.0 259.4L1173.0 260.7L1174.0 261.9L1175.0 263.2L1176.0 264.5L1177.0 265.8L1178.0 267.1L1179.0 268.4L1180.0 269.7L1181.0 271.0L1182.0 272.3L1183.0 273.6L1184.0 275.0L1185.0 276.3L1186.0 277.6L1187.0 279.0L1188.0 280.3L1189.0 281.7L1190.0 283.0L1191.0 284.4L1192.0 285.8L1193.0 287.1L1194.0 288.5L1195.0 289.9L1196.0 291.3L1197.0 292.7L1198.0 294.1L1199.0 295.5L1200.0 296.9L1201.0 298.1L1202.0 299.3L1203.0 300.5L1204.0 301.7L1205.0 303.0L1206.0 304.2L1207.0 305.4L1208.0 306.6L1209.0 307.9L1210.0 309.1L1211.0 310.3L1212.0 311.6L1213.0 312.8L1214.0 314.1L1215.0 315.3L1216.0 316.6L1217.0 317.8L1218.0 319.1L1219.0 320.3L1220.0 321.6L1221.0 322.8L1222.0 324.1L1223.0 325.4L1224.0 326.6L1225.0 327.9L1226.0 329.2L1227.0 330.4L1228.0 331.7L1229.0 333.0L1230.0 334.3L1231.0 335.6L1232.0 336.9L1233.0 338.2L1234.0 339.5L1235.0 340.9L1236.0 342.2L1237.0 343.5L1238.0 344.9L1239.0 346.2L1240.0 347.5L1241.0 348.9L1242.0 350.2L1243.0 351.6L1244.0 352.9L1245.0 354.3L1246.0 355.6L1247.0 357.0L1248.0 358.3L1249.0 359.7L1250.0 361.1L1251.0 362.4L1252.0 363.8L1253.0 365.2L1254.0 366.5L1255.0 367.9L1256.0 369.3L1257.0 370.7L1258.0 372.0L1259.0 373.4L1260.0 374.8L1261.0 376.2L1262.0 377.6L1263.0 379.0L1264.0 380.4L1265.0 381.7L1266.0 383.1L1267.0 384.5L1268.0 385.9L1269.0 387.3L1270.0 388.7L1271.0 390.1L1272.0 391.5L1273.0 392.9L1274.0 394.4L1275.0 395.8L1276.0 397.2L1277.0 398.6L1278.0 400.0L1279.0 401.4L1280.0 402.8L1281.0 404.3L1282.0 405.7L1283.0 407.1L1284.0 408.5L1285.0 410.0L1286.0 411.4L1287.0 412.8L1288.0 414.2L1289.0 415.7L1290.0 417.1L1291.0 418.5L1292.0 420.0L1293.0 421.4L1294.0 422.9L1295.0 424.3L1296.0 425.7L1297.0 427.2L1298.0 428.6L1299.0 430.1L1300.0 431.5L1301.0 433.0L1302.0 434.4L1303.0 435.9L1304.0 437.3L1305.0 438.8L1306.0 440.2L1307.0 441.7L1308.0 443.1L1309.0 444.6L1310.0 446.1L1311.0 447.5L1312.0 449.0L1313.0 450.4L1314.0 451.9L1315.0 453.4L1316.0 454.8L1317.0 456.3L1318.0 457.8L1319.0 459.2L1320.0 460.7L1321.0 462.2L1322.0 463.7L1323.0 465.1L1324.0 466.6L1325.0 468.1L1326.0 469.5L1327.0 471.0L1328.0 472.5L1329.0 474.0L1330.0 475.4L1331.0 476.9L1332.0 478.4L1333.0 479.9L1334.0 481.4L1335.0 482.8L1336.0 484.3L1337.0 485.8L1338.0 487.3L1339.0 488.8L1340.0 490.3L1341.0 491.7L1342.0 493.2L1343.0 494.7L1344.0 496.2L1345.0 497.7L1346.0 499.2L1347.0 500.7L1348.0 502.2L1349.0 503.7L1350.0 505.1L1351.0 506.6L1352.0 508.1L1353.0 509.6L1354.0 511.1L1355.0 512.6L1356.0 514.1L1357.0 515.6L1358.0 517.1L1359.0 518.6L1360.0 520.1L1361.0 521.6L1362.0 523.1L1363.0 524.6L1364.0 526.1L1365.0 527.6L1366.0 529.1L1367.0 530.6L1368.0 532.1L1369.0 533.6L1370.0 535.1L1371.0 536.6L1372.0 538.1L1373.0 539.6L1374.0 541.1L1375.0 542.6L1376.0 544.1L1377.0 545.6L1378.0 547.1L1379.0 548.6L1380.0 550.1L1381.0 551.6L1382.0 553.2L1383.0 554.7L1384.0 556.2L1385.0 557.7L1386.0 559.2L1387.0 560.7L1388.0 562.2L1389.0 563.7L1390.0 565.2L1391.0 566.8L1392.0 568.3L1393.0 569.8L1394.0 571.3L1395.0 572.8L1396.0 574.4L1397.0 575.9L1398.0 577.4L1399.0 578.9L1400.0 580.4L1401.0 582.0L1402.0 583.5L1403.0 585.0L1404.0 586.5L1405.0 588.1L1406.0 589.6L1407.0 591.1L1408.0 592.7L1409.0 594.2L1410.0 595.7L1411.0 597.3L1412.0 598.8L1413.0 600.4L1414.0 601.9L1415.0 603.4L1416.0 605.0L1417.0 606.5L1418.0 608.1L1419.0 609.6L1420.0 611.2L1421.0 612.7L1422.0 614.3L1423.0 615.8L1424.0 617.4L1425.0 618.9L1426.0 620.5L1427.0 622.0L1428.0 623.6L1429.0 625.2L1430.0 626.7L1431.0 628.3L1432.0 629.9L1433.0 631.4L1434.0 633.0L1435.0 634.6L1436.0 636.1L1437.0 637.7L1438.0 639.3L1439.0 640.9L1440.0 642.4L1441.0 644.0L1442.0 645.6L1443.0 647.2L1444.0 648.8L1445.0 650.4L1446.0 652.0L1447.0 653.6L1448.0 655.1L1449.0 656.7L1450.0 658.3L1451.0 659.9L1452.0 661.5L1453.0 663.2L1454.0 664.8L1455.0 666.4L1456.0 668.0L1457.0 669.6L1458.0 671.2L1459.0 672.8L1460.0 674.5L1461.0 676.1L1462.0 677.7L1463.0 679.3L1464.0 681.0L1465.0 682.6L1466.0 684.2L1467.0 685.9L1468.0 687.5L1469.0 689.1L1470.0 690.8L1471.0 692.4L1472.0 694.1L1473.0 695.7L1474.0 697.4L1475.0 699.0L1476.0 700.7L1477.0 702.3L1478.0 704.0L1479.0 705.7L1480.0 707.3L1481.0 709.0L1482.0 710.7L1483.0 712.4L1484.0 714.0L1485.0 715.7L1486.0 717.4L1487.0 719.1L1488.0 720.8L1489.0 722.5L1490.0 724.2L1491.0 725.9L1492.0 727.5L1493.0 729.2L1494.0 731.0L1495.0 732.7L1496.0 734.4L1497.0 736.1L1498.0 737.8L1499.0 739.5L1500.0 741.2L1501.0 742.9L1502.0 744.7L1503.0 746.4L1504.0 748.1L1505.0 749.8L1506.0 751.6L1507.0 753.3L1508.0 755.0L1509.0 756.8L1510.0 758.5L1511.0 760.3L1512.0 762.0L1513.0 763.7L1514.0 765.5L1515.0 767.2L1516.0 769.0L1517.0 770.7L1518.0 772.4L1519.0 774.2L1520.0 775.9L1521.0 777.7L1522.0 779.4L1523.0 781.2L1524.0 782.9L1525.0 784.6L1526.0 786.4L1527.0 788.1L1528.0 789.8L1529.0 791.6L1530.0 793.3L1531.0 795.0L1532.0 796.8L1533.0 798.5L1534.0 800.2L1535.0 802.0L1536.0 803.7L1537.0 805.4L1538.0 807.1L1539.0 808.8L1540.0 810.5L1541.0 812.2L1542.0 813.9L1543.0 815.6L1544.0 817.3L1545.0 819.0L1546.0 820.7L1547.0 822.4L1548.0 824.1L1549.0 825.7L1550.0 827.4L1551.0 829.1L1552.0 830.7L1553.0 832.4L1554.0 834.0L1555.0 835.7L1556.0 837.3L1557.0 839.0L1558.0 840.6L1559.0 842.2L1560.0 843.8L1561.0 845.4L1562.0 847.0L1563.0 848.6L1564.0 850.2L1565.0 851.8L1566.0 853.4L1567.0 855.0L1568.0 856.5L1569.0 858.1L1570.0 859.6L1571.0 861.2L1572.0 862.7L1573.0 864.2L1574.0 865.7L1575.0 867.2L1576.0 868.7L1577.0 870.2L1578.0 871.7L1579.0 873.2L1580.0 874.6L1581.0 876.1L1582.0 877.5L1583.0 879.0L1584.0 880.4L1585.0 881.8L1586.0 883.2L1587.0 884.6L1588.0 886.0L1589.0 887.3L1590.0 888.7L1591.0 890.0L1592.0 891.4L1593.0 892.7L1594.0 894.0L1595.0 895.3L1596.0 896.6L1597.0 897.9L1598.0 899.2L1599.0 900.4L1600.0 901.6L1601.0 902.8L1602.0 904.0L1603.0 905.1L1604.0 906.2L1605.0 907.2L1606.0 908.2L1607.0 909.1L1608.0 910.0L1609.0 910.8L1610.0 911.6L1611.0 912.2L1612.0 912.8L1613.0 913.3L1614.0 913.8L1615.0 914.1L1616.0 914.4L1617.0 914.5" stroke="#000" stroke-width="3.8" stroke-dasharray="14,10"/>
<path d="M248.0 1089.5L249.6 1089.5L251.2 1089.5L252.8 1089.4L254.3 1089.4L255.9 1089.3L257.5 1089.2L259.1 1089.1L260.7 1088.9L262.2 1088.5L263.8 1087.8L265.4 1086.9L267.0 1086.0L268.5 1084.2L270.0 1081.9L271.5 1079.6L273.0 1077.5L274.5 1075.5L276.0 1073.5L277.5 1071.7L279.0 1070.0L280.5 1068.3L282.0 1066.8L283.5 1065.3L285.0 1063.8L286.5 1062.4L288.0 1061.1L289.5 1059.8L291.0 1058.6L292.5 1057.4L294.0 1056.2L295.5 1055.1L297.0 1053.9L298.5 1052.8L300.0 1051.7L301.5 1050.6L303.0 1049.4L304.5 1048.3L306.0 1047.1L307.5 1045.9L309.0 1044.7L310.5 1043.4L312.0 1042.1L313.5 1040.8L315.0 1039.5L316.5 1038.0L318.0 1036.6L319.5 1035.1L321.0 1033.5L322.5 1031.9L324.0 1030.3L325.5 1028.5L327.0 1026.8L328.5 1025.0L330.0 1023.2L331.5 1021.3L333.0 1019.4L334.5 1017.5L336.0 1015.6L337.5 1013.7L339.0 1011.8L340.5 1009.8L342.0 1007.9L343.5 1005.9L345.0 1003.9L346.5 1001.9L348.0 999.9L349.5 997.9L351.0 995.9L352.5 993.9L354.0 991.8L355.5 989.8L357.0 987.8L358.5 985.7L360.0 983.6L361.5 981.6L363.0 979.5L364.5 977.4L366.0 975.3L367.5 973.3L369.0 971.2L370.5 969.1L372.0 967.0L373.5 964.9L375.0 962.8L376.5 960.7L378.0 958.6L379.5 956.5L381.0 954.4L382.5 952.3L384.0 950.2L385.5 948.1L387.0 946.0L388.5 943.9L390.0 941.8L391.5 939.8L393.0 937.7L394.5 935.6L396.0 933.5L397.5 931.5L399.0 929.4L400.5 927.3L402.0 925.3L403.5 923.2L405.0 921.2L406.5 919.1L408.0 917.1L409.5 915.1L411.0 913.0L412.5 911.0L414.0 909.0L415.5 906.9L417.0 904.9L418.5 902.9L420.0 900.9L421.5 898.9L423.0 896.8L424.5 894.8L426.0 892.8L427.5 890.8L429.0 888.8L430.5 886.8L432.0 884.8L433.5 882.8L435.0 880.8L436.5 878.8L438.0 876.8L439.5 874.8L441.0 872.8L442.5 870.8L444.0 868.9L445.5 866.9L447.0 864.9L448.5 862.9L450.0 860.9L451.5 858.9L453.0 856.9L454.5 855.0L456.0 853.0L457.5 851.0L459.0 849.0L460.5 847.0L462.0 845.1L463.5 843.1L465.0 841.1L466.5 839.1L468.0 837.2L469.5 835.2L471.0 833.2L472.5 831.2L474.0 829.2L475.5 827.3L477.0 825.3L478.5 823.3L480.0 821.3L481.5 819.3L483.0 817.4L484.5 815.4L486.0 813.4L487.5 811.4L489.0 809.4L490.5 807.4L492.0 805.5L493.5 803.5L495.0 801.5L496.5 799.5L498.0 797.5L499.5 795.5L501.0 793.5L502.5 791.5L504.0 789.5L505.5 787.5L507.0 785.5L508.5 783.5L510.0 781.5L511.5 779.5L513.0 777.5L514.5 775.5L516.0 773.4L517.5 771.4L519.0 769.4L520.5 767.4L522.0 765.3L523.5 763.3L525.0 761.3L526.5 759.2L528.0 757.2L529.5 755.2L531.0 753.1L532.5 751.1L534.0 749.0L535.5 746.9L537.0 744.9L538.5 742.8L540.0 740.8L541.5 738.7L543.0 736.6L544.5 734.5L546.0 732.4L547.5 730.4L549.0 728.3L550.5 726.2L552.0 724.1L553.5 722.0L555.0 719.9L556.5 717.7L558.0 715.6L559.5 713.5L561.0 711.4L562.5 709.2L564.0 707.1L565.5 704.9L567.0 702.8L568.5 700.6L570.0 698.5L571.5 696.3L573.0 694.2L574.5 692.0L576.0 689.8L577.5 687.6L579.0 685.4L580.5 683.2L582.0 681.0L583.5 678.8L585.0 676.6L586.5 674.4L588.0 672.2L589.5 670.0L591.0 667.7L592.5 665.5L594.0 663.3L595.5 661.0L597.0 658.8L598.5 656.5L600.0 654.3L601.5 652.0L603.0 649.8L604.5 647.5L606.0 645.3L607.5 643.0L609.0 640.7L610.5 638.4L612.0 636.2L613.5 633.9L615.0 631.6L616.5 629.3L618.0 627.0L619.5 624.7L621.0 622.4L622.5 620.1L624.0 617.8L625.5 615.5L627.0 613.2L628.5 610.9L630.0 608.6L631.5 606.3L633.0 604.0L634.5 601.6L636.0 599.3L637.5 597.0L639.0 594.7L640.5 592.4L642.0 590.0L643.5 587.7L645.0 585.4L646.5 583.0L648.0 580.7L649.5 578.4L651.0 576.0L652.5 573.7L654.0 571.4L655.5 569.0L657.0 566.7L658.5 564.4L660.0 562.0L661.5 559.7L663.0 557.3L664.5 555.0L666.0 552.6L667.5 550.3L669.0 548.0L670.5 545.6L672.0 543.3L673.5 540.9L675.0 538.6L676.5 536.2L678.0 533.9L679.5 531.6L681.0 529.2L682.5 526.9L684.0 524.5L685.5 522.2L687.0 519.8L688.5 517.5L690.0 515.2L691.5 512.8L693.0 510.5L694.5 508.2L696.0 505.8L697.5 503.5L699.0 501.2L700.5 498.8L702.0 496.5L703.5 494.2L705.0 491.8L706.5 489.5L708.0 487.2L709.5 484.9L711.0 482.5L712.5 480.2L714.0 477.9L715.5 475.6L717.0 473.3L718.5 470.9L720.0 468.6L721.5 466.3L723.0 464.0L724.5 461.7L726.0 459.4L727.5 457.0L729.0 454.7L730.5 452.4L732.0 450.1L733.5 447.8L735.0 445.5L736.5 443.2L738.0 440.8L739.5 438.5L741.0 436.2L742.5 433.9L744.0 431.6L745.5 429.3L747.0 427.0L748.5 424.7L750.0 422.3L751.5 420.0L753.0 417.7L754.5 415.4L756.0 413.1L757.5 410.8L759.0 408.4L760.5 406.1L762.0 403.8L763.5 401.5L765.0 399.2L766.5 396.9L768.0 394.5L769.5 392.2L771.0 389.9L772.5 387.6L774.0 385.2L775.5 382.9L777.0 380.6L778.5 378.3L780.0 375.9L781.5 373.6L783.0 371.3L784.5 368.9L786.0 366.6L787.5 364.2L789.0 361.9L790.5 359.6L792.0 357.2L793.5 354.9L795.0 352.5L796.5 350.2L798.0 347.8L799.5 345.5L801.0 343.1L802.5 340.8L804.0 338.4L805.5 336.0L807.0 333.7L808.5 331.3L810.0 328.9L811.5 326.6L813.0 324.2L814.5 321.8L816.0 319.4L817.5 317.1L819.0 314.7L820.5 312.3L822.0 309.9L823.5 307.5L825.0 305.1L826.5 302.7L828.0 300.3L829.5 297.9L831.0 295.5L832.5 293.1L834.0 290.7L835.5 288.3L837.0 285.9L838.5 283.5L840.0 281.1L841.5 278.7L843.0 276.3L844.5 273.9L846.0 271.5L847.5 269.1L849.0 266.7L850.5 264.4L852.0 262.0L853.5 259.7L855.0 257.4L856.5 255.0L858.0 252.7L859.5 250.4L861.0 248.1L862.5 245.8L864.0 243.6L865.5 241.3L867.0 239.1L868.5 236.9L870.0 234.7L871.5 232.5L873.0 230.4L874.5 228.2L876.0 226.1L877.5 224.0L879.0 222.0L880.5 219.9L882.0 217.9L883.5 215.9L885.0 213.9L886.5 211.9L888.0 210.0L889.5 208.1L891.0 206.2L892.5 204.4L894.0 202.6L895.5 200.8L897.0 199.0L898.5 197.3L900.0 195.6L901.5 194.0L903.0 192.4L904.5 190.8L906.0 189.2L907.5 187.6L909.0 186.1L910.5 184.6L912.0 183.2L913.5 181.7L915.0 180.3L916.5 178.9L918.0 177.6L919.5 176.2L921.0 174.9L922.5 173.6L924.0 172.3L925.5 171.0L927.0 169.8L928.5 168.6L930.0 167.4L931.5 166.2L933.0 165.0L934.5 163.8L936.0 162.7L937.5 161.5L939.0 160.4L940.5 159.3L942.0 158.2L943.5 157.1L945.0 156.1L946.5 155.0L948.0 154.0L949.5 153.0L951.0 152.0L952.5 151.0L954.0 150.1L955.5 149.2L957.0 148.3L958.5 147.4L960.0 146.6L961.5 145.8L963.0 145.0L964.5 144.3L966.0 143.6L967.5 142.9L969.0 142.3L970.5 141.7L972.0 141.2L973.5 140.7L975.0 140.2L976.5 139.8L978.0 139.5L979.5 139.2L981.0 138.9L982.5 138.7L984.0 138.5L985.5 138.4L987.0 138.4L988.5 138.4L990.0 138.5L991.5 138.6L993.0 138.8L994.5 139.1L996.0 139.4L997.5 139.8L999.0 140.2L1000.5 140.8L1002.0 141.3L1003.5 142.0L1005.0 142.7L1006.5 143.4L1008.0 144.2L1009.5 145.1L1011.0 146.0L1012.5 146.9L1014.0 147.9L1015.5 148.9L1017.0 149.9L1018.5 151.0L1020.0 152.1L1021.5 153.3L1023.0 154.4L1024.5 155.6L1026.0 156.8L1027.5 158.0L1029.0 159.3L1030.5 160.5L1032.0 161.7L1033.5 163.0L1035.0 164.3L1036.5 165.5L1038.0 166.8L1039.5 168.0L1041.0 169.3L1042.5 170.5L1044.0 171.7L1045.5 173.0L1047.0 174.1L1048.5 175.3L1050.0 176.5L1051.5 177.7L1053.0 178.8L1054.5 180.0L1056.0 181.1L1057.5 182.3L1059.0 183.4L1060.5 184.5L1062.0 185.6L1063.5 186.7L1065.0 187.8L1066.5 188.9L1068.0 190.0L1069.5 191.2L1071.0 192.3L1072.5 193.4L1074.0 194.5L1075.5 195.6L1077.0 196.7L1078.5 197.8L1080.0 198.9L1081.5 200.0L1083.0 201.1L1084.5 202.3L1086.0 203.4L1087.5 204.6L1089.0 205.7L1090.5 206.9L1092.0 208.1L1093.5 209.2L1095.0 210.4L1096.5 211.6L1098.0 212.9L1099.5 214.1L1101.0 215.4L1102.5 216.6L1104.0 217.9L1105.5 219.2L1107.0 220.5L1108.5 221.8L1110.0 223.2L1111.5 224.6L1113.0 225.9L1114.5 227.4L1116.0 228.8L1117.5 230.2L1119.0 231.7L1120.5 233.2L1122.0 234.8L1123.5 236.3L1125.0 237.9L1126.5 239.5L1128.0 241.1L1129.5 242.7L1131.0 244.4L1132.5 246.0L1134.0 247.7L1135.5 249.4L1137.0 251.2L1138.5 252.9L1140.0 254.6L1141.5 256.4L1143.0 258.2L1144.5 260.0L1146.0 261.8L1147.5 263.6L1149.0 265.5L1150.5 267.3L1152.0 269.2L1153.5 271.0L1155.0 272.9L1156.5 274.8L1158.0 276.7L1159.5 278.6L1161.0 280.5L1162.5 282.4L1164.0 284.3L1165.5 286.2L1167.0 288.1L1168.5 290.0L1170.0 292.0L1171.5 293.9L1173.0 295.8L1174.5 297.7L1176.0 299.7L1177.5 301.6L1179.0 303.5L1180.5 305.4L1182.0 307.4L1183.5 309.3L1185.0 311.2L1186.5 313.1L1188.0 315.0L1189.5 317.0L1191.0 318.9L1192.5 320.8L1194.0 322.7L1195.5 324.6L1197.0 326.5L1198.5 328.5L1200.0 330.4L1201.5 332.3L1203.0 334.2L1204.5 336.2L1206.0 338.1L1207.5 340.0L1209.0 341.9L1210.5 343.9L1212.0 345.8L1213.5 347.7L1215.0 349.7L1216.5 351.6L1218.0 353.5L1219.5 355.5L1221.0 357.4L1222.5 359.4L1224.0 361.3L1225.5 363.3L1227.0 365.2L1228.5 367.2L1230.0 369.1L1231.5 371.1L1233.0 373.1L1234.5 375.0L1236.0 377.0L1237.5 379.0L1239.0 381.0L1240.5 383.0L1242.0 385.0L1243.5 387.0L1245.0 389.0L1246.5 391.0L1248.0 393.0L1249.5 395.0L1251.0 397.0L1252.5 399.0L1254.0 401.1L1255.5 403.1L1257.0 405.2L1258.5 407.2L1260.0 409.3L1261.5 411.3L1263.0 413.4L1264.5 415.5L1266.0 417.5L1267.5 419.6L1269.0 421.7L1270.5 423.8L1272.0 425.9L1273.5 428.1L1275.0 430.2L1276.5 432.3L1278.0 434.5L1279.5 436.6L1281.0 438.8L1282.5 440.9L1284.0 443.1L1285.5 445.3L1287.0 447.5L1288.5 449.7L1290.0 451.9L1291.5 454.1L1293.0 456.3L1294.5 458.5L1296.0 460.8L1297.5 463.0L1299.0 465.3L1300.5 467.5L1302.0 469.8L1303.5 472.1L1305.0 474.4L1306.5 476.6L1308.0 478.9L1309.5 481.2L1311.0 483.5L1312.5 485.9L1314.0 488.2L1315.5 490.5L1317.0 492.8L1318.5 495.1L1320.0 497.5L1321.5 499.8L1323.0 502.2L1324.5 504.5L1326.0 506.8L1327.5 509.2L1329.0 511.5L1330.5 513.9L1332.0 516.3L1333.5 518.6L1335.0 521.0L1336.5 523.3L1338.0 525.7L1339.5 528.1L1341.0 530.4L1342.5 532.8L1344.0 535.2L1345.5 537.5L1347.0 539.9L1348.5 542.3L1350.0 544.6L1351.5 547.0L1353.0 549.4L1354.5 551.7L1356.0 554.1L1357.5 556.5L1359.0 558.8L1360.5 561.2L1362.0 563.5L1363.5 565.9L1365.0 568.2L1366.5 570.6L1368.0 573.0L1369.5 575.3L1371.0 577.7L1372.5 580.0L1374.0 582.4L1375.5 584.7L1377.0 587.0L1378.5 589.4L1380.0 591.7L1381.5 594.1L1383.0 596.4L1384.5 598.8L1386.0 601.1L1387.5 603.5L1389.0 605.8L1390.5 608.2L1392.0 610.5L1393.5 612.8L1395.0 615.2L1396.5 617.5L1398.0 619.9L1399.5 622.2L1401.0 624.6L1402.5 626.9L1404.0 629.3L1405.5 631.6L1407.0 634.0L1408.5 636.3L1410.0 638.6L1411.5 641.0L1413.0 643.3L1414.5 645.7L1416.0 648.0L1417.5 650.4L1419.0 652.7L1420.5 655.1L1422.0 657.5L1423.5 659.8L1425.0 662.2L1426.5 664.5L1428.0 666.9L1429.5 669.2L1431.0 671.6L1432.5 674.0L1434.0 676.3L1435.5 678.7L1437.0 681.1L1438.5 683.4L1440.0 685.8L1441.5 688.2L1443.0 690.5L1444.5 692.9L1446.0 695.3L1447.5 697.7L1449.0 700.0L1450.5 702.4L1452.0 704.8L1453.5 707.2L1455.0 709.6L1456.5 712.0L1458.0 714.4L1459.5 716.8L1461.0 719.2L1462.5 721.6L1464.0 724.0L1465.5 726.4L1467.0 728.8L1468.5 731.2L1470.0 733.6L1471.5 736.0L1473.0 738.4L1474.5 740.8L1476.0 743.3L1477.5 745.7L1479.0 748.1L1480.5 750.6L1482.0 753.0L1483.5 755.4L1485.0 757.9L1486.5 760.3L1488.0 762.8L1489.5 765.2L1491.0 767.7L1492.5 770.1L1494.0 772.6L1495.5 775.0L1497.0 777.5L1498.5 779.9L1500.0 782.4L1501.5 784.9L1503.0 787.3L1504.5 789.8L1506.0 792.2L1507.5 794.7L1509.0 797.2L1510.5 799.6L1512.0 802.1L1513.5 804.6L1515.0 807.0L1516.5 809.5L1518.0 812.0L1519.5 814.5L1521.0 816.9L1522.5 819.4L1524.0 821.8L1525.5 824.3L1527.0 826.8L1528.5 829.2L1530.0 831.7L1531.5 834.2L1533.0 836.6L1534.5 839.1L1536.0 841.5L1537.5 844.0L1539.0 846.4L1540.5 848.9L1542.0 851.3L1543.5 853.8L1545.0 856.2L1546.5 858.6L1548.0 861.1L1549.5 863.5L1551.0 865.9L1552.5 868.3L1554.0 870.8L1555.5 873.2L1557.0 875.6L1558.5 878.0L1560.0 880.4L1561.5 882.8L1563.0 885.2L1564.5 887.6L1566.0 890.0L1567.5 892.4L1569.0 894.7L1570.5 897.1L1572.0 899.5L1573.5 901.8L1575.0 904.2L1576.5 906.6L1578.0 908.9L1579.5 911.2L1581.0 913.6L1582.5 915.9L1584.0 918.2L1585.5 920.5L1587.0 922.8L1588.5 925.1L1590.0 927.4L1591.5 928.5L1593.0 929.6L1594.5 930.2L1596.0 930.3L1597.5 930.1L1599.0 929.6L1600.5 928.8L1602.0 927.7L1603.5 926.4L1605.0 925.0L1606.5 923.5L1608.0 921.9L1609.5 920.2L1611.0 918.6L1612.5 917.0L1614.0 915.5L1615.5 914.2L1617.0 913.0" stroke="#2a2aff" stroke-width="3.6" stroke-dasharray="13,14"/>
<path d="M248.0 1089.5L249.0 1089.5L250.0 1089.5L251.0 1089.5L252.0 1089.5L253.0 1089.5L254.0 1089.5L255.0 1089.4L256.0 1089.4L257.0 1089.4L258.0 1089.4L259.0 1089.3L260.0 1089.2L261.0 1089.0L262.0 1088.8L263.0 1088.5L264.0 1088.2L265.0 1086.5L266.0 1084.9L267.0 1083.3L268.0 1081.5L269.0 1079.7L270.0 1077.7L271.0 1075.8L272.0 1073.9L273.0 1072.1L274.0 1070.2L275.0 1068.4L276.0 1066.6L277.0 1064.9L278.0 1063.1L279.0 1061.5L280.0 1059.8L281.0 1058.2L282.0 1056.7L283.0 1055.2L284.0 1053.8L285.0 1052.4L286.0 1051.1L287.0 1049.9L288.0 1048.7L289.0 1047.6L290.0 1046.6L291.0 1045.7L292.0 1044.8L293.0 1044.0L294.0 1043.4L295.0 1042.7L296.0 1041.9L297.0 1041.2L298.0 1040.4L299.0 1039.7L300.0 1038.9L301.0 1038.1L302.0 1037.2L303.0 1036.4L304.0 1035.5L305.0 1034.7L306.0 1033.8L307.0 1033.4L308.0 1032.7L309.0 1031.9L310.0 1031.0L311.0 1030.1L312.0 1029.2L313.0 1028.2L314.0 1027.2L315.0 1026.2L316.0 1025.1L317.0 1024.1L318.0 1023.0L319.0 1021.8L320.0 1020.6L321.0 1019.5L322.0 1018.2L323.0 1017.0L324.0 1015.7L325.0 1014.5L326.0 1013.2L327.0 1011.8L328.0 1010.5L329.0 1009.1L330.0 1007.8L331.0 1006.4L332.0 1005.0L333.0 1003.6L334.0 1002.2L335.0 1000.8L336.0 999.3L337.0 997.9L338.0 996.5L339.0 995.0L340.0 993.5L341.0 992.1L342.0 990.6L343.0 989.1L344.0 987.6L345.0 986.1L346.0 984.6L347.0 983.1L348.0 981.6L349.0 980.1L350.0 978.6L351.0 977.1L352.0 975.6L353.0 974.0L354.0 972.5L355.0 971.0L356.0 969.5L357.0 967.9L358.0 966.4L359.0 964.9L360.0 963.3L361.0 961.8L362.0 960.3L363.0 958.8L364.0 957.2L365.0 955.7L366.0 954.2L367.0 952.7L368.0 951.2L369.0 949.7L370.0 948.2L371.0 946.7L372.0 945.2L373.0 943.7L374.0 942.2L375.0 940.8L376.0 939.3L377.0 937.8L378.0 936.4L379.0 934.9L380.0 933.4L381.0 932.0L382.0 930.5L383.0 929.1L384.0 927.7L385.0 926.2L386.0 924.8L387.0 923.4L388.0 921.9L389.0 920.5L390.0 919.1L391.0 917.7L392.0 916.3L393.0 914.9L394.0 913.5L395.0 912.1L396.0 910.7L397.0 909.3L398.0 907.9L399.0 906.5L400.0 905.1L401.0 903.8L402.0 902.4L403.0 901.0L404.0 899.6L405.0 898.3L406.0 896.9L407.0 895.6L408.0 894.2L409.0 892.8L410.0 891.5L411.0 890.1L412.0 888.8L413.0 887.4L414.0 886.1L415.0 884.7L416.0 883.4L417.0 882.0L418.0 880.7L419.0 879.4L420.0 878.0L421.0 876.7L422.0 875.4L423.0 874.0L424.0 872.7L425.0 871.4L426.0 870.0L427.0 868.7L428.0 867.4L429.0 866.0L430.0 864.7L431.0 863.4L432.0 862.1L433.0 860.7L434.0 859.4L435.0 858.1L436.0 856.7L437.0 855.4L438.0 854.1L439.0 852.8L440.0 851.4L441.0 850.1L442.0 848.8L443.0 847.4L444.0 846.1L445.0 844.8L446.0 843.5L447.0 842.1L448.0 840.8L449.0 839.5L450.0 838.1L451.0 836.8L452.0 835.4L453.0 834.1L454.0 832.8L455.0 831.4L456.0 830.1L457.0 828.7L458.0 827.4L459.0 826.0L460.0 824.7L461.0 823.3L462.0 822.0L463.0 820.6L464.0 819.3L465.0 817.9L466.0 816.5L467.0 815.2L468.0 813.8L469.0 812.5L470.0 811.1L471.0 809.7L472.0 808.4L473.0 807.0L474.0 805.6L475.0 804.3L476.0 802.9L477.0 801.5L478.0 800.1L479.0 798.8L480.0 797.4L481.0 796.0L482.0 794.6L483.0 793.2L484.0 791.9L485.0 790.5L486.0 789.1L487.0 787.7L488.0 786.3L489.0 784.9L490.0 783.5L491.0 782.1L492.0 780.7L493.0 779.4L494.0 778.0L495.0 776.6L496.0 775.2L497.0 773.8L498.0 772.4L499.0 770.9L500.0 769.5L501.0 768.1L502.0 766.7L503.0 765.3L504.0 763.9L505.0 762.5L506.0 761.1L507.0 759.7L508.0 758.3L509.0 756.8L510.0 755.4L511.0 754.0L512.0 752.6L513.0 751.1L514.0 749.7L515.0 748.3L516.0 746.9L517.0 745.4L518.0 744.0L519.0 742.6L520.0 741.1L521.0 739.7L522.0 738.3L523.0 736.8L524.0 735.4L525.0 734.0L526.0 732.5L527.0 731.1L528.0 729.6L529.0 728.2L530.0 726.7L531.0 725.3L532.0 723.8L533.0 722.4L534.0 720.9L535.0 719.5L536.0 718.0L537.0 716.6L538.0 715.1L539.0 713.7L540.0 712.2L541.0 710.7L542.0 709.3L543.0 707.8L544.0 706.3L545.0 704.9L546.0 703.4L547.0 701.9L548.0 700.5L549.0 699.0L550.0 697.5L551.0 696.0L552.0 694.6L553.0 693.1L554.0 691.6L555.0 690.1L556.0 688.6L557.0 687.1L558.0 685.7L559.0 684.2L560.0 682.7L561.0 681.2L562.0 679.7L563.0 678.2L564.0 676.7L565.0 675.2L566.0 673.7L567.0 672.2L568.0 670.7L569.0 669.2L570.0 667.7L571.0 666.2L572.0 664.7L573.0 663.2L574.0 661.7L575.0 660.2L576.0 658.7L577.0 657.2L578.0 655.6L579.0 654.1L580.0 652.6L581.0 651.1L582.0 649.6L583.0 648.1L584.0 646.5L585.0 645.0L586.0 643.5L587.0 642.0L588.0 640.4L589.0 638.9L590.0 637.4L591.0 635.9L592.0 634.3L593.0 632.8L594.0 631.3L595.0 629.7L596.0 628.2L597.0 626.7L598.0 625.1L599.0 623.6L600.0 622.0L601.0 620.5L602.0 619.0L603.0 617.4L604.0 615.9L605.0 614.3L606.0 612.8L607.0 611.3L608.0 609.7L609.0 608.2L610.0 606.6L611.0 605.1L612.0 603.5L613.0 602.0L614.0 600.4L615.0 598.9L616.0 597.3L617.0 595.8L618.0 594.2L619.0 592.7L620.0 591.1L621.0 589.5L622.0 588.0L623.0 586.4L624.0 584.9L625.0 583.3L626.0 581.8L627.0 580.2L628.0 578.6L629.0 577.1L630.0 575.5L631.0 574.0L632.0 572.4L633.0 570.8L634.0 569.3L635.0 567.7L636.0 566.2L637.0 564.6L638.0 563.0L639.0 561.5L640.0 559.9L641.0 558.3L642.0 556.8L643.0 555.2L644.0 553.6L645.0 552.1L646.0 550.5L647.0 548.9L648.0 547.4L649.0 545.8L650.0 544.2L651.0 542.7L652.0 541.1L653.0 539.5L654.0 538.0L655.0 536.4L656.0 534.8L657.0 533.3L658.0 531.7L659.0 530.1L660.0 528.5L661.0 527.0L662.0 525.4L663.0 523.8L664.0 522.3L665.0 520.7L666.0 519.1L667.0 517.6L668.0 516.0L669.0 514.4L670.0 512.8L671.0 511.3L672.0 509.7L673.0 508.1L674.0 506.6L675.0 505.0L676.0 503.4L677.0 501.9L678.0 500.3L679.0 498.7L680.0 497.2L681.0 495.6L682.0 494.0L683.0 492.5L684.0 490.9L685.0 489.3L686.0 487.8L687.0 486.2L688.0 484.6L689.0 483.1L690.0 481.5L691.0 479.9L692.0 478.4L693.0 476.8L694.0 475.2L695.0 473.7L696.0 472.1L697.0 470.5L698.0 469.0L699.0 467.4L700.0 465.9L701.0 464.3L702.0 462.7L703.0 461.2L704.0 459.6L705.0 458.0L706.0 456.5L707.0 454.9L708.0 453.4L709.0 451.8L710.0 450.3L711.0 448.7L712.0 447.1L713.0 445.6L714.0 444.0L715.0 442.5L716.0 440.9L717.0 439.4L718.0 437.8L719.0 436.2L720.0 434.7L721.0 433.1L722.0 431.6L723.0 430.0L724.0 428.5L725.0 426.9L726.0 425.4L727.0 423.8L728.0 422.3L729.0 420.7L730.0 419.2L731.0 417.6L732.0 416.1L733.0 414.5L734.0 413.0L735.0 411.4L736.0 409.9L737.0 408.3L738.0 406.8L739.0 405.2L740.0 403.7L741.0 402.2L742.0 400.6L743.0 399.1L744.0 397.5L745.0 396.0L746.0 394.4L747.0 392.9L748.0 391.3L749.0 389.8L750.0 388.3L751.0 386.7L752.0 385.2L753.0 383.6L754.0 382.1L755.0 380.6L756.0 379.0L757.0 377.5L758.0 375.9L759.0 374.4L760.0 372.9L761.0 371.3L762.0 369.8L763.0 368.3L764.0 366.7L765.0 365.2L766.0 363.6L767.0 362.1L768.0 360.6L769.0 359.0L770.0 357.5L771.0 356.0L772.0 354.4L773.0 352.9L774.0 351.4L775.0 349.8L776.0 348.3L777.0 346.8L778.0 345.2L779.0 343.7L780.0 342.2L781.0 340.7L782.0 339.1L783.0 337.6L784.0 336.1L785.0 334.5L786.0 333.0L787.0 331.5L788.0 330.0L789.0 328.4L790.0 326.9L791.0 325.4L792.0 323.9L793.0 322.3L794.0 320.8L795.0 319.3L796.0 317.8L797.0 316.2L798.0 314.7L799.0 313.2L800.0 311.7L801.0 310.1L802.0 308.6L803.0 307.1L804.0 305.6L805.0 304.0L806.0 302.5L807.0 301.0L808.0 299.5L809.0 298.0L810.0 296.4L811.0 294.9L812.0 293.4L813.0 291.9L814.0 290.4L815.0 288.9L816.0 287.3L817.0 285.8L818.0 284.3L819.0 282.8L820.0 281.3L821.0 279.8L822.0 278.2L823.0 276.7L824.0 275.2L825.0 273.7L826.0 272.2L827.0 270.7L828.0 269.2L829.0 267.6L830.0 266.1L831.0 264.6L832.0 263.1L833.0 261.6L834.0 260.1L835.0 258.6L836.0 257.1L837.0 255.6L838.0 254.1L839.0 252.6L840.0 251.1L841.0 249.6L842.0 248.1L843.0 246.6L844.0 245.1L845.0 243.6L846.0 242.1L847.0 240.6L848.0 239.1L849.0 237.6L850.0 236.1L851.0 234.6L852.0 233.1L853.0 231.7L854.0 230.2L855.0 228.7L856.0 227.2L857.0 225.8L858.0 224.3L859.0 222.8L860.0 221.4L861.0 219.9L862.0 218.5L863.0 217.0L864.0 215.6L865.0 214.1L866.0 212.7L867.0 211.2L868.0 209.8L869.0 208.3L870.0 206.9L871.0 205.5L872.0 204.1L873.0 202.6L874.0 201.2L875.0 199.8L876.0 198.4L877.0 197.0L878.0 195.6L879.0 194.2L880.0 192.8L881.0 191.4L882.0 190.0L883.0 188.7L884.0 187.3L885.0 185.9L886.0 184.6L887.0 183.2L888.0 181.9L889.0 180.5L890.0 179.2L891.0 177.9L892.0 176.6L893.0 175.3L894.0 174.0L895.0 172.7L896.0 171.5L897.0 170.2L898.0 169.0L899.0 167.8L900.0 166.6L901.0 165.4L902.0 164.2L903.0 163.1L904.0 162.0L905.0 160.9L906.0 159.8L907.0 158.7L908.0 157.7L909.0 156.7L910.0 155.7L911.0 154.7L912.0 153.8L913.0 152.8L914.0 151.9L915.0 151.1L916.0 150.2L917.0 149.4L918.0 148.6L919.0 147.8L920.0 147.1L921.0 146.4L922.0 145.6L923.0 145.0L924.0 144.3L925.0 143.6L926.0 143.0L927.0 142.4L928.0 141.8L929.0 141.2L930.0 140.6L931.0 140.1L932.0 139.5L933.0 139.0L934.0 138.5L935.0 137.9L936.0 137.4L937.0 136.9L938.0 136.4L939.0 135.9L940.0 135.5L941.0 135.0L942.0 134.5L943.0 134.0L944.0 133.6L945.0 133.1L946.0 132.5L947.0 132.1L948.0 131.9L949.0 131.7L950.0 131.5L951.0 131.3L952.0 131.0L953.0 130.8L954.0 130.6L955.0 130.4L956.0 130.3L957.0 130.1L958.0 129.9L959.0 129.7L960.0 129.5L961.0 129.4L962.0 129.2L963.0 129.0L964.0 128.9L965.0 128.7L966.0 128.6L967.0 128.4L968.0 128.3L969.0 128.2L970.0 128.0L971.0 127.9L972.0 127.8L973.0 127.7L974.0 127.6L975.0 127.5L976.0 127.4L977.0 127.3L978.0 127.2L979.0 127.2L980.0 127.1L981.0 127.1L982.0 127.0L983.0 127.0L984.0 127.0L985.0 126.9L986.0 126.9L987.0 126.9L988.0 126.9L989.0 126.9L990.0 126.9L991.0 127.9L992.0 128.9L993.0 130.1L994.0 131.2L995.0 132.4L996.0 133.5L997.0 134.6L998.0 135.7L999.0 136.8L1000.0 137.8L1001.0 138.9L1002.0 139.9L1003.0 141.0L1004.0 142.0L1005.0 143.0L1006.0 144.0L1007.0 145.0L1008.0 146.0L1009.0 147.0L1010.0 147.9L1011.0 148.9L1012.0 149.9L1013.0 150.8L1014.0 151.7L1015.0 152.7L1016.0 153.6L1017.0 154.5L1018.0 155.5L1019.0 156.4L1020.0 157.3L1021.0 158.2L1022.0 159.1L1023.0 160.0L1024.0 160.9L1025.0 161.8L1026.0 162.7L1027.0 163.6L1028.0 164.5L1029.0 165.4L1030.0 166.3L1031.0 167.2L1032.0 168.1L1033.0 169.0L1034.0 169.9L1035.0 170.8L1036.0 171.7L1037.0 172.6L1038.0 173.5L1039.0 174.4L1040.0 175.3L1041.0 176.2L1042.0 177.2L1043.0 178.1L1044.0 179.0L1045.0 179.9L1046.0 180.8L1047.0 181.8L1048.0 182.7L1049.0 183.6L1050.0 184.5L1051.0 185.5L1052.0 186.4L1053.0 187.3L1054.0 188.3L1055.0 189.2L1056.0 190.1L1057.0 191.1L1058.0 192.0L1059.0 192.9L1060.0 193.9L1061.0 194.8L1062.0 195.8L1063.0 196.7L1064.0 197.7L1065.0 198.6L1066.0 199.6L1067.0 200.5L1068.0 201.5L1069.0 202.5L1070.0 203.4L1071.0 204.4L1072.0 205.4L1073.0 206.3L1074.0 207.3L1075.0 208.3L1076.0 209.3L1077.0 210.3L1078.0 211.3L1079.0 212.2L1080.0 213.2L1081.0 214.2L1082.0 215.2L1083.0 216.2L1084.0 217.2L1085.0 218.3L1086.0 219.3L1087.0 220.3L1088.0 221.3L1089.0 222.3L1090.0 223.4L1091.0 224.4L1092.0 225.4L1093.0 226.5L1094.0 227.5L1095.0 228.6L1096.0 229.6L1097.0 230.7L1098.0 231.7L1099.0 232.8L1100.0 233.8L1101.0 234.9L1102.0 236.0L1103.0 237.1L1104.0 238.1L1105.0 239.2L1106.0 240.3L1107.0 241.4L1108.0 242.5L1109.0 243.6L1110.0 244.7L1111.0 245.9L1112.0 247.0L1113.0 248.1L1114.0 249.2L1115.0 250.4L1116.0 251.5L1117.0 252.7L1118.0 253.8L1119.0 255.0L1120.0 256.1L1121.0 257.3L1122.0 258.5L1123.0 259.6L1124.0 260.8L1125.0 262.0L1126.0 263.2L1127.0 264.4L1128.0 265.6L1129.0 266.8L1130.0 268.0L1131.0 269.2L1132.0 270.5L1133.0 271.7L1134.0 272.9L1135.0 274.1L1136.0 275.4L1137.0 276.6L1138.0 277.8L1139.0 279.1L1140.0 280.3L1141.0 281.6L1142.0 282.9L1143.0 284.1L1144.0 285.4L1145.0 286.7L1146.0 287.9L1147.0 289.2L1148.0 290.5L1149.0 291.8L1150.0 293.0L1151.0 294.3L1152.0 295.6L1153.0 296.9L1154.0 298.2L1155.0 299.5L1156.0 300.8L1157.0 302.1L1158.0 303.4L1159.0 304.7L1160.0 306.0L1161.0 307.3L1162.0 308.7L1163.0 310.0L1164.0 311.3L1165.0 312.6L1166.0 313.9L1167.0 315.3L1168.0 316.6L1169.0 317.9L1170.0 319.2L1171.0 320.6L1172.0 321.9L1173.0 323.2L1174.0 324.6L1175.0 325.9L1176.0 327.2L1177.0 328.6L1178.0 329.9L1179.0 331.2L1180.0 332.6L1181.0 333.9L1182.0 335.3L1183.0 336.6L1184.0 337.9L1185.0 339.3L1186.0 340.6L1187.0 342.0L1188.0 343.3L1189.0 344.7L1190.0 346.0L1191.0 347.4L1192.0 348.7L1193.0 350.1L1194.0 351.4L1195.0 352.8L1196.0 354.1L1197.0 355.5L1198.0 356.8L1199.0 358.2L1200.0 359.5L1201.0 360.9L1202.0 362.2L1203.0 363.6L1204.0 365.0L1205.0 366.3L1206.0 367.7L1207.0 369.1L1208.0 370.4L1209.0 371.8L1210.0 373.2L1211.0 374.5L1212.0 375.9L1213.0 377.3L1214.0 378.6L1215.0 380.0L1216.0 381.4L1217.0 382.8L1218.0 384.1L1219.0 385.5L1220.0 386.9L1221.0 388.3L1222.0 389.6L1223.0 391.0L1224.0 392.4L1225.0 393.8L1226.0 395.2L1227.0 396.6L1228.0 398.0L1229.0 399.4L1230.0 400.7L1231.0 402.1L1232.0 403.5L1233.0 404.9L1234.0 406.3L1235.0 407.7L1236.0 409.1L1237.0 410.5L1238.0 411.9L1239.0 413.3L1240.0 414.7L1241.0 416.2L1242.0 417.6L1243.0 419.0L1244.0 420.4L1245.0 421.8L1246.0 423.2L1247.0 424.6L1248.0 426.0L1249.0 427.5L1250.0 428.9L1251.0 430.3L1252.0 431.7L1253.0 433.2L1254.0 434.6L1255.0 436.0L1256.0 437.4L1257.0 438.9L1258.0 440.3L1259.0 441.7L1260.0 443.2L1261.0 444.6L1262.0 446.1L1263.0 447.5L1264.0 448.9L1265.0 450.4L1266.0 451.8L1267.0 453.3L1268.0 454.7L1269.0 456.2L1270.0 457.6L1271.0 459.1L1272.0 460.6L1273.0 462.0L1274.0 463.5L1275.0 464.9L1276.0 466.4L1277.0 467.9L1278.0 469.3L1279.0 470.8L1280.0 472.3L1281.0 473.8L1282.0 475.2L1283.0 476.7L1284.0 478.2L1285.0 479.7L1286.0 481.2L1287.0 482.6L1288.0 484.1L1289.0 485.6L1290.0 487.1L1291.0 488.6L1292.0 490.1L1293.0 491.6L1294.0 493.1L1295.0 494.6L1296.0 496.1L1297.0 497.6L1298.0 499.1L1299.0 500.6L1300.0 502.1L1301.0 503.6L1302.0 505.2L1303.0 506.7L1304.0 508.2L1305.0 509.7L1306.0 511.2L1307.0 512.8L1308.0 514.3L1309.0 515.8L1310.0 517.3L1311.0 518.9L1312.0 520.4L1313.0 521.9L1314.0 523.4L1315.0 525.0L1316.0 526.5L1317.0 528.1L1318.0 529.6L1319.0 531.1L1320.0 532.7L1321.0 534.2L1322.0 535.8L1323.0 537.3L1324.0 538.8L1325.0 540.4L1326.0 541.9L1327.0 543.5L1328.0 545.0L1329.0 546.6L1330.0 548.1L1331.0 549.7L1332.0 551.2L1333.0 552.8L1334.0 554.3L1335.0 555.9L1336.0 557.5L1337.0 559.0L1338.0 560.6L1339.0 562.1L1340.0 563.7L1341.0 565.2L1342.0 566.8L1343.0 568.4L1344.0 569.9L1345.0 571.5L1346.0 573.1L1347.0 574.6L1348.0 576.2L1349.0 577.7L1350.0 579.3L1351.0 580.9L1352.0 582.4L1353.0 584.0L1354.0 585.6L1355.0 587.1L1356.0 588.7L1357.0 590.3L1358.0 591.9L1359.0 593.4L1360.0 595.0L1361.0 596.6L1362.0 598.1L1363.0 599.7L1364.0 601.3L1365.0 602.8L1366.0 604.4L1367.0 606.0L1368.0 607.6L1369.0 609.1L1370.0 610.7L1371.0 612.3L1372.0 613.9L1373.0 615.4L1374.0 617.0L1375.0 618.6L1376.0 620.2L1377.0 621.7L1378.0 623.3L1379.0 624.9L1380.0 626.5L1381.0 628.1L1382.0 629.6L1383.0 631.2L1384.0 632.8L1385.0 634.4L1386.0 636.0L1387.0 637.5L1388.0 639.1L1389.0 640.7L1390.0 642.3L1391.0 643.9L1392.0 645.4L1393.0 647.0L1394.0 648.6L1395.0 650.2L1396.0 651.8L1397.0 653.4L1398.0 655.0L1399.0 656.6L1400.0 658.1L1401.0 659.7L1402.0 661.3L1403.0 662.9L1404.0 664.5L1405.0 666.1L1406.0 667.7L1407.0 669.3L1408.0 670.9L1409.0 672.5L1410.0 674.0L1411.0 675.6L1412.0 677.2L1413.0 678.8L1414.0 680.4L1415.0 682.0L1416.0 683.6L1417.0 685.2L1418.0 686.8L1419.0 688.4L1420.0 690.0L1421.0 691.6L1422.0 693.2L1423.0 694.8L1424.0 696.4L1425.0 698.0L1426.0 699.6L1427.0 701.2L1428.0 702.8L1429.0 704.4L1430.0 706.0L1431.0 707.6L1432.0 709.2L1433.0 710.9L1434.0 712.5L1435.0 714.1L1436.0 715.7L1437.0 717.3L1438.0 718.9L1439.0 720.5L1440.0 722.1L1441.0 723.7L1442.0 725.3L1443.0 727.0L1444.0 728.6L1445.0 730.2L1446.0 731.8L1447.0 733.4L1448.0 735.0L1449.0 736.7L1450.0 738.3L1451.0 739.9L1452.0 741.5L1453.0 743.1L1454.0 744.7L1455.0 746.4L1456.0 748.0L1457.0 749.6L1458.0 751.2L1459.0 752.9L1460.0 754.5L1461.0 756.1L1462.0 757.7L1463.0 759.4L1464.0 761.0L1465.0 762.6L1466.0 764.2L1467.0 765.9L1468.0 767.5L1469.0 769.1L1470.0 770.8L1471.0 772.4L1472.0 774.0L1473.0 775.7L1474.0 777.3L1475.0 778.9L1476.0 780.6L1477.0 782.2L1478.0 783.8L1479.0 785.5L1480.0 787.1L1481.0 788.8L1482.0 790.4L1483.0 792.0L1484.0 793.7L1485.0 795.3L1486.0 797.0L1487.0 798.6L1488.0 800.3L1489.0 801.9L1490.0 803.5L1491.0 805.2L1492.0 806.8L1493.0 808.5L1494.0 810.1L1495.0 811.8L1496.0 813.4L1497.0 815.1L1498.0 816.7L1499.0 818.4L1500.0 820.0L1501.0 821.7L1502.0 823.3L1503.0 825.0L1504.0 826.6L1505.0 828.3L1506.0 830.0L1507.0 831.6L1508.0 833.3L1509.0 834.9L1510.0 836.6L1511.0 838.2L1512.0 839.9L1513.0 841.5L1514.0 843.2L1515.0 844.8L1516.0 846.5L1517.0 848.2L1518.0 849.8L1519.0 851.5L1520.0 853.1L1521.0 854.8L1522.0 856.4L1523.0 858.1L1524.0 859.8L1525.0 861.4L1526.0 863.1L1527.0 864.7L1528.0 866.4L1529.0 868.1L1530.0 869.7L1531.0 871.4L1532.0 873.0L1533.0 874.7L1534.0 876.3L1535.0 878.0L1536.0 879.7L1537.0 881.3L1538.0 883.0L1539.0 884.6L1540.0 886.3L1541.0 887.9L1542.0 889.6L1543.0 891.3L1544.0 892.9L1545.0 894.6L1546.0 896.2L1547.0 897.9L1548.0 899.5L1549.0 901.2L1550.0 902.9L1551.0 904.5L1552.0 906.2L1553.0 907.8L1554.0 909.5L1555.0 911.1L1556.0 912.8L1557.0 914.4L1558.0 916.1L1559.0 917.7L1560.0 919.4L1561.0 921.0L1562.0 922.7L1563.0 924.3L1564.0 926.0L1565.0 927.6L1566.0 929.3L1567.0 930.9L1568.0 932.6L1569.0 934.2L1570.0 935.9L1571.0 937.5L1572.0 939.2L1573.0 940.8L1574.0 942.5L1575.0 944.1L1576.0 945.7L1577.0 947.4L1578.0 949.0L1579.0 950.7L1580.0 952.3L1581.0 953.9L1582.0 955.6L1583.0 957.2L1584.0 958.9L1585.0 960.5L1586.0 962.1L1587.0 963.8L1588.0 965.4L1589.0 967.0L1590.0 968.7L1591.0 970.0L1592.0 971.4L1593.0 971.9L1594.0 971.9L1595.0 971.4L1596.0 970.8L1597.0 970.2L1598.0 969.5L1599.0 968.8L1600.0 968.1L1601.0 967.3L1602.0 966.5L1603.0 965.6L1604.0 964.8L1605.0 963.9L1606.0 962.9L1607.0 962.0L1608.0 961.1L1609.0 960.1L1610.0 959.2L1611.0 958.2L1612.0 957.3L1613.0 956.3L1614.0 955.4L1615.0 954.5L1616.0 953.6L1617.0 952.8" stroke="#20c020" stroke-width="3.4" stroke-dasharray="7,9" stroke-dashoffset="8"/>
<path d="M248.0 1089.5L249.0 1089.5L250.0 1089.5L251.0 1089.5L252.0 1089.5L253.0 1089.5L254.0 1089.5L255.0 1089.4L256.0 1089.4L257.0 1089.4L258.0 1089.4L259.0 1089.3L260.0 1089.2L261.0 1089.0L262.0 1088.8L263.0 1088.5L264.0 1088.2L265.0 1086.5L266.0 1084.9L267.0 1083.3L268.0 1081.5L269.0 1079.7L270.0 1077.7L271.0 1075.8L272.0 1073.9L273.0 1072.1L274.0 1070.2L275.0 1068.4L276.0 1066.6L277.0 1064.9L278.0 1063.1L279.0 1061.5L280.0 1059.8L281.0 1058.2L282.0 1056.7L283.0 1055.2L284.0 1053.8L285.0 1052.4L286.0 1051.1L287.0 1049.9L288.0 1048.7L289.0 1047.6L290.0 1046.6L291.0 1045.7L292.0 1044.8L293.0 1044.0L294.0 1043.4L295.0 1042.7L296.0 1041.9L297.0 1041.2L298.0 1040.4L299.0 1039.7L300.0 1038.9L301.0 1038.1L302.0 1037.2L303.0 1036.4L304.0 1035.5L305.0 1034.7L306.0 1033.8L307.0 1033.4L308.0 1032.7L309.0 1031.9L310.0 1031.0L311.0 1030.1L312.0 1029.2L313.0 1028.2L314.0 1027.2L315.0 1026.2L316.0 1025.1L317.0 1024.1L318.0 1023.0L319.0 1021.8L320.0 1020.6L321.0 1019.5L322.0 1018.2L323.0 1017.0L324.0 1015.7L325.0 1014.5L326.0 1013.2L327.0 1011.8L328.0 1010.5L329.0 1009.1L330.0 1007.8L331.0 1006.4L332.0 1005.0L333.0 1003.6L334.0 1002.2L335.0 1000.8L336.0 999.3L337.0 997.9L338.0 996.5L339.0 995.0L340.0 993.5L341.0 992.1L342.0 990.6L343.0 989.1L344.0 987.6L345.0 986.1L346.0 984.6L347.0 983.1L348.0 981.6L349.0 980.1L350.0 978.6L351.0 977.1L352.0 975.6L353.0 974.0L354.0 972.5L355.0 971.0L356.0 969.5L357.0 967.9L358.0 966.4L359.0 964.9L360.0 963.3L361.0 961.8L362.0 960.3L363.0 958.8L364.0 957.2L365.0 955.7L366.0 954.2L367.0 952.7L368.0 951.2L369.0 949.7L370.0 948.2L371.0 946.7L372.0 945.2L373.0 943.7L374.0 942.2L375.0 940.8L376.0 939.3L377.0 937.8L378.0 936.4L379.0 934.9L380.0 933.4L381.0 932.0L382.0 930.5L383.0 929.1L384.0 927.7L385.0 926.2L386.0 924.8L387.0 923.4L388.0 921.9L389.0 920.5L390.0 919.1L391.0 917.7L392.0 916.3L393.0 914.9L394.0 913.5L395.0 912.1L396.0 910.7L397.0 909.3L398.0 907.9L399.0 906.5L400.0 905.1L401.0 903.8L402.0 902.4L403.0 901.0L404.0 899.6L405.0 898.3L406.0 896.9L407.0 895.6L408.0 894.2L409.0 892.8L410.0 891.5L411.0 890.1L412.0 888.8L413.0 887.4L414.0 886.1L415.0 884.7L416.0 883.4L417.0 882.0L418.0 880.7L419.0 879.4L420.0 878.0L421.0 876.7L422.0 875.4L423.0 874.0L424.0 872.7L425.0 871.4L426.0 870.0L427.0 868.7L428.0 867.4L429.0 866.0L430.0 864.7L431.0 863.4L432.0 862.1L433.0 860.7L434.0 859.4L435.0 858.1L436.0 856.7L437.0 855.4L438.0 854.1L439.0 852.8L440.0 851.4L441.0 850.1L442.0 848.8L443.0 847.4L444.0 846.1L445.0 844.8L446.0 843.5L447.0 842.1L448.0 840.8L449.0 839.5L450.0 838.1L451.0 836.8L452.0 835.4L453.0 834.1L454.0 832.8L455.0 831.4L456.0 830.1L457.0 828.7L458.0 827.4L459.0 826.0L460.0 824.7L461.0 823.3L462.0 822.0L463.0 820.6L464.0 819.3L465.0 817.9L466.0 816.5L467.0 815.2L468.0 813.8L469.0 812.5L470.0 811.1L471.0 809.7L472.0 808.4L473.0 807.0L474.0 805.6L475.0 804.3L476.0 802.9L477.0 801.5L478.0 800.1L479.0 798.8L480.0 797.4L481.0 796.0L482.0 794.6L483.0 793.2L484.0 791.9L485.0 790.5L486.0 789.1L487.0 787.7L488.0 786.3L489.0 784.9L490.0 783.5L491.0 782.1L492.0 780.7L493.0 779.4L494.0 778.0L495.0 776.6L496.0 775.2L497.0 773.8L498.0 772.4L499.0 770.9L500.0 769.5L501.0 768.1L502.0 766.7L503.0 765.3L504.0 763.9L505.0 762.5L506.0 761.1L507.0 759.7L508.0 758.3L509.0 756.8L510.0 755.4L511.0 754.0L512.0 752.6L513.0 751.1L514.0 749.7L515.0 748.3L516.0 746.9L517.0 745.4L518.0 744.0L519.0 742.6L520.0 741.1L521.0 739.7L522.0 738.3L523.0 736.8L524.0 735.4L525.0 734.0L526.0 732.5L527.0 731.1L528.0 729.6L529.0 728.2L530.0 726.7L531.0 725.3L532.0 723.8L533.0 722.4L534.0 720.9L535.0 719.5L536.0 718.0L537.0 716.6L538.0 715.1L539.0 713.7L540.0 712.2L541.0 710.7L542.0 709.3L543.0 707.8L544.0 706.3L545.0 704.9L546.0 703.4L547.0 701.9L548.0 700.5L549.0 699.0L550.0 697.5L551.0 696.0L552.0 694.6L553.0 693.1L554.0 691.6L555.0 690.1L556.0 688.6L557.0 687.1L558.0 685.7L559.0 684.2L560.0 682.7L561.0 681.2L562.0 679.7L563.0 678.2L564.0 676.7L565.0 675.2L566.0 673.7L567.0 672.2L568.0 670.7L569.0 669.2L570.0 667.7L571.0 666.2L572.0 664.7L573.0 663.2L574.0 661.7L575.0 660.2L576.0 658.7L577.0 657.2L578.0 655.6L579.0 654.1L580.0 652.6L581.0 651.1L582.0 649.6L583.0 648.1L584.0 646.5L585.0 645.0L586.0 643.5L587.0 642.0L588.0 640.4L589.0 638.9L590.0 637.4L591.0 635.9L592.0 634.3L593.0 632.8L594.0 631.3L595.0 629.7L596.0 628.2L597.0 626.7L598.0 625.1L599.0 623.6L600.0 622.0L601.0 620.5L602.0 619.0L603.0 617.4L604.0 615.9L605.0 614.3L606.0 612.8L607.0 611.3L608.0 609.7L609.0 608.2L610.0 606.6L611.0 605.1L612.0 603.5L613.0 602.0L614.0 600.4L615.0 598.9L616.0 597.3L617.0 595.8L618.0 594.2L619.0 592.7L620.0 591.1L621.0 589.5L622.0 588.0L623.0 586.4L624.0 584.9L625.0 583.3L626.0 581.8L627.0 580.2L628.0 578.6L629.0 577.1L630.0 575.5L631.0 574.0L632.0 572.4L633.0 570.8L634.0 569.3L635.0 567.7L636.0 566.2L637.0 564.6L638.0 563.0L639.0 561.5L640.0 559.9L641.0 558.3L642.0 556.8L643.0 555.2L644.0 553.6L645.0 552.1L646.0 550.5L647.0 548.9L648.0 547.4L649.0 545.8L650.0 544.2L651.0 542.7L652.0 541.1L653.0 539.5L654.0 538.0L655.0 536.4L656.0 534.8L657.0 533.3L658.0 531.7L659.0 530.1L660.0 528.5L661.0 527.0L662.0 525.4L663.0 523.8L664.0 522.3L665.0 520.7L666.0 519.1L667.0 517.6L668.0 516.0L669.0 514.4L670.0 512.8L671.0 511.3L672.0 509.7L673.0 508.1L674.0 506.6L675.0 505.0L676.0 503.4L677.0 501.9L678.0 500.3L679.0 498.7L680.0 497.2L681.0 495.6L682.0 494.0L683.0 492.5L684.0 490.9L685.0 489.3L686.0 487.8L687.0 486.2L688.0 484.6L689.0 483.1L690.0 481.5L691.0 479.9L692.0 478.4L693.0 476.8L694.0 475.2L695.0 473.7L696.0 472.1L697.0 470.5L698.0 469.0L699.0 467.4L700.0 465.9L701.0 464.3L702.0 462.7L703.0 461.2L704.0 459.6L705.0 458.0L706.0 456.5L707.0 454.9L708.0 453.4L709.0 451.8L710.0 450.3L711.0 448.7L712.0 447.1L713.0 445.6L714.0 444.0L715.0 442.5L716.0 440.9L717.0 439.4L718.0 437.8L719.0 436.2L720.0 434.7L721.0 433.1L722.0 431.6L723.0 430.0L724.0 428.5L725.0 426.9L726.0 425.4L727.0 423.8L728.0 422.3L729.0 420.7L730.0 419.2L731.0 417.6L732.0 416.1L733.0 414.5L734.0 413.0L735.0 411.4L736.0 409.9L737.0 408.3L738.0 406.8L739.0 405.2L740.0 403.7L741.0 402.2L742.0 400.6L743.0 399.1L744.0 397.5L745.0 396.0L746.0 394.4L747.0 392.9L748.0 391.3L749.0 389.8L750.0 388.3L751.0 386.7L752.0 385.2L753.0 383.6L754.0 382.1L755.0 380.6L756.0 379.0L757.0 377.5L758.0 375.9L759.0 374.4L760.0 372.9L761.0 371.3L762.0 369.8L763.0 368.3L764.0 366.7L765.0 365.2L766.0 363.6L767.0 362.1L768.0 360.6L769.0 359.0L770.0 357.5L771.0 356.0L772.0 354.4L773.0 352.9L774.0 351.4L775.0 349.8L776.0 348.3L777.0 346.8L778.0 345.2L779.0 343.7L780.0 342.2L781.0 340.7L782.0 339.1L783.0 337.6L784.0 336.1L785.0 334.5L786.0 333.0L787.0 331.5L788.0 330.0L789.0 328.4L790.0 326.9L791.0 325.4L792.0 323.9L793.0 322.3L794.0 320.8L795.0 319.3L796.0 317.8L797.0 316.2L798.0 314.7L799.0 313.2L800.0 311.7L801.0 310.1L802.0 308.6L803.0 307.1L804.0 305.6L805.0 304.0L806.0 302.5L807.0 301.0L808.0 299.5L809.0 298.0L810.0 296.4L811.0 294.9L812.0 293.4L813.0 291.9L814.0 290.4L815.0 288.9L816.0 287.3L817.0 285.8L818.0 284.3L819.0 282.8L820.0 281.3L821.0 279.8L822.0 278.2L823.0 276.7L824.0 275.2L825.0 273.7L826.0 272.2L827.0 270.7L828.0 269.2L829.0 267.6L830.0 266.1L831.0 264.6L832.0 263.1L833.0 261.6L834.0 260.1L835.0 258.6L836.0 257.1L837.0 255.6L838.0 254.1L839.0 252.6L840.0 251.1L841.0 249.6L842.0 248.1L843.0 246.6L844.0 245.1L845.0 243.6L846.0 242.1L847.0 240.6L848.0 239.1L849.0 237.6L850.0 236.1L851.0 234.6L852.0 233.1L853.0 231.7L854.0 230.2L855.0 228.7L856.0 227.2L857.0 225.8L858.0 224.3L859.0 222.8L860.0 221.4L861.0 219.9L862.0 218.5L863.0 217.0L864.0 215.6L865.0 214.1L866.0 212.7L867.0 211.2L868.0 209.8L869.0 208.3L870.0 206.9L871.0 205.5L872.0 204.1L873.0 202.6L874.0 201.2L875.0 199.8L876.0 198.4L877.0 197.0L878.0 195.6L879.0 194.2L880.0 192.8L881.0 191.4L882.0 190.0L883.0 188.7L884.0 187.3L885.0 185.9L886.0 184.6L887.0 183.2L888.0 181.9L889.0 180.5L890.0 179.2L891.0 177.9L892.0 176.6L893.0 175.3L894.0 174.0L895.0 172.7L896.0 171.5L897.0 170.2L898.0 169.0L899.0 167.8L900.0 166.6L901.0 165.4L902.0 164.2L903.0 163.1L904.0 162.0L905.0 160.9L906.0 159.8L907.0 158.7L908.0 157.7L909.0 156.7L910.0 155.7L911.0 154.7L912.0 153.8L913.0 152.8L914.0 151.9L915.0 151.1L916.0 150.2L917.0 149.4L918.0 148.6L919.0 147.8L920.0 147.1L921.0 146.4L922.0 145.6L923.0 145.0L924.0 144.3L925.0 143.6L926.0 143.0L927.0 142.4L928.0 141.8L929.0 141.2L930.0 140.6L931.0 140.1L932.0 139.5L933.0 139.0L934.0 138.5L935.0 137.9L936.0 137.4L937.0 136.9L938.0 136.4L939.0 135.9L940.0 135.5L941.0 135.0L942.0 134.5L943.0 134.0L944.0 133.6L945.0 133.1L946.0 132.5L947.0 132.1L948.0 131.9L949.0 131.7L950.0 131.5L951.0 131.3L952.0 131.0L953.0 130.8L954.0 130.6L955.0 130.4L956.0 130.3L957.0 130.1L958.0 129.9L959.0 129.7L960.0 129.5L961.0 129.4L962.0 129.2L963.0 129.0L964.0 128.9L965.0 128.7L966.0 128.6L967.0 128.4L968.0 128.3L969.0 128.2L970.0 128.0L971.0 127.9L972.0 127.8L973.0 127.7L974.0 127.6L975.0 127.5L976.0 127.4L977.0 127.3L978.0 127.2L979.0 127.2L980.0 127.1L981.0 127.1L982.0 127.0L983.0 127.0L984.0 127.0L985.0 126.9L986.0 126.9L987.0 126.9L988.0 126.9L989.0 126.9L990.0 126.9L991.0 127.9L992.0 128.9L993.0 130.1L994.0 131.2L995.0 132.4L996.0 133.5L997.0 134.6L998.0 135.7L999.0 136.8L1000.0 137.8L1001.0 138.9L1002.0 139.9L1003.0 141.0L1004.0 142.0L1005.0 143.0L1006.0 144.0L1007.0 145.0L1008.0 146.0L1009.0 147.0L1010.0 147.9L1011.0 148.9L1012.0 149.9L1013.0 150.8L1014.0 151.7L1015.0 152.7L1016.0 153.6L1017.0 154.5L1018.0 155.5L1019.0 156.4L1020.0 157.3L1021.0 158.2L1022.0 159.1L1023.0 160.0L1024.0 160.9L1025.0 161.8L1026.0 162.7L1027.0 163.6L1028.0 164.5L1029.0 165.4L1030.0 166.3L1031.0 167.2L1032.0 168.1L1033.0 169.0L1034.0 169.9L1035.0 170.8L1036.0 171.7L1037.0 172.6L1038.0 173.5L1039.0 174.4L1040.0 175.3L1041.0 176.2L1042.0 177.2L1043.0 178.1L1044.0 179.0L1045.0 179.9L1046.0 180.8L1047.0 181.8L1048.0 182.7L1049.0 183.6L1050.0 184.5L1051.0 185.5L1052.0 186.4L1053.0 187.3L1054.0 188.3L1055.0 189.2L1056.0 190.1L1057.0 191.1L1058.0 192.0L1059.0 192.9L1060.0 193.9L1061.0 194.8L1062.0 195.8L1063.0 196.7L1064.0 197.7L1065.0 198.6L1066.0 199.6L1067.0 200.5L1068.0 201.5L1069.0 202.5L1070.0 203.4L1071.0 204.4L1072.0 205.4L1073.0 206.3L1074.0 207.3L1075.0 208.3L1076.0 209.3L1077.0 210.3L1078.0 211.3L1079.0 212.2L1080.0 213.2L1081.0 214.2L1082.0 215.2L1083.0 216.2L1084.0 217.2L1085.0 218.3L1086.0 219.3L1087.0 220.3L1088.0 221.3L1089.0 222.3L1090.0 223.4L1091.0 224.4L1092.0 225.4L1093.0 226.5L1094.0 227.5L1095.0 228.6L1096.0 229.6L1097.0 230.7L1098.0 231.7L1099.0 232.8L1100.0 233.8L1101.0 234.9L1102.0 236.0L1103.0 237.1L1104.0 238.1L1105.0 239.2L1106.0 240.3L1107.0 241.4L1108.0 242.5L1109.0 243.6L1110.0 244.7L1111.0 245.9L1112.0 247.0L1113.0 248.1L1114.0 249.2L1115.0 250.4L1116.0 251.5L1117.0 252.7L1118.0 253.8L1119.0 255.0L1120.0 256.1L1121.0 257.3L1122.0 258.5L1123.0 259.6L1124.0 260.8L1125.0 262.0L1126.0 263.2L1127.0 264.4L1128.0 265.6L1129.0 266.8L1130.0 268.0L1131.0 269.2L1132.0 270.5L1133.0 271.7L1134.0 272.9L1135.0 274.1L1136.0 275.4L1137.0 276.6L1138.0 277.8L1139.0 279.1L1140.0 280.3L1141.0 281.6L1142.0 282.9L1143.0 284.1L1144.0 285.4L1145.0 286.7L1146.0 287.9L1147.0 289.2L1148.0 290.5L1149.0 291.8L1150.0 293.0L1151.0 294.3L1152.0 295.6L1153.0 296.9L1154.0 298.2L1155.0 299.5L1156.0 300.8L1157.0 302.1L1158.0 303.4L1159.0 304.7L1160.0 306.0L1161.0 307.3L1162.0 308.7L1163.0 310.0L1164.0 311.3L1165.0 312.6L1166.0 313.9L1167.0 315.3L1168.0 316.6L1169.0 317.9L1170.0 319.2L1171.0 320.6L1172.0 321.9L1173.0 323.2L1174.0 324.6L1175.0 325.9L1176.0 327.2L1177.0 328.6L1178.0 329.9L1179.0 331.2L1180.0 332.6L1181.0 333.9L1182.0 335.3L1183.0 336.6L1184.0 337.9L1185.0 339.3L1186.0 340.6L1187.0 342.0L1188.0 343.3L1189.0 344.7L1190.0 346.0L1191.0 347.4L1192.0 348.7L1193.0 350.1L1194.0 351.4L1195.0 352.8L1196.0 354.1L1197.0 355.5L1198.0 356.8L1199.0 358.2L1200.0 359.5L1201.0 360.9L1202.0 362.2L1203.0 363.6L1204.0 365.0L1205.0 366.3L1206.0 367.7L1207.0 369.1L1208.0 370.4L1209.0 371.8L1210.0 373.2L1211.0 374.5L1212.0 375.9L1213.0 377.3L1214.0 378.6L1215.0 380.0L1216.0 381.4L1217.0 382.8L1218.0 384.1L1219.0 385.5L1220.0 386.9L1221.0 388.3L1222.0 389.6L1223.0 391.0L1224.0 392.4L1225.0 393.8L1226.0 395.2L1227.0 396.6L1228.0 398.0L1229.0 399.4L1230.0 400.7L1231.0 402.1L1232.0 403.5L1233.0 404.9L1234.0 406.3L1235.0 407.7L1236.0 409.1L1237.0 410.5L1238.0 411.9L1239.0 413.3L1240.0 414.7L1241.0 416.2L1242.0 417.6L1243.0 419.0L1244.0 420.4L1245.0 421.8L1246.0 423.2L1247.0 424.6L1248.0 426.0L1249.0 427.5L1250.0 428.9L1251.0 430.3L1252.0 431.7L1253.0 433.2L1254.0 434.6L1255.0 436.0L1256.0 437.4L1257.0 438.9L1258.0 440.3L1259.0 441.7L1260.0 443.2L1261.0 444.6L1262.0 446.1L1263.0 447.5L1264.0 448.9L1265.0 450.4L1266.0 451.8L1267.0 453.3L1268.0 454.7L1269.0 456.2L1270.0 457.6L1271.0 459.1L1272.0 460.6L1273.0 462.0L1274.0 463.5L1275.0 464.9L1276.0 466.4L1277.0 467.9L1278.0 469.3L1279.0 470.8L1280.0 472.3L1281.0 473.8L1282.0 475.2L1283.0 476.7L1284.0 478.2L1285.0 479.7L1286.0 481.2L1287.0 482.6L1288.0 484.1L1289.0 485.6L1290.0 487.1L1291.0 488.6L1292.0 490.1L1293.0 491.6L1294.0 493.1L1295.0 494.6L1296.0 496.1L1297.0 497.6L1298.0 499.1L1299.0 500.6L1300.0 502.1L1301.0 503.6L1302.0 505.2L1303.0 506.7L1304.0 508.2L1305.0 509.7L1306.0 511.2L1307.0 512.8L1308.0 514.3L1309.0 515.8L1310.0 517.3L1311.0 518.9L1312.0 520.4L1313.0 521.9L1314.0 523.4L1315.0 525.0L1316.0 526.5L1317.0 528.1L1318.0 529.6L1319.0 531.1L1320.0 532.7L1321.0 534.2L1322.0 535.8L1323.0 537.3L1324.0 538.8L1325.0 540.4L1326.0 541.9L1327.0 543.5L1328.0 545.0L1329.0 546.6L1330.0 548.1L1331.0 549.7L1332.0 551.2L1333.0 552.8L1334.0 554.3L1335.0 555.9L1336.0 557.5L1337.0 559.0L1338.0 560.6L1339.0 562.1L1340.0 563.7L1341.0 565.2L1342.0 566.8L1343.0 568.4L1344.0 569.9L1345.0 571.5L1346.0 573.1L1347.0 574.6L1348.0 576.2L1349.0 577.7L1350.0 579.3L1351.0 580.9L1352.0 582.4L1353.0 584.0L1354.0 585.6L1355.0 587.1L1356.0 588.7L1357.0 590.3L1358.0 591.9L1359.0 593.4L1360.0 595.0L1361.0 596.6L1362.0 598.1L1363.0 599.7L1364.0 601.3L1365.0 602.8L1366.0 604.4L1367.0 606.0L1368.0 607.6L1369.0 609.1L1370.0 610.7L1371.0 612.3L1372.0 613.9L1373.0 615.4L1374.0 617.0L1375.0 618.6L1376.0 620.2L1377.0 621.7L1378.0 623.3L1379.0 624.9L1380.0 626.5L1381.0 628.1L1382.0 629.6L1383.0 631.2L1384.0 632.8L1385.0 634.4L1386.0 636.0L1387.0 637.5L1388.0 639.1L1389.0 640.7L1390.0 642.3L1391.0 643.9L1392.0 645.4L1393.0 647.0L1394.0 648.6L1395.0 650.2L1396.0 651.8L1397.0 653.4L1398.0 655.0L1399.0 656.6L1400.0 658.1L1401.0 659.7L1402.0 661.3L1403.0 662.9L1404.0 664.5L1405.0 666.1L1406.0 667.7L1407.0 669.3L1408.0 670.9L1409.0 672.5L1410.0 674.0L1411.0 675.6L1412.0 677.2L1413.0 678.8L1414.0 680.4L1415.0 682.0L1416.0 683.6L1417.0 685.2L1418.0 686.8L1419.0 688.4L1420.0 690.0L1421.0 691.6L1422.0 693.2L1423.0 694.8L1424.0 696.4L1425.0 698.0L1426.0 699.6L1427.0 701.2L1428.0 702.8L1429.0 704.4L1430.0 706.0L1431.0 707.6L1432.0 709.2L1433.0 710.9L1434.0 712.5L1435.0 714.1L1436.0 715.7L1437.0 717.3L1438.0 718.9L1439.0 720.5L1440.0 722.1L1441.0 723.7L1442.0 725.3L1443.0 727.0L1444.0 728.6L1445.0 730.2L1446.0 731.8L1447.0 733.4L1448.0 735.0L1449.0 736.7L1450.0 738.3L1451.0 739.9L1452.0 741.5L1453.0 743.1L1454.0 744.7L1455.0 746.4L1456.0 748.0L1457.0 749.6L1458.0 751.2L1459.0 752.9L1460.0 754.5L1461.0 756.1L1462.0 757.7L1463.0 759.4L1464.0 761.0L1465.0 762.6L1466.0 764.2L1467.0 765.9L1468.0 767.5L1469.0 769.1L1470.0 770.8L1471.0 772.4L1472.0 774.0L1473.0 775.7L1474.0 777.3L1475.0 778.9L1476.0 780.6L1477.0 782.2L1478.0 783.8L1479.0 785.5L1480.0 787.1L1481.0 788.8L1482.0 790.4L1483.0 792.0L1484.0 793.7L1485.0 795.3L1486.0 797.0L1487.0 798.6L1488.0 800.3L1489.0 801.9L1490.0 803.5L1491.0 805.2L1492.0 806.8L1493.0 808.5L1494.0 810.1L1495.0 811.8L1496.0 813.4L1497.0 815.1L1498.0 816.7L1499.0 818.4L1500.0 820.0L1501.0 821.7L1502.0 823.3L1503.0 825.0L1504.0 826.6L1505.0 828.3L1506.0 830.0L1507.0 831.6L1508.0 833.3L1509.0 834.9L1510.0 836.6L1511.0 838.2L1512.0 839.9L1513.0 841.5L1514.0 843.2L1515.0 844.8L1516.0 846.5L1517.0 848.2L1518.0 849.8L1519.0 851.5L1520.0 853.1L1521.0 854.8L1522.0 856.4L1523.0 858.1L1524.0 859.8L1525.0 861.4L1526.0 863.1L1527.0 864.7L1528.0 866.4L1529.0 868.1L1530.0 869.7L1531.0 871.4L1532.0 873.0L1533.0 874.7L1534.0 876.3L1535.0 878.0L1536.0 879.7L1537.0 881.3L1538.0 883.0L1539.0 884.6L1540.0 886.3L1541.0 887.9L1542.0 889.6L1543.0 891.3L1544.0 892.9L1545.0 894.6L1546.0 896.2L1547.0 897.9L1548.0 899.5L1549.0 901.2L1550.0 902.9L1551.0 904.5L1552.0 906.2L1553.0 907.8L1554.0 909.5L1555.0 911.1L1556.0 912.8L1557.0 914.4L1558.0 916.1L1559.0 917.7L1560.0 919.4L1561.0 921.0L1562.0 922.7L1563.0 924.3L1564.0 926.0L1565.0 927.6L1566.0 929.3L1567.0 930.9L1568.0 932.6L1569.0 934.2L1570.0 935.9L1571.0 937.5L1572.0 939.2L1573.0 940.8L1574.0 942.5L1575.0 944.1L1576.0 945.7L1577.0 947.4L1578.0 949.0L1579.0 950.7L1580.0 952.3L1581.0 953.9L1582.0 955.6L1583.0 957.2L1584.0 958.9L1585.0 960.5L1586.0 962.1L1587.0 963.8L1588.0 965.4L1589.0 967.0L1590.0 968.7L1591.0 970.0L1592.0 971.4L1593.0 971.9L1594.0 971.9L1595.0 971.4L1596.0 970.8L1597.0 970.2L1598.0 969.5L1599.0 968.8L1600.0 968.1L1601.0 967.3L1602.0 966.5L1603.0 965.6L1604.0 964.8L1605.0 963.9L1606.0 962.9L1607.0 962.0L1608.0 961.1L1609.0 960.1L1610.0 959.2L1611.0 958.2L1612.0 957.3L1613.0 956.3L1614.0 955.4L1615.0 954.5L1616.0 953.6L1617.0 952.8" stroke="#e81c1c" stroke-width="3.4" stroke-dasharray="7,9"/>
<path d="M248.0 1089.5L249.0 1089.5L250.0 1089.5L251.0 1089.5L252.0 1089.5L253.0 1089.5L254.0 1089.5L255.0 1089.5L256.0 1089.5L257.0 1089.4L258.0 1089.4L259.0 1089.3L260.0 1089.2L261.0 1089.0L262.0 1088.8L263.0 1088.6L264.0 1088.4L265.0 1086.4L266.0 1084.5L267.0 1082.7L268.0 1080.8L269.0 1078.8L270.0 1076.8L271.0 1074.8L272.0 1072.8L273.0 1070.8L274.0 1068.8L275.0 1066.9L276.0 1065.0L277.0 1063.1L278.0 1061.3L279.0 1059.5L280.0 1057.7L281.0 1056.0L282.0 1054.3L283.0 1052.7L284.0 1051.2L285.0 1049.7L286.0 1048.4L287.0 1047.0L288.0 1045.8L289.0 1044.7L290.0 1043.6L291.0 1042.6L292.0 1041.8L293.0 1041.0L294.0 1040.3L295.0 1039.6L296.0 1038.9L297.0 1038.2L298.0 1037.4L299.0 1036.6L300.0 1035.8L301.0 1035.0L302.0 1034.2L303.0 1033.3L304.0 1032.5L305.0 1031.5L306.0 1030.6L307.0 1030.3L308.0 1029.7L309.0 1028.9L310.0 1028.0L311.0 1027.1L312.0 1026.2L313.0 1025.2L314.0 1024.1L315.0 1023.1L316.0 1022.0L317.0 1020.9L318.0 1019.7L319.0 1018.6L320.0 1017.4L321.0 1016.2L322.0 1014.9L323.0 1013.6L324.0 1012.3L325.0 1011.0L326.0 1009.7L327.0 1008.3L328.0 1006.9L329.0 1005.6L330.0 1004.2L331.0 1002.7L332.0 1001.3L333.0 999.9L334.0 998.4L335.0 997.0L336.0 995.5L337.0 994.0L338.0 992.5L339.0 991.1L340.0 989.6L341.0 988.0L342.0 986.5L343.0 985.0L344.0 983.5L345.0 981.9L346.0 980.4L347.0 978.9L348.0 977.3L349.0 975.8L350.0 974.2L351.0 972.6L352.0 971.1L353.0 969.5L354.0 968.0L355.0 966.4L356.0 964.8L357.0 963.3L358.0 961.7L359.0 960.1L360.0 958.6L361.0 957.0L362.0 955.4L363.0 953.9L364.0 952.3L365.0 950.8L366.0 949.2L367.0 947.7L368.0 946.2L369.0 944.6L370.0 943.1L371.0 941.6L372.0 940.1L373.0 938.6L374.0 937.1L375.0 935.6L376.0 934.1L377.0 932.6L378.0 931.1L379.0 929.7L380.0 928.2L381.0 926.7L382.0 925.3L383.0 923.8L384.0 922.4L385.0 920.9L386.0 919.5L387.0 918.0L388.0 916.6L389.0 915.2L390.0 913.8L391.0 912.3L392.0 910.9L393.0 909.5L394.0 908.1L395.0 906.7L396.0 905.3L397.0 903.9L398.0 902.5L399.0 901.1L400.0 899.8L401.0 898.4L402.0 897.0L403.0 895.6L404.0 894.3L405.0 892.9L406.0 891.5L407.0 890.2L408.0 888.8L409.0 887.4L410.0 886.1L411.0 884.7L412.0 883.4L413.0 882.0L414.0 880.7L415.0 879.3L416.0 878.0L417.0 876.7L418.0 875.3L419.0 874.0L420.0 872.7L421.0 871.3L422.0 870.0L423.0 868.7L424.0 867.3L425.0 866.0L426.0 864.7L427.0 863.3L428.0 862.0L429.0 860.7L430.0 859.4L431.0 858.0L432.0 856.7L433.0 855.4L434.0 854.1L435.0 852.7L436.0 851.4L437.0 850.1L438.0 848.7L439.0 847.4L440.0 846.1L441.0 844.8L442.0 843.4L443.0 842.1L444.0 840.8L445.0 839.4L446.0 838.1L447.0 836.8L448.0 835.4L449.0 834.1L450.0 832.8L451.0 831.4L452.0 830.1L453.0 828.7L454.0 827.4L455.0 826.0L456.0 824.7L457.0 823.3L458.0 822.0L459.0 820.6L460.0 819.3L461.0 817.9L462.0 816.5L463.0 815.2L464.0 813.8L465.0 812.4L466.0 811.1L467.0 809.7L468.0 808.3L469.0 807.0L470.0 805.6L471.0 804.2L472.0 802.8L473.0 801.5L474.0 800.1L475.0 798.7L476.0 797.3L477.0 795.9L478.0 794.5L479.0 793.1L480.0 791.8L481.0 790.4L482.0 789.0L483.0 787.6L484.0 786.2L485.0 784.8L486.0 783.4L487.0 782.0L488.0 780.6L489.0 779.2L490.0 777.8L491.0 776.3L492.0 774.9L493.0 773.5L494.0 772.1L495.0 770.7L496.0 769.3L497.0 767.9L498.0 766.4L499.0 765.0L500.0 763.6L501.0 762.2L502.0 760.7L503.0 759.3L504.0 757.9L505.0 756.5L506.0 755.0L507.0 753.6L508.0 752.2L509.0 750.7L510.0 749.3L511.0 747.8L512.0 746.4L513.0 745.0L514.0 743.5L515.0 742.1L516.0 740.6L517.0 739.2L518.0 737.7L519.0 736.3L520.0 734.8L521.0 733.4L522.0 731.9L523.0 730.5L524.0 729.0L525.0 727.5L526.0 726.1L527.0 724.6L528.0 723.1L529.0 721.7L530.0 720.2L531.0 718.7L532.0 717.3L533.0 715.8L534.0 714.3L535.0 712.9L536.0 711.4L537.0 709.9L538.0 708.4L539.0 707.0L540.0 705.5L541.0 704.0L542.0 702.5L543.0 701.0L544.0 699.5L545.0 698.1L546.0 696.6L547.0 695.1L548.0 693.6L549.0 692.1L550.0 690.6L551.0 689.1L552.0 687.6L553.0 686.1L554.0 684.6L555.0 683.1L556.0 681.6L557.0 680.1L558.0 678.6L559.0 677.1L560.0 675.6L561.0 674.1L562.0 672.6L563.0 671.1L564.0 669.6L565.0 668.0L566.0 666.5L567.0 665.0L568.0 663.5L569.0 662.0L570.0 660.5L571.0 659.0L572.0 657.4L573.0 655.9L574.0 654.4L575.0 652.9L576.0 651.3L577.0 649.8L578.0 648.3L579.0 646.8L580.0 645.2L581.0 643.7L582.0 642.2L583.0 640.6L584.0 639.1L585.0 637.6L586.0 636.0L587.0 634.5L588.0 633.0L589.0 631.4L590.0 629.9L591.0 628.4L592.0 626.8L593.0 625.3L594.0 623.7L595.0 622.2L596.0 620.6L597.0 619.1L598.0 617.6L599.0 616.0L600.0 614.5L601.0 612.9L602.0 611.4L603.0 609.8L604.0 608.3L605.0 606.7L606.0 605.2L607.0 603.6L608.0 602.1L609.0 600.5L610.0 598.9L611.0 597.4L612.0 595.8L613.0 594.3L614.0 592.7L615.0 591.2L616.0 589.6L617.0 588.0L618.0 586.5L619.0 584.9L620.0 583.4L621.0 581.8L622.0 580.2L623.0 578.7L624.0 577.1L625.0 575.6L626.0 574.0L627.0 572.4L628.0 570.9L629.0 569.3L630.0 567.7L631.0 566.2L632.0 564.6L633.0 563.0L634.0 561.5L635.0 559.9L636.0 558.3L637.0 556.8L638.0 555.2L639.0 553.6L640.0 552.1L641.0 550.5L642.0 548.9L643.0 547.4L644.0 545.8L645.0 544.2L646.0 542.7L647.0 541.1L648.0 539.5L649.0 537.9L650.0 536.4L651.0 534.8L652.0 533.2L653.0 531.7L654.0 530.1L655.0 528.5L656.0 527.0L657.0 525.4L658.0 523.8L659.0 522.2L660.0 520.7L661.0 519.1L662.0 517.5L663.0 516.0L664.0 514.4L665.0 512.8L666.0 511.2L667.0 509.7L668.0 508.1L669.0 506.5L670.0 505.0L671.0 503.4L672.0 501.8L673.0 500.2L674.0 498.7L675.0 497.1L676.0 495.5L677.0 494.0L678.0 492.4L679.0 490.8L680.0 489.3L681.0 487.7L682.0 486.1L683.0 484.5L684.0 483.0L685.0 481.4L686.0 479.8L687.0 478.3L688.0 476.7L689.0 475.1L690.0 473.6L691.0 472.0L692.0 470.4L693.0 468.9L694.0 467.3L695.0 465.7L696.0 464.2L697.0 462.6L698.0 461.0L699.0 459.5L700.0 457.9L701.0 456.3L702.0 454.8L703.0 453.2L704.0 451.7L705.0 450.1L706.0 448.5L707.0 447.0L708.0 445.4L709.0 443.9L710.0 442.3L711.0 440.7L712.0 439.2L713.0 437.6L714.0 436.1L715.0 434.5L716.0 432.9L717.0 431.4L718.0 429.8L719.0 428.3L720.0 426.7L721.0 425.2L722.0 423.6L723.0 422.0L724.0 420.5L725.0 418.9L726.0 417.4L727.0 415.8L728.0 414.3L729.0 412.7L730.0 411.2L731.0 409.6L732.0 408.1L733.0 406.5L734.0 405.0L735.0 403.4L736.0 401.9L737.0 400.3L738.0 398.8L739.0 397.2L740.0 395.7L741.0 394.1L742.0 392.6L743.0 391.0L744.0 389.5L745.0 388.0L746.0 386.4L747.0 384.9L748.0 383.3L749.0 381.8L750.0 380.2L751.0 378.7L752.0 377.2L753.0 375.6L754.0 374.1L755.0 372.5L756.0 371.0L757.0 369.5L758.0 367.9L759.0 366.4L760.0 364.9L761.0 363.3L762.0 361.8L763.0 360.3L764.0 358.7L765.0 357.2L766.0 355.7L767.0 354.1L768.0 352.6L769.0 351.1L770.0 349.5L771.0 348.0L772.0 346.5L773.0 344.9L774.0 343.4L775.0 341.9L776.0 340.4L777.0 338.8L778.0 337.3L779.0 335.8L780.0 334.2L781.0 332.7L782.0 331.2L783.0 329.7L784.0 328.2L785.0 326.6L786.0 325.1L787.0 323.6L788.0 322.1L789.0 320.6L790.0 319.0L791.0 317.5L792.0 316.0L793.0 314.5L794.0 313.0L795.0 311.5L796.0 309.9L797.0 308.4L798.0 306.9L799.0 305.4L800.0 303.9L801.0 302.4L802.0 300.9L803.0 299.4L804.0 297.8L805.0 296.3L806.0 294.8L807.0 293.3L808.0 291.8L809.0 290.3L810.0 288.8L811.0 287.3L812.0 285.8L813.0 284.3L814.0 282.8L815.0 281.3L816.0 279.8L817.0 278.3L818.0 276.8L819.0 275.3L820.0 273.8L821.0 272.3L822.0 270.8L823.0 269.3L824.0 267.8L825.0 266.3L826.0 264.8L827.0 263.3L828.0 261.8L829.0 260.3L830.0 258.9L831.0 257.4L832.0 255.9L833.0 254.4L834.0 252.9L835.0 251.4L836.0 249.9L837.0 248.4L838.0 247.0L839.0 245.5L840.0 244.0L841.0 242.5L842.0 241.0L843.0 239.6L844.0 238.1L845.0 236.6L846.0 235.1L847.0 233.7L848.0 232.2L849.0 230.7L850.0 229.3L851.0 227.8L852.0 226.4L853.0 224.9L854.0 223.4L855.0 222.0L856.0 220.5L857.0 219.1L858.0 217.6L859.0 216.2L860.0 214.7L861.0 213.3L862.0 211.8L863.0 210.4L864.0 209.0L865.0 207.5L866.0 206.1L867.0 204.7L868.0 203.2L869.0 201.8L870.0 200.4L871.0 199.0L872.0 197.5L873.0 196.1L874.0 194.7L875.0 193.3L876.0 191.9L877.0 190.5L878.0 189.1L879.0 187.7L880.0 186.3L881.0 184.9L882.0 183.5L883.0 182.1L884.0 180.7L885.0 179.3L886.0 178.0L887.0 176.6L888.0 175.2L889.0 173.9L890.0 172.5L891.0 171.2L892.0 169.9L893.0 168.6L894.0 167.3L895.0 166.0L896.0 164.7L897.0 163.4L898.0 162.2L899.0 161.0L900.0 159.7L901.0 158.6L902.0 157.4L903.0 156.2L904.0 155.1L905.0 154.0L906.0 152.9L907.0 151.8L908.0 150.8L909.0 149.7L910.0 148.8L911.0 147.8L912.0 146.8L913.0 145.9L914.0 145.1L915.0 144.2L916.0 143.4L917.0 142.6L918.0 141.8L919.0 141.1L920.0 140.3L921.0 139.6L922.0 139.0L923.0 138.3L924.0 137.7L925.0 137.1L926.0 136.5L927.0 135.9L928.0 135.4L929.0 134.9L930.0 134.3L931.0 133.8L932.0 133.3L933.0 132.9L934.0 132.4L935.0 131.9L936.0 131.5L937.0 131.1L938.0 130.6L939.0 130.2L940.0 129.8L941.0 129.3L942.0 128.9L943.0 128.5L944.0 128.1L945.0 127.7L946.0 127.1L947.0 126.8L948.0 126.7L949.0 126.6L950.0 126.5L951.0 126.4L952.0 126.3L953.0 126.2L954.0 126.1L955.0 126.0L956.0 125.9L957.0 125.8L958.0 125.7L959.0 125.6L960.0 125.5L961.0 125.4L962.0 125.3L963.0 125.3L964.0 125.2L965.0 125.1L966.0 125.0L967.0 125.0L968.0 124.9L969.0 124.8L970.0 124.8L971.0 124.7L972.0 124.6L973.0 124.6L974.0 124.5L975.0 124.5L976.0 124.5L977.0 124.4L978.0 124.4L979.0 124.3L980.0 124.3L981.0 124.3L982.0 124.3L983.0 124.2L984.0 124.2L985.0 124.2L986.0 124.2L987.0 124.2L988.0 124.2L989.0 124.2L990.0 124.2L991.0 125.3L992.0 126.6L993.0 128.0L994.0 129.4L995.0 130.8L996.0 132.1L997.0 133.4L998.0 134.7L999.0 135.9L1000.0 137.2L1001.0 138.4L1002.0 139.6L1003.0 140.8L1004.0 141.9L1005.0 143.1L1006.0 144.2L1007.0 145.3L1008.0 146.4L1009.0 147.5L1010.0 148.5L1011.0 149.6L1012.0 150.6L1013.0 151.6L1014.0 152.7L1015.0 153.7L1016.0 154.6L1017.0 155.6L1018.0 156.6L1019.0 157.6L1020.0 158.5L1021.0 159.5L1022.0 160.4L1023.0 161.3L1024.0 162.3L1025.0 163.2L1026.0 164.1L1027.0 165.0L1028.0 165.9L1029.0 166.8L1030.0 167.7L1031.0 168.7L1032.0 169.6L1033.0 170.5L1034.0 171.4L1035.0 172.3L1036.0 173.2L1037.0 174.1L1038.0 175.1L1039.0 176.0L1040.0 176.9L1041.0 177.9L1042.0 178.8L1043.0 179.8L1044.0 180.7L1045.0 181.6L1046.0 182.6L1047.0 183.5L1048.0 184.5L1049.0 185.5L1050.0 186.4L1051.0 187.4L1052.0 188.3L1053.0 189.3L1054.0 190.3L1055.0 191.3L1056.0 192.2L1057.0 193.2L1058.0 194.2L1059.0 195.2L1060.0 196.2L1061.0 197.2L1062.0 198.2L1063.0 199.2L1064.0 200.2L1065.0 201.2L1066.0 202.2L1067.0 203.2L1068.0 204.2L1069.0 205.2L1070.0 206.2L1071.0 207.3L1072.0 208.3L1073.0 209.3L1074.0 210.4L1075.0 211.4L1076.0 212.4L1077.0 213.5L1078.0 214.5L1079.0 215.6L1080.0 216.6L1081.0 217.7L1082.0 218.7L1083.0 219.8L1084.0 220.9L1085.0 221.9L1086.0 223.0L1087.0 224.1L1088.0 225.2L1089.0 226.2L1090.0 227.3L1091.0 228.4L1092.0 229.5L1093.0 230.6L1094.0 231.7L1095.0 232.8L1096.0 233.9L1097.0 235.0L1098.0 236.1L1099.0 237.3L1100.0 238.4L1101.0 239.5L1102.0 240.6L1103.0 241.8L1104.0 242.9L1105.0 244.1L1106.0 245.2L1107.0 246.4L1108.0 247.5L1109.0 248.7L1110.0 249.8L1111.0 251.0L1112.0 252.2L1113.0 253.3L1114.0 254.5L1115.0 255.7L1116.0 256.9L1117.0 258.1L1118.0 259.2L1119.0 260.4L1120.0 261.6L1121.0 262.8L1122.0 264.0L1123.0 265.3L1124.0 266.5L1125.0 267.7L1126.0 268.9L1127.0 270.1L1128.0 271.4L1129.0 272.6L1130.0 273.8L1131.0 275.1L1132.0 276.3L1133.0 277.6L1134.0 278.8L1135.0 280.1L1136.0 281.3L1137.0 282.6L1138.0 283.9L1139.0 285.1L1140.0 286.4L1141.0 287.7L1142.0 288.9L1143.0 290.2L1144.0 291.5L1145.0 292.8L1146.0 294.1L1147.0 295.4L1148.0 296.7L1149.0 298.0L1150.0 299.2L1151.0 300.5L1152.0 301.8L1153.0 303.2L1154.0 304.5L1155.0 305.8L1156.0 307.1L1157.0 308.4L1158.0 309.7L1159.0 311.0L1160.0 312.4L1161.0 313.7L1162.0 315.0L1163.0 316.3L1164.0 317.7L1165.0 319.0L1166.0 320.3L1167.0 321.6L1168.0 323.0L1169.0 324.3L1170.0 325.7L1171.0 327.0L1172.0 328.3L1173.0 329.7L1174.0 331.0L1175.0 332.4L1176.0 333.7L1177.0 335.1L1178.0 336.4L1179.0 337.8L1180.0 339.1L1181.0 340.5L1182.0 341.8L1183.0 343.2L1184.0 344.5L1185.0 345.9L1186.0 347.2L1187.0 348.6L1188.0 350.0L1189.0 351.3L1190.0 352.7L1191.0 354.1L1192.0 355.4L1193.0 356.8L1194.0 358.2L1195.0 359.5L1196.0 360.9L1197.0 362.3L1198.0 363.6L1199.0 365.0L1200.0 366.4L1201.0 367.8L1202.0 369.1L1203.0 370.5L1204.0 371.9L1205.0 373.3L1206.0 374.7L1207.0 376.0L1208.0 377.4L1209.0 378.8L1210.0 380.2L1211.0 381.6L1212.0 383.0L1213.0 384.4L1214.0 385.8L1215.0 387.1L1216.0 388.5L1217.0 389.9L1218.0 391.3L1219.0 392.7L1220.0 394.1L1221.0 395.5L1222.0 396.9L1223.0 398.3L1224.0 399.7L1225.0 401.1L1226.0 402.5L1227.0 404.0L1228.0 405.4L1229.0 406.8L1230.0 408.2L1231.0 409.6L1232.0 411.0L1233.0 412.4L1234.0 413.8L1235.0 415.3L1236.0 416.7L1237.0 418.1L1238.0 419.5L1239.0 421.0L1240.0 422.4L1241.0 423.8L1242.0 425.2L1243.0 426.7L1244.0 428.1L1245.0 429.5L1246.0 431.0L1247.0 432.4L1248.0 433.8L1249.0 435.3L1250.0 436.7L1251.0 438.1L1252.0 439.6L1253.0 441.0L1254.0 442.5L1255.0 443.9L1256.0 445.4L1257.0 446.8L1258.0 448.3L1259.0 449.7L1260.0 451.2L1261.0 452.6L1262.0 454.1L1263.0 455.5L1264.0 457.0L1265.0 458.4L1266.0 459.9L1267.0 461.4L1268.0 462.8L1269.0 464.3L1270.0 465.8L1271.0 467.2L1272.0 468.7L1273.0 470.2L1274.0 471.6L1275.0 473.1L1276.0 474.6L1277.0 476.1L1278.0 477.6L1279.0 479.0L1280.0 480.5L1281.0 482.0L1282.0 483.5L1283.0 485.0L1284.0 486.5L1285.0 487.9L1286.0 489.4L1287.0 490.9L1288.0 492.4L1289.0 493.9L1290.0 495.4L1291.0 496.9L1292.0 498.4L1293.0 499.9L1294.0 501.4L1295.0 502.9L1296.0 504.4L1297.0 505.9L1298.0 507.4L1299.0 508.9L1300.0 510.5L1301.0 512.0L1302.0 513.5L1303.0 515.0L1304.0 516.5L1305.0 518.0L1306.0 519.6L1307.0 521.1L1308.0 522.6L1309.0 524.1L1310.0 525.6L1311.0 527.2L1312.0 528.7L1313.0 530.2L1314.0 531.8L1315.0 533.3L1316.0 534.8L1317.0 536.3L1318.0 537.9L1319.0 539.4L1320.0 540.9L1321.0 542.5L1322.0 544.0L1323.0 545.6L1324.0 547.1L1325.0 548.6L1326.0 550.2L1327.0 551.7L1328.0 553.3L1329.0 554.8L1330.0 556.4L1331.0 557.9L1332.0 559.5L1333.0 561.0L1334.0 562.6L1335.0 564.1L1336.0 565.7L1337.0 567.2L1338.0 568.8L1339.0 570.3L1340.0 571.9L1341.0 573.4L1342.0 575.0L1343.0 576.5L1344.0 578.1L1345.0 579.7L1346.0 581.2L1347.0 582.8L1348.0 584.3L1349.0 585.9L1350.0 587.5L1351.0 589.0L1352.0 590.6L1353.0 592.2L1354.0 593.7L1355.0 595.3L1356.0 596.9L1357.0 598.4L1358.0 600.0L1359.0 601.6L1360.0 603.1L1361.0 604.7L1362.0 606.3L1363.0 607.8L1364.0 609.4L1365.0 611.0L1366.0 612.6L1367.0 614.1L1368.0 615.7L1369.0 617.3L1370.0 618.9L1371.0 620.4L1372.0 622.0L1373.0 623.6L1374.0 625.2L1375.0 626.7L1376.0 628.3L1377.0 629.9L1378.0 631.5L1379.0 633.1L1380.0 634.6L1381.0 636.2L1382.0 637.8L1383.0 639.4L1384.0 641.0L1385.0 642.6L1386.0 644.1L1387.0 645.7L1388.0 647.3L1389.0 648.9L1390.0 650.5L1391.0 652.1L1392.0 653.7L1393.0 655.3L1394.0 656.9L1395.0 658.4L1396.0 660.0L1397.0 661.6L1398.0 663.2L1399.0 664.8L1400.0 666.4L1401.0 668.0L1402.0 669.6L1403.0 671.2L1404.0 672.8L1405.0 674.4L1406.0 676.0L1407.0 677.6L1408.0 679.2L1409.0 680.8L1410.0 682.4L1411.0 684.0L1412.0 685.6L1413.0 687.2L1414.0 688.8L1415.0 690.4L1416.0 692.0L1417.0 693.6L1418.0 695.2L1419.0 696.8L1420.0 698.4L1421.0 700.0L1422.0 701.6L1423.0 703.2L1424.0 704.8L1425.0 706.5L1426.0 708.1L1427.0 709.7L1428.0 711.3L1429.0 712.9L1430.0 714.5L1431.0 716.1L1432.0 717.7L1433.0 719.4L1434.0 721.0L1435.0 722.6L1436.0 724.2L1437.0 725.8L1438.0 727.4L1439.0 729.1L1440.0 730.7L1441.0 732.3L1442.0 733.9L1443.0 735.5L1444.0 737.2L1445.0 738.8L1446.0 740.4L1447.0 742.0L1448.0 743.6L1449.0 745.3L1450.0 746.9L1451.0 748.5L1452.0 750.1L1453.0 751.8L1454.0 753.4L1455.0 755.0L1456.0 756.7L1457.0 758.3L1458.0 759.9L1459.0 761.5L1460.0 763.2L1461.0 764.8L1462.0 766.4L1463.0 768.1L1464.0 769.7L1465.0 771.3L1466.0 773.0L1467.0 774.6L1468.0 776.2L1469.0 777.9L1470.0 779.5L1471.0 781.2L1472.0 782.8L1473.0 784.4L1474.0 786.1L1475.0 787.7L1476.0 789.3L1477.0 791.0L1478.0 792.6L1479.0 794.3L1480.0 795.9L1481.0 797.6L1482.0 799.2L1483.0 800.8L1484.0 802.5L1485.0 804.1L1486.0 805.8L1487.0 807.4L1488.0 809.1L1489.0 810.7L1490.0 812.4L1491.0 814.0L1492.0 815.7L1493.0 817.3L1494.0 819.0L1495.0 820.6L1496.0 822.3L1497.0 823.9L1498.0 825.6L1499.0 827.2L1500.0 828.9L1501.0 830.5L1502.0 832.2L1503.0 833.9L1504.0 835.5L1505.0 837.2L1506.0 838.8L1507.0 840.5L1508.0 842.1L1509.0 843.8L1510.0 845.5L1511.0 847.1L1512.0 848.8L1513.0 850.4L1514.0 852.1L1515.0 853.7L1516.0 855.4L1517.0 857.1L1518.0 858.7L1519.0 860.4L1520.0 862.0L1521.0 863.7L1522.0 865.4L1523.0 867.0L1524.0 868.7L1525.0 870.3L1526.0 872.0L1527.0 873.7L1528.0 875.3L1529.0 877.0L1530.0 878.7L1531.0 880.3L1532.0 882.0L1533.0 883.6L1534.0 885.3L1535.0 887.0L1536.0 888.6L1537.0 890.3L1538.0 892.0L1539.0 893.6L1540.0 895.3L1541.0 897.0L1542.0 898.6L1543.0 900.3L1544.0 901.9L1545.0 903.6L1546.0 905.3L1547.0 906.9L1548.0 908.6L1549.0 910.3L1550.0 911.9L1551.0 913.6L1552.0 915.3L1553.0 916.9L1554.0 918.6L1555.0 920.2L1556.0 921.9L1557.0 923.6L1558.0 925.2L1559.0 926.9L1560.0 928.6L1561.0 930.2L1562.0 931.9L1563.0 933.5L1564.0 935.2L1565.0 936.9L1566.0 938.5L1567.0 940.2L1568.0 941.9L1569.0 943.5L1570.0 945.2L1571.0 946.8L1572.0 948.5L1573.0 950.2L1574.0 951.8L1575.0 953.5L1576.0 955.1L1577.0 956.8L1578.0 958.5L1579.0 960.1L1580.0 961.8L1581.0 963.4L1582.0 965.1L1583.0 966.8L1584.0 968.4L1585.0 970.1L1586.0 971.7L1587.0 973.4L1588.0 975.0L1589.0 976.7L1590.0 978.4L1591.0 979.9L1592.0 981.4L1593.0 981.9L1594.0 981.7L1595.0 981.0L1596.0 980.3L1597.0 979.6L1598.0 978.9L1599.0 978.1L1600.0 977.3L1601.0 976.4L1602.0 975.6L1603.0 974.7L1604.0 973.9L1605.0 973.0L1606.0 972.1L1607.0 971.2L1608.0 970.3L1609.0 969.4L1610.0 968.4L1611.0 967.5L1612.0 966.6L1613.0 965.7L1614.0 964.8L1615.0 963.9L1616.0 963.0L1617.0 962.1" stroke="#000" stroke-width="3.4" stroke-dasharray="2.5,3"/>
<path d="M248.0 1089.5L249.6 1089.5L251.2 1089.5L252.8 1089.5L254.4 1089.5L256.0 1089.5L257.6 1089.5L259.2 1089.4L260.8 1089.1L262.4 1088.8L264.0 1088.5L265.5 1085.1L267.1 1081.9L268.6 1078.8L270.1 1075.6L271.6 1072.4L273.2 1069.2L274.7 1066.0L276.2 1062.9L277.7 1059.9L279.3 1056.9L280.8 1054.1L282.3 1051.4L283.8 1048.9L285.4 1046.5L286.9 1044.3L288.4 1042.3L289.9 1040.6L291.5 1039.1L293.0 1037.9L294.6 1036.9L296.2 1035.7L297.9 1034.5L299.5 1033.2L301.1 1031.9L302.8 1030.5L304.4 1029.0L306.0 1027.5L307.5 1027.2L309.0 1025.9L310.5 1024.6L312.0 1023.1L313.5 1021.6L315.0 1020.0L316.5 1018.3L318.0 1016.5L319.5 1014.7L321.0 1012.8L322.5 1010.9L324.0 1008.9L325.5 1006.9L327.0 1004.8L328.5 1002.7L330.0 1000.5L331.5 998.4L333.0 996.2L334.5 993.9L336.0 991.7L337.5 989.4L339.0 987.1L340.5 984.8L342.0 982.5L343.5 980.1L345.0 977.8L346.5 975.4L348.0 973.0L349.5 970.6L351.0 968.2L352.5 965.8L354.0 963.4L355.5 961.0L357.0 958.6L358.5 956.2L360.0 953.8L361.5 951.4L363.0 949.0L364.5 946.6L366.0 944.3L367.5 941.9L369.0 939.6L370.5 937.3L372.0 935.0L373.5 932.7L375.0 930.4L376.5 928.1L378.0 925.9L379.5 923.7L381.0 921.4L382.5 919.2L384.0 917.0L385.5 914.9L387.0 912.7L388.5 910.5L390.0 908.4L391.5 906.3L393.0 904.1L394.5 902.0L396.0 899.9L397.5 897.8L399.0 895.8L400.5 893.7L402.0 891.6L403.5 889.5L405.0 887.5L406.5 885.4L408.0 883.4L409.5 881.4L411.0 879.3L412.5 877.3L414.0 875.3L415.5 873.3L417.0 871.3L418.5 869.3L420.0 867.3L421.5 865.3L423.0 863.3L424.5 861.3L426.0 859.3L427.5 857.3L429.0 855.3L430.5 853.3L432.0 851.4L433.5 849.4L435.0 847.4L436.5 845.4L438.0 843.4L439.5 841.4L441.0 839.4L442.5 837.4L444.0 835.4L445.5 833.4L447.0 831.4L448.5 829.4L450.0 827.4L451.5 825.4L453.0 823.3L454.5 821.3L456.0 819.3L457.5 817.2L459.0 815.2L460.5 813.2L462.0 811.1L463.5 809.0L465.0 807.0L466.5 804.9L468.0 802.8L469.5 800.8L471.0 798.7L472.5 796.6L474.0 794.5L475.5 792.4L477.0 790.3L478.5 788.2L480.0 786.1L481.5 784.0L483.0 781.9L484.5 779.8L486.0 777.7L487.5 775.5L489.0 773.4L490.5 771.3L492.0 769.1L493.5 767.0L495.0 764.8L496.5 762.7L498.0 760.5L499.5 758.4L501.0 756.2L502.5 754.0L504.0 751.9L505.5 749.7L507.0 747.5L508.5 745.3L510.0 743.1L511.5 741.0L513.0 738.8L514.5 736.6L516.0 734.4L517.5 732.2L519.0 730.0L520.5 727.8L522.0 725.5L523.5 723.3L525.0 721.1L526.5 718.9L528.0 716.7L529.5 714.4L531.0 712.2L532.5 710.0L534.0 707.7L535.5 705.5L537.0 703.2L538.5 701.0L540.0 698.8L541.5 696.5L543.0 694.2L544.5 692.0L546.0 689.7L547.5 687.5L549.0 685.2L550.5 682.9L552.0 680.7L553.5 678.4L555.0 676.1L556.5 673.8L558.0 671.6L559.5 669.3L561.0 667.0L562.5 664.7L564.0 662.4L565.5 660.1L567.0 657.8L568.5 655.5L570.0 653.2L571.5 650.9L573.0 648.6L574.5 646.3L576.0 644.0L577.5 641.7L579.0 639.4L580.5 637.1L582.0 634.8L583.5 632.5L585.0 630.1L586.5 627.8L588.0 625.5L589.5 623.2L591.0 620.8L592.5 618.5L594.0 616.2L595.5 613.9L597.0 611.5L598.5 609.2L600.0 606.9L601.5 604.5L603.0 602.2L604.5 599.9L606.0 597.5L607.5 595.2L609.0 592.8L610.5 590.5L612.0 588.2L613.5 585.8L615.0 583.5L616.5 581.1L618.0 578.8L619.5 576.4L621.0 574.1L622.5 571.7L624.0 569.4L625.5 567.0L627.0 564.7L628.5 562.3L630.0 560.0L631.5 557.6L633.0 555.3L634.5 552.9L636.0 550.5L637.5 548.2L639.0 545.8L640.5 543.5L642.0 541.1L643.5 538.7L645.0 536.4L646.5 534.0L648.0 531.7L649.5 529.3L651.0 527.0L652.5 524.6L654.0 522.2L655.5 519.9L657.0 517.5L658.5 515.2L660.0 512.8L661.5 510.4L663.0 508.1L664.5 505.7L666.0 503.4L667.5 501.0L669.0 498.6L670.5 496.3L672.0 493.9L673.5 491.6L675.0 489.2L676.5 486.8L678.0 484.5L679.5 482.1L681.0 479.8L682.5 477.4L684.0 475.1L685.5 472.7L687.0 470.4L688.5 468.0L690.0 465.6L691.5 463.3L693.0 460.9L694.5 458.6L696.0 456.2L697.5 453.9L699.0 451.5L700.5 449.2L702.0 446.8L703.5 444.5L705.0 442.1L706.5 439.8L708.0 437.5L709.5 435.1L711.0 432.8L712.5 430.4L714.0 428.1L715.5 425.7L717.0 423.4L718.5 421.1L720.0 418.7L721.5 416.4L723.0 414.1L724.5 411.7L726.0 409.4L727.5 407.1L729.0 404.7L730.5 402.4L732.0 400.1L733.5 397.7L735.0 395.4L736.5 393.1L738.0 390.8L739.5 388.4L741.0 386.1L742.5 383.8L744.0 381.5L745.5 379.2L747.0 376.9L748.5 374.5L750.0 372.2L751.5 369.9L753.0 367.6L754.5 365.3L756.0 363.0L757.5 360.7L759.0 358.4L760.5 356.1L762.0 353.8L763.5 351.5L765.0 349.2L766.5 346.9L768.0 344.6L769.5 342.3L771.0 340.0L772.5 337.7L774.0 335.4L775.5 333.2L777.0 330.9L778.5 328.6L780.0 326.3L781.5 324.0L783.0 321.8L784.5 319.5L786.0 317.2L787.5 314.9L789.0 312.7L790.5 310.4L792.0 308.1L793.5 305.9L795.0 303.6L796.5 301.4L798.0 299.1L799.5 296.9L801.0 294.6L802.5 292.4L804.0 290.1L805.5 287.9L807.0 285.6L808.5 283.4L810.0 281.2L811.5 278.9L813.0 276.7L814.5 274.5L816.0 272.2L817.5 270.0L819.0 267.8L820.5 265.6L822.0 263.3L823.5 261.1L825.0 258.9L826.5 256.7L828.0 254.5L829.5 252.3L831.0 250.1L832.5 247.9L834.0 245.7L835.5 243.5L837.0 241.3L838.5 239.1L840.0 236.9L841.5 234.8L843.0 232.6L844.5 230.4L846.0 228.2L847.5 226.1L849.0 223.9L850.5 221.7L852.0 219.6L853.5 217.4L855.0 215.2L856.5 213.1L858.0 210.9L859.5 208.8L861.0 206.6L862.5 204.5L864.0 202.4L865.5 200.2L867.0 198.1L868.5 196.0L870.0 193.8L871.5 191.7L873.0 189.6L874.5 187.5L876.0 185.4L877.5 183.3L879.0 181.2L880.5 179.0L882.0 176.9L883.5 174.9L885.0 172.8L886.5 170.7L888.0 168.6L889.5 166.6L891.0 164.5L892.5 162.5L894.0 160.5L895.5 158.6L897.0 156.6L898.5 154.8L900.0 152.9L901.5 151.1L903.0 149.3L904.5 147.6L906.0 146.0L907.5 144.4L909.0 142.8L910.5 141.3L912.0 139.9L913.5 138.6L915.0 137.3L916.5 136.1L918.0 135.0L919.5 133.9L921.0 132.9L922.5 132.0L924.0 131.1L925.5 130.3L927.0 129.5L928.5 128.8L930.0 128.1L931.5 127.4L933.0 126.7L934.5 126.1L936.0 125.6L937.5 125.0L939.0 124.4L940.5 123.9L942.0 123.3L943.5 122.8L945.0 122.3L946.5 121.5L948.0 121.5L949.5 121.5L951.0 121.5L952.5 121.5L954.0 121.5L955.5 121.5L957.0 121.5L958.5 121.5L960.0 121.5L961.5 121.5L963.0 121.5L964.5 121.5L966.0 121.5L967.5 121.5L969.0 121.5L970.5 121.5L972.0 121.5L973.5 121.5L975.0 121.5L976.5 121.5L978.0 121.5L979.5 121.5L981.0 121.5L982.5 121.5L984.0 121.5L985.5 121.5L987.0 121.5L988.5 121.5L990.0 121.5L991.5 123.5L993.0 126.0L994.5 128.4L996.0 130.7L997.5 133.0L999.0 135.1L1000.5 137.2L1002.0 139.3L1003.5 141.3L1005.0 143.2L1006.5 145.0L1008.0 146.9L1009.5 148.6L1011.0 150.3L1012.5 152.0L1014.0 153.6L1015.5 155.2L1017.0 156.7L1018.5 158.3L1020.0 159.8L1021.5 161.2L1023.0 162.7L1024.5 164.1L1026.0 165.5L1027.5 166.9L1029.1 168.3L1030.6 169.7L1032.1 171.1L1033.6 172.5L1035.1 173.9L1036.6 175.3L1038.1 176.7L1039.6 178.1L1041.1 179.6L1042.6 181.0L1044.1 182.5L1045.6 183.9L1047.1 185.4L1048.6 186.9L1050.1 188.4L1051.6 189.9L1053.1 191.4L1054.6 192.9L1056.1 194.4L1057.6 196.0L1059.1 197.5L1060.6 199.1L1062.1 200.7L1063.6 202.2L1065.1 203.8L1066.6 205.4L1068.1 207.0L1069.6 208.6L1071.1 210.2L1072.6 211.9L1074.1 213.5L1075.6 215.1L1077.1 216.8L1078.6 218.5L1080.1 220.1L1081.6 221.8L1083.1 223.5L1084.6 225.2L1086.1 226.9L1087.6 228.6L1089.1 230.3L1090.6 232.0L1092.1 233.8L1093.6 235.5L1095.1 237.2L1096.6 239.0L1098.1 240.8L1099.6 242.5L1101.1 244.3L1102.6 246.1L1104.2 247.9L1105.7 249.7L1107.2 251.5L1108.7 253.3L1110.2 255.1L1111.7 256.9L1113.2 258.7L1114.7 260.6L1116.2 262.4L1117.7 264.3L1119.2 266.1L1120.7 268.0L1122.2 269.8L1123.7 271.7L1125.2 273.6L1126.7 275.5L1128.2 277.4L1129.7 279.3L1131.2 281.2L1132.7 283.1L1134.2 285.0L1135.7 286.9L1137.2 288.8L1138.7 290.8L1140.2 292.7L1141.7 294.6L1143.2 296.6L1144.7 298.5L1146.2 300.5L1147.7 302.5L1149.2 304.4L1150.7 306.4L1152.2 308.4L1153.7 310.3L1155.2 312.3L1156.7 314.3L1158.2 316.3L1159.7 318.3L1161.2 320.3L1162.7 322.3L1164.2 324.3L1165.7 326.3L1167.2 328.4L1168.7 330.4L1170.2 332.4L1171.7 334.4L1173.2 336.5L1174.7 338.5L1176.2 340.5L1177.7 342.6L1179.3 344.6L1180.8 346.7L1182.3 348.7L1183.8 350.8L1185.3 352.9L1186.8 354.9L1188.3 357.0L1189.8 359.1L1191.3 361.1L1192.8 363.2L1194.3 365.3L1195.8 367.4L1197.3 369.4L1198.8 371.5L1200.3 373.6L1201.8 375.7L1203.3 377.8L1204.8 379.9L1206.3 382.0L1207.8 384.1L1209.3 386.2L1210.8 388.4L1212.3 390.5L1213.8 392.6L1215.3 394.7L1216.8 396.8L1218.3 399.0L1219.8 401.1L1221.3 403.2L1222.8 405.4L1224.3 407.5L1225.8 409.6L1227.3 411.8L1228.8 413.9L1230.3 416.1L1231.8 418.2L1233.3 420.4L1234.8 422.6L1236.3 424.7L1237.8 426.9L1239.3 429.0L1240.8 431.2L1242.3 433.4L1243.8 435.6L1245.3 437.7L1246.8 439.9L1248.3 442.1L1249.8 444.3L1251.3 446.5L1252.8 448.7L1254.4 450.9L1255.9 453.1L1257.4 455.3L1258.9 457.5L1260.4 459.7L1261.9 461.9L1263.4 464.1L1264.9 466.3L1266.4 468.5L1267.9 470.7L1269.4 473.0L1270.9 475.2L1272.4 477.4L1273.9 479.6L1275.4 481.9L1276.9 484.1L1278.4 486.3L1279.9 488.6L1281.4 490.8L1282.9 493.1L1284.4 495.3L1285.9 497.5L1287.4 499.8L1288.9 502.1L1290.4 504.3L1291.9 506.6L1293.4 508.8L1294.9 511.1L1296.4 513.4L1297.9 515.6L1299.4 517.9L1300.9 520.2L1302.4 522.4L1303.9 524.7L1305.4 527.0L1306.9 529.3L1308.4 531.6L1309.9 533.8L1311.4 536.1L1312.9 538.4L1314.4 540.7L1315.9 543.0L1317.4 545.3L1318.9 547.6L1320.4 549.9L1321.9 552.2L1323.4 554.5L1324.9 556.8L1326.4 559.1L1327.9 561.4L1329.5 563.8L1331.0 566.1L1332.5 568.4L1334.0 570.7L1335.5 573.0L1337.0 575.4L1338.5 577.7L1340.0 580.0L1341.5 582.3L1343.0 584.7L1344.5 587.0L1346.0 589.4L1347.5 591.7L1349.0 594.0L1350.5 596.4L1352.0 598.7L1353.5 601.1L1355.0 603.4L1356.5 605.8L1358.0 608.1L1359.5 610.5L1361.0 612.8L1362.5 615.2L1364.0 617.6L1365.5 619.9L1367.0 622.3L1368.5 624.6L1370.0 627.0L1371.5 629.4L1373.0 631.8L1374.5 634.1L1376.0 636.5L1377.5 638.9L1379.0 641.3L1380.5 643.6L1382.0 646.0L1383.5 648.4L1385.0 650.8L1386.5 653.2L1388.0 655.6L1389.5 658.0L1391.0 660.4L1392.5 662.7L1394.0 665.1L1395.5 667.5L1397.0 669.9L1398.5 672.3L1400.0 674.7L1401.5 677.1L1403.0 679.6L1404.6 682.0L1406.1 684.4L1407.6 686.8L1409.1 689.2L1410.6 691.6L1412.1 694.0L1413.6 696.4L1415.1 698.9L1416.6 701.3L1418.1 703.7L1419.6 706.1L1421.1 708.5L1422.6 711.0L1424.1 713.4L1425.6 715.8L1427.1 718.3L1428.6 720.7L1430.1 723.1L1431.6 725.6L1433.1 728.0L1434.6 730.4L1436.1 732.9L1437.6 735.3L1439.1 737.7L1440.6 740.2L1442.1 742.6L1443.6 745.1L1445.1 747.5L1446.6 750.0L1448.1 752.4L1449.6 754.9L1451.1 757.3L1452.6 759.8L1454.1 762.2L1455.6 764.7L1457.1 767.1L1458.6 769.6L1460.1 772.1L1461.6 774.5L1463.1 777.0L1464.6 779.4L1466.1 781.9L1467.6 784.4L1469.1 786.8L1470.6 789.3L1472.1 791.8L1473.6 794.2L1475.1 796.7L1476.6 799.2L1478.1 801.7L1479.7 804.1L1481.2 806.6L1482.7 809.1L1484.2 811.6L1485.7 814.0L1487.2 816.5L1488.7 819.0L1490.2 821.5L1491.7 824.0L1493.2 826.4L1494.7 828.9L1496.2 831.4L1497.7 833.9L1499.2 836.4L1500.7 838.9L1502.2 841.4L1503.7 843.9L1505.2 846.3L1506.7 848.8L1508.2 851.3L1509.7 853.8L1511.2 856.3L1512.7 858.8L1514.2 861.3L1515.7 863.8L1517.2 866.3L1518.7 868.8L1520.2 871.3L1521.7 873.8L1523.2 876.3L1524.7 878.8L1526.2 881.3L1527.7 883.8L1529.2 886.3L1530.7 888.8L1532.2 891.3L1533.7 893.8L1535.2 896.3L1536.7 898.8L1538.2 901.3L1539.7 903.8L1541.2 906.3L1542.7 908.9L1544.2 911.4L1545.7 913.9L1547.2 916.4L1548.7 918.9L1550.2 921.4L1551.7 923.9L1553.2 926.4L1554.8 928.9L1556.3 931.5L1557.8 934.0L1559.3 936.5L1560.8 939.0L1562.3 941.5L1563.8 944.0L1565.3 946.5L1566.8 949.1L1568.3 951.6L1569.8 954.1L1571.3 956.6L1572.8 959.1L1574.3 961.7L1575.8 964.2L1577.3 966.7L1578.8 969.2L1580.3 971.7L1581.8 974.3L1583.3 976.8L1584.8 979.3L1586.3 981.8L1587.8 984.3L1589.3 986.9L1590.8 989.4L1592.3 991.9L1593.8 991.7L1595.4 990.4L1596.9 989.1L1598.5 987.8L1600.0 986.4L1601.6 985.1L1603.1 983.8L1604.7 982.4L1606.2 981.1L1607.7 979.7L1609.3 978.4L1610.8 977.0L1612.4 975.6L1613.9 974.3L1615.5 972.9L1617.0 971.5" stroke="#080808" stroke-width="5.4"/>
</g>
<rect x="245.30" y="55.15" width="1372.20" height="2.8" fill="#d4d4d4"/><rect x="245.30" y="60.95" width="1372.20" height="3.0" fill="#7a7a7a"/><rect x="245.30" y="57.95" width="1372.20" height="3.0" fill="#555555"/><rect x="245.30" y="1157.00" width="1374.70" height="2.8" fill="#c0c0c0"/><rect x="245.30" y="1162.80" width="1374.70" height="3.0" fill="#969696"/><rect x="245.30" y="1159.80" width="1374.70" height="3.0" fill="#525252"/><rect x="248.20" y="1088.13" width="10.50" height="2.8" fill="#c8c8c8"/><rect x="248.20" y="1093.93" width="10.50" height="3.0" fill="#8a8a8a"/><rect x="248.20" y="1090.93" width="10.50" height="3.0" fill="#555555"/><rect x="248.20" y="1019.27" width="20.70" height="2.8" fill="#c8c8c8"/><rect x="248.20" y="1025.07" width="20.70" height="3.0" fill="#8a8a8a"/><rect x="248.20" y="1022.07" width="20.70" height="3.0" fill="#555555"/><rect x="248.20" y="950.40" width="10.50" height="2.8" fill="#c8c8c8"/><rect x="248.20" y="956.20" width="10.50" height="3.0" fill="#8a8a8a"/><rect x="248.20" y="953.20" width="10.50" height="3.0" fill="#555555"/><rect x="248.20" y="881.54" width="20.70" height="2.8" fill="#c8c8c8"/><rect x="248.20" y="887.34" width="20.70" height="3.0" fill="#8a8a8a"/><rect x="248.20" y="884.34" width="20.70" height="3.0" fill="#555555"/><rect x="248.20" y="812.67" width="10.50" height="2.8" fill="#c8c8c8"/><rect x="248.20" y="818.47" width="10.50" height="3.0" fill="#8a8a8a"/><rect x="248.20" y="815.47" width="10.50" height="3.0" fill="#555555"/><rect x="248.20" y="743.81" width="20.70" height="2.8" fill="#c8c8c8"/><rect x="248.20" y="749.61" width="20.70" height="3.0" fill="#8a8a8a"/><rect x="248.20" y="746.61" width="20.70" height="3.0" fill="#555555"/><rect x="248.20" y="674.94" width="10.50" height="2.8" fill="#c8c8c8"/><rect x="248.20" y="680.74" width="10.50" height="3.0" fill="#8a8a8a"/><rect x="248.20" y="677.74" width="10.50" height="3.0" fill="#555555"/><rect x="248.20" y="606.08" width="20.70" height="2.8" fill="#c8c8c8"/><rect x="248.20" y="611.88" width="20.70" height="3.0" fill="#8a8a8a"/><rect x="248.20" y="608.88" width="20.70" height="3.0" fill="#555555"/><rect x="248.20" y="537.21" width="10.50" height="2.8" fill="#c8c8c8"/><rect x="248.20" y="543.01" width="10.50" height="3.0" fill="#8a8a8a"/><rect x="248.20" y="540.01" width="10.50" height="3.0" fill="#555555"/><rect x="248.20" y="468.34" width="20.70" height="2.8" fill="#c8c8c8"/><rect x="248.20" y="474.14" width="20.70" height="3.0" fill="#8a8a8a"/><rect x="248.20" y="471.14" width="20.70" height="3.0" fill="#555555"/><rect x="248.20" y="399.48" width="10.50" height="2.8" fill="#c8c8c8"/><rect x="248.20" y="405.28" width="10.50" height="3.0" fill="#8a8a8a"/><rect x="248.20" y="402.28" width="10.50" height="3.0" fill="#555555"/><rect x="248.20" y="330.61" width="20.70" height="2.8" fill="#c8c8c8"/><rect x="248.20" y="336.41" width="20.70" height="3.0" fill="#8a8a8a"/><rect x="248.20" y="333.41" width="20.70" height="3.0" fill="#555555"/><rect x="248.20" y="261.75" width="10.50" height="2.8" fill="#c8c8c8"/><rect x="248.20" y="267.55" width="10.50" height="3.0" fill="#8a8a8a"/><rect x="248.20" y="264.55" width="10.50" height="3.0" fill="#555555"/><rect x="248.20" y="192.88" width="20.70" height="2.8" fill="#c8c8c8"/><rect x="248.20" y="198.68" width="20.70" height="3.0" fill="#8a8a8a"/><rect x="248.20" y="195.68" width="20.70" height="3.0" fill="#555555"/><rect x="248.20" y="124.02" width="10.50" height="2.8" fill="#c8c8c8"/><rect x="248.20" y="129.82" width="10.50" height="3.0" fill="#8a8a8a"/><rect x="248.20" y="126.82" width="10.50" height="3.0" fill="#555555"/><rect x="330.78" y="1147.90" width="3.0" height="2.6" fill="#9a9a9a"/><rect x="330.78" y="1150.50" width="3.00" height="9.30" fill="#111111"/><rect x="333.78" y="1150.50" width="2.90" height="9.30" fill="#8c8c8c"/><rect x="416.36" y="1137.70" width="3.0" height="2.6" fill="#9a9a9a"/><rect x="416.36" y="1140.30" width="3.00" height="19.50" fill="#111111"/><rect x="419.36" y="1140.30" width="2.90" height="19.50" fill="#8c8c8c"/><rect x="501.94" y="1147.90" width="3.0" height="2.6" fill="#9a9a9a"/><rect x="501.94" y="1150.50" width="3.00" height="9.30" fill="#111111"/><rect x="504.94" y="1150.50" width="2.90" height="9.30" fill="#8c8c8c"/><rect x="587.52" y="1137.70" width="3.0" height="2.6" fill="#9a9a9a"/><rect x="587.52" y="1140.30" width="3.00" height="19.50" fill="#111111"/><rect x="590.52" y="1140.30" width="2.90" height="19.50" fill="#8c8c8c"/><rect x="673.11" y="1147.90" width="3.0" height="2.6" fill="#9a9a9a"/><rect x="673.11" y="1150.50" width="3.00" height="9.30" fill="#111111"/><rect x="676.11" y="1150.50" width="2.90" height="9.30" fill="#8c8c8c"/><rect x="758.69" y="1137.70" width="3.0" height="2.6" fill="#9a9a9a"/><rect x="758.69" y="1140.30" width="3.00" height="19.50" fill="#111111"/><rect x="761.69" y="1140.30" width="2.90" height="19.50" fill="#8c8c8c"/><rect x="844.27" y="1147.90" width="3.0" height="2.6" fill="#9a9a9a"/><rect x="844.27" y="1150.50" width="3.00" height="9.30" fill="#111111"/><rect x="847.27" y="1150.50" width="2.90" height="9.30" fill="#8c8c8c"/><rect x="929.85" y="1137.70" width="3.0" height="2.6" fill="#9a9a9a"/><rect x="929.85" y="1140.30" width="3.00" height="19.50" fill="#111111"/><rect x="932.85" y="1140.30" width="2.90" height="19.50" fill="#8c8c8c"/><rect x="1015.43" y="1147.90" width="3.0" height="2.6" fill="#9a9a9a"/><rect x="1015.43" y="1150.50" width="3.00" height="9.30" fill="#111111"/><rect x="1018.43" y="1150.50" width="2.90" height="9.30" fill="#8c8c8c"/><rect x="1101.01" y="1137.70" width="3.0" height="2.6" fill="#9a9a9a"/><rect x="1101.01" y="1140.30" width="3.00" height="19.50" fill="#111111"/><rect x="1104.01" y="1140.30" width="2.90" height="19.50" fill="#8c8c8c"/><rect x="1186.59" y="1147.90" width="3.0" height="2.6" fill="#9a9a9a"/><rect x="1186.59" y="1150.50" width="3.00" height="9.30" fill="#111111"/><rect x="1189.59" y="1150.50" width="2.90" height="9.30" fill="#8c8c8c"/><rect x="1272.17" y="1137.70" width="3.0" height="2.6" fill="#9a9a9a"/><rect x="1272.17" y="1140.30" width="3.00" height="19.50" fill="#111111"/><rect x="1275.17" y="1140.30" width="2.90" height="19.50" fill="#8c8c8c"/><rect x="1357.76" y="1147.90" width="3.0" height="2.6" fill="#9a9a9a"/><rect x="1357.76" y="1150.50" width="3.00" height="9.30" fill="#111111"/><rect x="1360.76" y="1150.50" width="2.90" height="9.30" fill="#8c8c8c"/><rect x="1443.34" y="1137.70" width="3.0" height="2.6" fill="#9a9a9a"/><rect x="1443.34" y="1140.30" width="3.00" height="19.50" fill="#111111"/><rect x="1446.34" y="1140.30" width="2.90" height="19.50" fill="#8c8c8c"/><rect x="1528.92" y="1147.90" width="3.0" height="2.6" fill="#9a9a9a"/><rect x="1528.92" y="1150.50" width="3.00" height="9.30" fill="#111111"/><rect x="1531.92" y="1150.50" width="2.90" height="9.30" fill="#8c8c8c"/><rect x="245.30" y="56.50" width="2.90" height="1107.50" fill="#151515"/><rect x="248.20" y="56.50" width="2.80" height="1107.50" fill="#8a8a8a"/><rect x="1614.20" y="60.60" width="2.70" height="1103.40" fill="#444444"/><rect x="1616.90" y="60.60" width="2.90" height="1103.40" fill="#666666"/>
<g font-family="Liberation Sans, Arial, sans-serif" font-size="46" fill="#0e0e0e"><text transform="translate(224.0 1177.5) scale(1 1.085)" text-anchor="end">24</text><text transform="translate(224.0 1039.8) scale(1 1.085)" text-anchor="end">26</text><text transform="translate(224.0 902.0) scale(1 1.085)" text-anchor="end">28</text><text transform="translate(224.0 764.3) scale(1 1.085)" text-anchor="end">30</text><text transform="translate(224.0 626.6) scale(1 1.085)" text-anchor="end">32</text><text transform="translate(224.0 488.8) scale(1 1.085)" text-anchor="end">34</text><text transform="translate(224.0 351.1) scale(1 1.085)" text-anchor="end">36</text><text transform="translate(224.0 213.4) scale(1 1.085)" text-anchor="end">38</text><text transform="translate(224.0 75.7) scale(1 1.085)" text-anchor="end">40</text><text transform="translate(248.8 1222.0) scale(1 1.085)" text-anchor="middle">0</text><text transform="translate(420.0 1222.0) scale(1 1.085)" text-anchor="middle">500</text><text transform="translate(591.1 1222.0) scale(1 1.085)" text-anchor="middle">1000</text><text transform="translate(762.3 1222.0) scale(1 1.085)" text-anchor="middle">1500</text><text transform="translate(933.4 1222.0) scale(1 1.085)" text-anchor="middle">2000</text><text transform="translate(1104.6 1222.0) scale(1 1.085)" text-anchor="middle">2500</text><text transform="translate(1275.8 1222.0) scale(1 1.085)" text-anchor="middle">3000</text><text transform="translate(1446.9 1222.0) scale(1 1.085)" text-anchor="middle">3500</text><text transform="translate(1618.1 1222.0) scale(1 1.085)" text-anchor="middle">4000</text></g>
<text transform="translate(932.5 1311.5) scale(1 1.045)" font-family="Liberation Sans, Arial, sans-serif" font-size="58" fill="#0e0e0e" text-anchor="middle" xml:space="preserve">Time  [s]</text>
<text font-family="Liberation Sans, Arial, sans-serif" font-size="58.5" style="font-kerning:normal" fill="#0e0e0e" transform="translate(108 595.8) rotate(-90)" text-anchor="middle" xml:space="preserve">Temperature  [°C]</text>
<rect x="1617.5" y="55.5" width="231" height="2.6" fill="#e2e2e2"/><rect x="1617.5" y="58.1" width="231" height="2.8" fill="#bdbdbd"/><rect x="1617.5" y="60.9" width="228" height="2.6" fill="#e0e0e0"/><rect x="1617.5" y="758" width="230" height="2.6" fill="#e4e4e4"/><rect x="1617.5" y="760.6" width="230" height="3.4" fill="#c4c4c4"/><rect x="1617.5" y="764" width="230" height="2.2" fill="#dcdcdc"/><rect x="1845" y="58" width="2.8" height="706" fill="#8a8a8a"/><rect x="1620" y="60" width="1.6" height="700" fill="#d8d8d8"/>
<rect x="1616.9" y="58" width="2.9" height="706" fill="#c0c0c0"/>
<rect x="1614.2" y="60.6" width="2.7" height="1103.4" fill="#444444"/>
<g font-family="Liberation Sans, Arial, sans-serif"><text transform="translate(1638.2 111.0) scale(1 1.085)" font-weight="bold" font-size="46.5" fill="#080808">HDPE-15</text><line x1="1648.8" y1="152.2" x2="1744" y2="152.2" stroke="#ff4040" stroke-width="3.8" stroke-dasharray="20,17.5"/><text transform="translate(1768.0 169.0) scale(1 1.085)" font-size="46" fill="#0e0e0e">01</text><line x1="1648.8" y1="209.8" x2="1744" y2="209.8" stroke="#44ff44" stroke-width="3.8" stroke-dasharray="20,17.5"/><text transform="translate(1768.0 226.7) scale(1 1.085)" font-size="46" fill="#0e0e0e">02</text><line x1="1648.8" y1="267.5" x2="1744" y2="267.5" stroke="#4444ff" stroke-width="3.8" stroke-dasharray="20,17.5"/><text transform="translate(1768.0 284.3) scale(1 1.085)" font-size="46" fill="#0e0e0e">03</text><line x1="1648" y1="325.1" x2="1757.5" y2="325.1" stroke="#444" stroke-width="5.5"/><text transform="translate(1768.0 341.9) scale(1 1.085)" font-size="46" fill="#0e0e0e">04</text><line x1="1648" y1="440.4" x2="1757.5" y2="440.4" stroke="#ff4646" stroke-width="3.6"/><text transform="translate(1768.0 457.2) scale(1 1.085)" font-size="46" fill="#0e0e0e">00</text><line x1="1648" y1="498.1" x2="1757.5" y2="498.1" stroke="#ff46ff" stroke-width="3.6"/><text transform="translate(1768.0 514.9) scale(1 1.085)" font-size="46" fill="#0e0e0e">05</text><line x1="1648" y1="555.8" x2="1757.5" y2="555.8" stroke="#46ff46" stroke-width="3.6"/><text transform="translate(1768.0 572.5) scale(1 1.085)" font-size="46" fill="#0e0e0e">10</text><line x1="1648" y1="613.4" x2="1757.5" y2="613.4" stroke="#55ffff" stroke-width="3.6"/><text transform="translate(1768.0 630.2) scale(1 1.085)" font-size="46" fill="#0e0e0e">15</text><line x1="1648" y1="671.0" x2="1757.5" y2="671.0" stroke="#4646ff" stroke-width="3.6"/><text transform="translate(1768.0 687.8) scale(1 1.085)" font-size="46" fill="#0e0e0e">20</text><line x1="1648" y1="728.7" x2="1757.5" y2="728.7" stroke="#f2e88c" stroke-width="3.6"/><text transform="translate(1768.0 745.5) scale(1 1.085)" font-size="46" fill="#0e0e0e">25</text></g>
<g font-family="Liberation Sans, Arial, sans-serif"><text transform="translate(1073.0 981.0) scale(1 1.085)" font-weight="bold" font-size="47" fill="#080808">Computed</text><text transform="translate(1074.0 1037.0) scale(1 1.085)" font-size="47" fill="#0e0e0e">surface temperature</text><text transform="translate(1074.0 1094.5) scale(1 1.085)" font-size="47" fill="#0e0e0e">axial temperature</text><line x1="927.5" y1="1023" x2="1029" y2="1023" stroke="#1a1a1a" stroke-width="4.2" stroke-dasharray="3.8,6.9"/><line x1="927.5" y1="1080" x2="1037" y2="1080" stroke="#080808" stroke-width="4.4" stroke-dasharray="12.5,11.57"/></g>
</g>
</svg>
</body></html>
